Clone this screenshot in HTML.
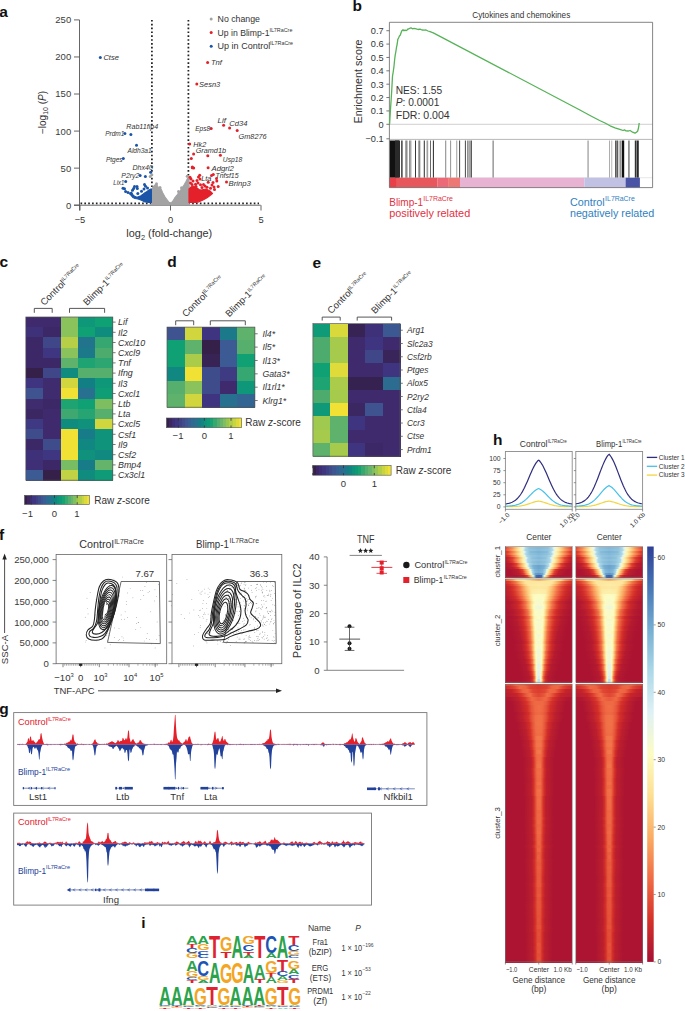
<!DOCTYPE html>
<html><head><meta charset="utf-8"><style>
html,body{margin:0;padding:0;background:#fff;width:685px;height:1011px;overflow:hidden}
svg{display:block}
text{font-family:"Liberation Sans", sans-serif}
</style></head><body>
<svg width="685" height="1011" viewBox="0 0 685 1011">
<text x="-0.8" y="16.6" font-size="15.5" text-anchor="start" fill="#111" font-weight="bold">a</text>
<line x1="79.5" y1="19.9" x2="79.5" y2="210.5" stroke="#555" stroke-width="0.9" />
<line x1="74" y1="205.2" x2="79.5" y2="205.2" stroke="#555" stroke-width="0.9" />
<text x="71.2" y="208.62" font-size="9.5" text-anchor="end" fill="#3a3a3a">0</text>
<line x1="74" y1="168.14" x2="79.5" y2="168.14" stroke="#555" stroke-width="0.9" />
<text x="71.2" y="171.56" font-size="9.5" text-anchor="end" fill="#3a3a3a">50</text>
<line x1="74" y1="131.08" x2="79.5" y2="131.08" stroke="#555" stroke-width="0.9" />
<text x="71.2" y="134.5" font-size="9.5" text-anchor="end" fill="#3a3a3a">100</text>
<line x1="74" y1="94.02" x2="79.5" y2="94.02" stroke="#555" stroke-width="0.9" />
<text x="71.2" y="97.44" font-size="9.5" text-anchor="end" fill="#3a3a3a">150</text>
<line x1="74" y1="56.96" x2="79.5" y2="56.96" stroke="#555" stroke-width="0.9" />
<text x="71.2" y="60.38" font-size="9.5" text-anchor="end" fill="#3a3a3a">200</text>
<line x1="74" y1="19.9" x2="79.5" y2="19.9" stroke="#555" stroke-width="0.9" />
<text x="71.2" y="23.32" font-size="9.5" text-anchor="end" fill="#3a3a3a">250</text>
<line x1="74" y1="205.2" x2="260.6" y2="205.2" stroke="#555" stroke-width="0.9" />
<line x1="80" y1="205.2" x2="80" y2="210.5" stroke="#555" stroke-width="0.9" />
<text x="80" y="222.55" font-size="9.3" text-anchor="middle" fill="#333">−5</text>
<line x1="170.5" y1="205.2" x2="170.5" y2="210.5" stroke="#555" stroke-width="0.9" />
<text x="170.5" y="222.55" font-size="9.3" text-anchor="middle" fill="#333">0</text>
<line x1="261" y1="205.2" x2="261" y2="210.5" stroke="#555" stroke-width="0.9" />
<text x="261" y="222.55" font-size="9.3" text-anchor="middle" fill="#333">5</text>
<text transform="translate(45.5,112.5) rotate(-90)" font-size="10" text-anchor="middle" fill="#333">−log<tspan font-size="7" dy="2.5">10</tspan><tspan dy="-2.5"> (</tspan><tspan font-style="italic">P</tspan>)</text>
<text x="169.3" y="237.22" font-size="10.9" text-anchor="middle" fill="#333">log<tspan font-size="7.4" dy="2.6">2</tspan><tspan dy="-2.6"> (fold-change)</tspan></text>
<line x1="151.9" y1="19.9" x2="151.9" y2="204" stroke="#222" stroke-width="1.75" stroke-dasharray="1.65 2.2"/>
<line x1="188.4" y1="19.9" x2="188.4" y2="204" stroke="#222" stroke-width="1.75" stroke-dasharray="1.65 2.2"/>
<line x1="80.5" y1="203.4" x2="259" y2="203.4" stroke="#222" stroke-width="1.75" stroke-dasharray="1.65 2.2"/>
<polygon points="151.4,204.6 151.4,190.5 153,187 155,185 156.5,184.3 157.5,186 158.5,188 160.5,188.3 161.5,190 162.5,192.5 165,197 168,201 170.3,204.2 173,201 175,197.5 177,195 180,191 182,188 184,185 186,181.5 187.5,178.5 189,178 189,204.6" fill="#a3a3a3" stroke="#a3a3a3" stroke-width="1.2" stroke-linejoin="round"/>
<circle cx="187.2" cy="176.2" r="1.5" fill="#a3a3a3"/>
<circle cx="151.8" cy="174.8" r="1.5" fill="#a3a3a3"/>
<circle cx="150.2" cy="176.5" r="1.5" fill="#a3a3a3"/>
<circle cx="156.5" cy="183.8" r="1.5" fill="#a3a3a3"/>
<circle cx="160" cy="187.6" r="1.5" fill="#a3a3a3"/>
<circle cx="181.5" cy="187.7" r="1.5" fill="#a3a3a3"/>
<circle cx="178.5" cy="191.5" r="1.5" fill="#a3a3a3"/>
<polygon points="131.5,192 133,195 134.5,196.3 137,197.3 139,196.5 141,195.8 143,194.3 145,192.7 147,191.4 149,190 150.5,189.2 151.4,189 151.4,202.4 148.5,202.3 145,202 141.5,200.2 138,199 135,198.5 133,197.5 130.5,194.5" fill="#1a55a8" stroke="#1a55a8" stroke-width="1.2" stroke-linejoin="round"/>
<circle cx="150.6" cy="172.3" r="1.5" fill="#1a55a8"/>
<circle cx="140.1" cy="175.5" r="1.5" fill="#1a55a8"/>
<circle cx="145.4" cy="176.4" r="1.5" fill="#1a55a8"/>
<circle cx="125.7" cy="181.6" r="1.5" fill="#1a55a8"/>
<circle cx="123" cy="188.2" r="1.5" fill="#1a55a8"/>
<circle cx="124.5" cy="188.8" r="1.5" fill="#1a55a8"/>
<circle cx="125.6" cy="191.6" r="1.5" fill="#1a55a8"/>
<circle cx="130.5" cy="193.4" r="1.5" fill="#1a55a8"/>
<circle cx="132.5" cy="190.2" r="1.5" fill="#1a55a8"/>
<circle cx="134.5" cy="186.5" r="1.5" fill="#1a55a8"/>
<circle cx="137" cy="186.5" r="1.5" fill="#1a55a8"/>
<circle cx="137.3" cy="188.5" r="1.5" fill="#1a55a8"/>
<circle cx="144.5" cy="184.5" r="1.5" fill="#1a55a8"/>
<circle cx="145.5" cy="186.2" r="1.5" fill="#1a55a8"/>
<circle cx="144" cy="189" r="1.5" fill="#1a55a8"/>
<circle cx="137.8" cy="193.4" r="1.5" fill="#1a55a8"/>
<circle cx="128" cy="192.5" r="1.5" fill="#1a55a8"/>
<circle cx="133.6" cy="188.4" r="1.5" fill="#1a55a8"/>
<circle cx="141.5" cy="191.2" r="1.5" fill="#1a55a8"/>
<circle cx="147.5" cy="188" r="1.5" fill="#1a55a8"/>
<circle cx="100.3" cy="57.6" r="1.5" fill="#1a55a8"/>
<circle cx="124.9" cy="133.6" r="1.5" fill="#1a55a8"/>
<circle cx="130.9" cy="134.6" r="1.5" fill="#1a55a8"/>
<circle cx="136.5" cy="145.2" r="1.5" fill="#1a55a8"/>
<circle cx="123.3" cy="158.4" r="1.5" fill="#1a55a8"/>
<polygon points="189,189 191,187 193,186 195,187 197,188 199,189.5 201,190 203.5,189.5 206,189 208,190 210,191 212.5,193.5 210,195.5 207,197.8 203,200 199,201.8 196,202.3 192.5,202.4 189,202.4" fill="#e4202b" stroke="#e4202b" stroke-width="1.2" stroke-linejoin="round"/>
<circle cx="192.3" cy="167.8" r="1.5" fill="#e4202b"/>
<circle cx="193.7" cy="168" r="1.5" fill="#e4202b"/>
<circle cx="208.1" cy="167.8" r="1.5" fill="#e4202b"/>
<circle cx="213.3" cy="174.5" r="1.5" fill="#e4202b"/>
<circle cx="211.5" cy="175.5" r="1.5" fill="#e4202b"/>
<circle cx="199.7" cy="175.3" r="1.5" fill="#e4202b"/>
<circle cx="198.5" cy="177" r="1.5" fill="#e4202b"/>
<circle cx="200" cy="179" r="1.5" fill="#e4202b"/>
<circle cx="197" cy="180.5" r="1.5" fill="#e4202b"/>
<circle cx="190" cy="177.3" r="1.5" fill="#e4202b"/>
<circle cx="191" cy="179" r="1.5" fill="#e4202b"/>
<circle cx="216.5" cy="178.5" r="1.5" fill="#e4202b"/>
<circle cx="216.8" cy="181" r="1.5" fill="#e4202b"/>
<circle cx="226.5" cy="182" r="1.5" fill="#e4202b"/>
<circle cx="208.2" cy="182.3" r="1.5" fill="#e4202b"/>
<circle cx="213" cy="182.5" r="1.5" fill="#e4202b"/>
<circle cx="212" cy="185" r="1.5" fill="#e4202b"/>
<circle cx="214" cy="187" r="1.5" fill="#e4202b"/>
<circle cx="214.5" cy="189.4" r="1.5" fill="#e4202b"/>
<circle cx="218.2" cy="186.4" r="1.5" fill="#e4202b"/>
<circle cx="193" cy="181" r="1.5" fill="#e4202b"/>
<circle cx="192" cy="184.5" r="1.5" fill="#e4202b"/>
<circle cx="200.5" cy="184.7" r="1.5" fill="#e4202b"/>
<circle cx="203.5" cy="184.5" r="1.5" fill="#e4202b"/>
<circle cx="205" cy="186" r="1.5" fill="#e4202b"/>
<circle cx="195.5" cy="184.2" r="1.5" fill="#e4202b"/>
<circle cx="190.5" cy="183" r="1.5" fill="#e4202b"/>
<circle cx="196" cy="186.5" r="1.5" fill="#e4202b"/>
<circle cx="207" cy="187.3" r="1.5" fill="#e4202b"/>
<circle cx="210.5" cy="188.2" r="1.5" fill="#e4202b"/>
<circle cx="202" cy="187.6" r="1.5" fill="#e4202b"/>
<circle cx="198" cy="183" r="1.5" fill="#e4202b"/>
<circle cx="207.6" cy="62.5" r="1.5" fill="#e4202b"/>
<circle cx="196.8" cy="84.1" r="1.5" fill="#e4202b"/>
<circle cx="223.6" cy="125.2" r="1.5" fill="#e4202b"/>
<circle cx="229.6" cy="128.1" r="1.5" fill="#e4202b"/>
<circle cx="237.2" cy="130.5" r="1.5" fill="#e4202b"/>
<circle cx="211.2" cy="128.4" r="1.5" fill="#e4202b"/>
<circle cx="189.7" cy="144.1" r="1.5" fill="#e4202b"/>
<circle cx="193.6" cy="153.9" r="1.5" fill="#e4202b"/>
<circle cx="207.8" cy="155.7" r="1.5" fill="#e4202b"/>
<circle cx="220.4" cy="155.2" r="1.5" fill="#e4202b"/>
<circle cx="191.3" cy="158.6" r="1.5" fill="#e4202b"/>
<circle cx="192.3" cy="166.9" r="1.5" fill="#e4202b"/>
<text x="126.3" y="129.34" font-size="7.6" text-anchor="start" fill="#333" font-style="italic" textLength="31.9" lengthAdjust="spacingAndGlyphs">Rab11fip4</text>
<text x="105.2" y="136.44" font-size="7.6" text-anchor="start" fill="#333" font-style="italic" textLength="19.2" lengthAdjust="spacingAndGlyphs">Prdm1</text>
<text x="127.5" y="153.34" font-size="7.6" text-anchor="start" fill="#333" font-style="italic" textLength="24.2" lengthAdjust="spacingAndGlyphs">Aldh3a1</text>
<text x="105.9" y="161.54" font-size="7.6" text-anchor="start" fill="#333" font-style="italic" textLength="16.7" lengthAdjust="spacingAndGlyphs">Ptges</text>
<text x="132.5" y="170.24" font-size="7.6" text-anchor="start" fill="#333" font-style="italic" textLength="20.4" lengthAdjust="spacingAndGlyphs">Dhx40</text>
<text x="121.3" y="178.44" font-size="7.6" text-anchor="start" fill="#333" font-style="italic" textLength="18" lengthAdjust="spacingAndGlyphs">P2ry2</text>
<text x="113.3" y="184.64" font-size="7.6" text-anchor="start" fill="#333" font-style="italic" textLength="11" lengthAdjust="spacingAndGlyphs">Lix1</text>
<text x="195.2" y="131.14" font-size="7.6" text-anchor="start" fill="#333" font-style="italic" textLength="15" lengthAdjust="spacingAndGlyphs">Eps8</text>
<text x="217.5" y="122.54" font-size="7.6" text-anchor="start" fill="#333" font-style="italic" textLength="8.5" lengthAdjust="spacingAndGlyphs">Lif</text>
<text x="229.3" y="126.34" font-size="7.6" text-anchor="start" fill="#333" font-style="italic" textLength="18.2" lengthAdjust="spacingAndGlyphs">Cd34</text>
<text x="238.5" y="139.04" font-size="7.6" text-anchor="start" fill="#333" font-style="italic" textLength="28.2" lengthAdjust="spacingAndGlyphs">Gm8276</text>
<text x="193.3" y="146.94" font-size="7.6" text-anchor="start" fill="#333" font-style="italic" textLength="12.9" lengthAdjust="spacingAndGlyphs">Hk2</text>
<text x="195.7" y="153.14" font-size="7.6" text-anchor="start" fill="#333" font-style="italic" textLength="30.3" lengthAdjust="spacingAndGlyphs">Gramd1b</text>
<text x="222.8" y="161.84" font-size="7.6" text-anchor="start" fill="#333" font-style="italic" textLength="19.5" lengthAdjust="spacingAndGlyphs">Usp18</text>
<text x="211.5" y="170.54" font-size="7.6" text-anchor="start" fill="#333" font-style="italic" textLength="22.4" lengthAdjust="spacingAndGlyphs">Adgrl2</text>
<text x="215.4" y="177.64" font-size="7.6" text-anchor="start" fill="#333" font-style="italic" textLength="23.2" lengthAdjust="spacingAndGlyphs">Tnfsf15</text>
<text x="201.2" y="180.94" font-size="7.6" text-anchor="start" fill="#333" font-style="italic" textLength="10.3" lengthAdjust="spacingAndGlyphs">Lta</text>
<text x="228.5" y="186.04" font-size="7.6" text-anchor="start" fill="#333" font-style="italic" textLength="22.4" lengthAdjust="spacingAndGlyphs">Brinp3</text>
<text x="210.9" y="65.34" font-size="7.6" text-anchor="start" fill="#333" font-style="italic" textLength="11.1" lengthAdjust="spacingAndGlyphs">Tnf</text>
<text x="199.1" y="86.94" font-size="7.6" text-anchor="start" fill="#333" font-style="italic" textLength="21.1" lengthAdjust="spacingAndGlyphs">Sesn3</text>
<text x="103.4" y="60.34" font-size="7.6" text-anchor="start" fill="#333" font-style="italic" textLength="15.5" lengthAdjust="spacingAndGlyphs">Ctse</text>
<circle cx="211.2" cy="19" r="1.5" fill="#a3a3a3"/>
<text x="217.6" y="22.2" font-size="8.8" text-anchor="start" fill="#333" textLength="42.4" lengthAdjust="spacingAndGlyphs">No change</text>
<circle cx="211.2" cy="32.6" r="1.5" fill="#e4202b"/>
<text x="217.6" y="36.1" font-size="8.8" text-anchor="start" fill="#333" textLength="51.9" lengthAdjust="spacingAndGlyphs">Up in Blimp-1</text>
<text x="269.4" y="31.5" font-size="5.2" text-anchor="start" fill="#333" textLength="23" lengthAdjust="spacingAndGlyphs">IL7RaCre</text>
<circle cx="211.2" cy="46.3" r="1.5" fill="#1a55a8"/>
<text x="217.6" y="48.8" font-size="8.8" text-anchor="start" fill="#333" textLength="52.6" lengthAdjust="spacingAndGlyphs">Up in Control</text>
<text x="270.1" y="44.7" font-size="5.2" text-anchor="start" fill="#333" textLength="23" lengthAdjust="spacingAndGlyphs">IL7RaCre</text>
<text x="352.6" y="10.8" font-size="15.5" text-anchor="start" fill="#111" font-weight="bold">b</text>
<text x="521.3" y="18.05" font-size="8.2" text-anchor="middle" fill="#333" textLength="98" lengthAdjust="spacingAndGlyphs">Cytokines and chemokines</text>
<line x1="389.4" y1="124.3" x2="652.6" y2="124.3" stroke="#c4c4c4" stroke-width="0.8" />
<line x1="389.4" y1="177.7" x2="652.6" y2="177.7" stroke="#d8d8d8" stroke-width="0.6" />
<rect x="389.7" y="140.5" width="10.2" height="37.2" fill="#111" />
<rect x="395" y="140.5" width="4" height="37.2" fill="#2a2a2a" />
<rect x="401.3" y="140.5" width="1.2" height="37.2" fill="#111" />
<rect x="405.6" y="140.5" width="0.9" height="37.2" fill="#222" />
<rect x="406.9" y="140.5" width="0.5" height="37.2" fill="#666" />
<rect x="409.4" y="140.5" width="0.8" height="37.2" fill="#444" />
<rect x="410.5" y="140.5" width="0.8" height="37.2" fill="#777" />
<rect x="415" y="140.5" width="0.9" height="37.2" fill="#222" />
<rect x="418.5" y="140.5" width="0.7" height="37.2" fill="#555" />
<rect x="419.5" y="140.5" width="0.7" height="37.2" fill="#333" />
<rect x="423.8" y="140.5" width="0.9" height="37.2" fill="#111" />
<rect x="426.6" y="140.5" width="0.7" height="37.2" fill="#888" />
<rect x="427.5" y="140.5" width="0.6" height="37.2" fill="#666" />
<rect x="430.1" y="140.5" width="0.8" height="37.2" fill="#444" />
<rect x="432.9" y="140.5" width="0.9" height="37.2" fill="#111" />
<rect x="445.3" y="140.5" width="0.9" height="37.2" fill="#777" />
<rect x="450.2" y="140.5" width="0.9" height="37.2" fill="#888" />
<rect x="456.4" y="140.5" width="0.8" height="37.2" fill="#888" />
<rect x="459.2" y="140.5" width="0.9" height="37.2" fill="#333" />
<rect x="464.9" y="140.5" width="0.9" height="37.2" fill="#333" />
<rect x="467.2" y="140.5" width="0.8" height="37.2" fill="#777" />
<rect x="468.5" y="140.5" width="0.8" height="37.2" fill="#666" />
<rect x="469.7" y="140.5" width="0.8" height="37.2" fill="#444" />
<rect x="471.1" y="140.5" width="0.8" height="37.2" fill="#333" />
<rect x="492.6" y="140.5" width="1" height="37.2" fill="#666" />
<rect x="587.6" y="140.5" width="0.9" height="37.2" fill="#777" />
<rect x="609.2" y="140.5" width="0.8" height="37.2" fill="#999" />
<rect x="611.4" y="140.5" width="0.8" height="37.2" fill="#aaa" />
<rect x="615.1" y="140.5" width="0.8" height="37.2" fill="#333" />
<rect x="616.3" y="140.5" width="0.8" height="37.2" fill="#555" />
<rect x="617.3" y="140.5" width="0.8" height="37.2" fill="#222" />
<rect x="618.8" y="140.5" width="0.7" height="37.2" fill="#888" />
<rect x="620.2" y="140.5" width="0.7" height="37.2" fill="#666" />
<rect x="621.7" y="140.5" width="2.5" height="37.2" fill="#111" />
<rect x="628.5" y="140.5" width="0.9" height="37.2" fill="#222" />
<rect x="634.8" y="140.5" width="1.3" height="37.2" fill="#333" />
<rect x="636.2" y="140.5" width="0.9" height="37.2" fill="#666" />
<rect x="637.1" y="140.5" width="1.6" height="37.2" fill="#111" />
<rect x="389.4" y="177.7" width="7.5" height="9.8" fill="#e83f49" />
<rect x="396.9" y="177.7" width="40.7" height="9.8" fill="#e8575b" />
<rect x="437.6" y="177.7" width="10.5" height="9.8" fill="#ec6a77" />
<rect x="448.1" y="177.7" width="11.9" height="9.8" fill="#ed7774" />
<rect x="460" y="177.7" width="124.4" height="9.8" fill="#e8b3d3" />
<rect x="584.4" y="177.7" width="40.5" height="9.8" fill="#c0c1e3" />
<rect x="624.9" y="177.7" width="1.1" height="9.8" fill="#9fa0d4" />
<rect x="626" y="177.7" width="13.9" height="9.8" fill="#4a54a6" />
<path d="M389.4,22.3 H652.6 V187.6 H389.4 Z" fill="none" stroke="#666" stroke-width="0.8"/>
<line x1="389.4" y1="139.4" x2="652.6" y2="139.4" stroke="#999" stroke-width="0.7" />
<line x1="386.4" y1="30.71" x2="389.4" y2="30.71" stroke="#555" stroke-width="0.8" />
<text x="383.6" y="34.02" font-size="9.2" text-anchor="end" fill="#333">0.7</text>
<line x1="386.4" y1="44.08" x2="389.4" y2="44.08" stroke="#555" stroke-width="0.8" />
<text x="383.6" y="47.39" font-size="9.2" text-anchor="end" fill="#333">0.6</text>
<line x1="386.4" y1="57.45" x2="389.4" y2="57.45" stroke="#555" stroke-width="0.8" />
<text x="383.6" y="60.76" font-size="9.2" text-anchor="end" fill="#333">0.5</text>
<line x1="386.4" y1="70.82" x2="389.4" y2="70.82" stroke="#555" stroke-width="0.8" />
<text x="383.6" y="74.13" font-size="9.2" text-anchor="end" fill="#333">0.4</text>
<line x1="386.4" y1="84.19" x2="389.4" y2="84.19" stroke="#555" stroke-width="0.8" />
<text x="383.6" y="87.5" font-size="9.2" text-anchor="end" fill="#333">0.3</text>
<line x1="386.4" y1="97.56" x2="389.4" y2="97.56" stroke="#555" stroke-width="0.8" />
<text x="383.6" y="100.87" font-size="9.2" text-anchor="end" fill="#333">0.2</text>
<line x1="386.4" y1="110.93" x2="389.4" y2="110.93" stroke="#555" stroke-width="0.8" />
<text x="383.6" y="114.24" font-size="9.2" text-anchor="end" fill="#333">0.1</text>
<line x1="386.4" y1="124.3" x2="389.4" y2="124.3" stroke="#555" stroke-width="0.8" />
<text x="383.6" y="127.61" font-size="9.2" text-anchor="end" fill="#333">0</text>
<line x1="386.4" y1="138.8" x2="389.4" y2="138.8" stroke="#555" stroke-width="0.8" />
<text x="383.6" y="142.11" font-size="9.2" text-anchor="end" fill="#333">−0.1</text>
<text transform="translate(361.8,81.5) rotate(-90)" font-size="10.6" text-anchor="middle" fill="#333" textLength="84" lengthAdjust="spacingAndGlyphs">Enrichment score</text>
<polyline points="389.6,124.3 390.4,110.4 391.2,99 391.8,89.3 392.5,76.2 393.2,72 393.9,67 394.6,60 395.2,55.2 395.8,52 396.5,47.3 397.2,44 397.8,39.4 398.6,38 399.4,36 400.2,35.3 401,33 401.7,31 402.5,30.2 403,29.7 404,30.8 405,30.1 406,30.6 407,30.2 408,29 409,28.8 410,28.2 411,27.9 412.5,28.8 414,28.4 416.2,28.9 418,29.5 420,29.2 422,30 424.1,30.2 426,30 428,31 430,31.6 433.3,32.8 579.9,110 590,115.5 599.6,120.5 605,123 610.1,125.8 615,127.8 620.6,129.7 623,130.5 624.5,129.8 626,130.9 628.5,131 630,130.5 632,131.8 635,133.1 636.5,132.2 637.7,131 638.5,128 639,124.5 639.2,123" fill="none" stroke="#55b257" stroke-width="1.3" stroke-linejoin="round"/>
<text x="395.7" y="94.27" font-size="10.2" text-anchor="start" fill="#333">NES: 1.55</text>
<text x="395.7" y="106.27" font-size="10.2" text-anchor="start" fill="#333"><tspan font-style="italic">P</tspan>: 0.0001</text>
<text x="395.7" y="118.77" font-size="10.2" text-anchor="start" fill="#333" textLength="54" lengthAdjust="spacingAndGlyphs">FDR: 0.004</text>
<text x="389.2" y="206.1" font-size="10.9" text-anchor="start" fill="#e2313f" textLength="34" lengthAdjust="spacingAndGlyphs">Blimp-1</text>
<text x="423.3" y="201" font-size="6.8" text-anchor="start" fill="#e2313f" textLength="29.6" lengthAdjust="spacingAndGlyphs">IL7RaCre</text>
<text x="389.2" y="217.4" font-size="10.9" text-anchor="start" fill="#e2313f" textLength="81" lengthAdjust="spacingAndGlyphs">positively related</text>
<text x="569.9" y="205.9" font-size="10.9" text-anchor="start" fill="#2f7fc1" textLength="34.8" lengthAdjust="spacingAndGlyphs">Control</text>
<text x="605.1" y="201" font-size="6.8" text-anchor="start" fill="#2f7fc1" textLength="29.7" lengthAdjust="spacingAndGlyphs">IL7RaCre</text>
<text x="569.9" y="217.4" font-size="10.9" text-anchor="start" fill="#2f7fc1" textLength="84.4" lengthAdjust="spacingAndGlyphs">negatively related</text>
<text x="-0.6" y="267.4" font-size="15.5" text-anchor="start" fill="#111" font-weight="bold">c</text>
<rect x="25.8" y="317" width="17.9" height="10.7" fill="#3e2a6c" shape-rendering="crispEdges"/>
<rect x="43.2" y="317" width="17.9" height="10.7" fill="#3e2a6c" shape-rendering="crispEdges"/>
<rect x="60.6" y="317" width="17.9" height="10.7" fill="#8ac25b" shape-rendering="crispEdges"/>
<rect x="78" y="317" width="17.9" height="10.7" fill="#0f9779" shape-rendering="crispEdges"/>
<rect x="95.4" y="317" width="17.9" height="10.7" fill="#0fa174" shape-rendering="crispEdges"/>
<rect x="25.8" y="327.2" width="17.9" height="10.7" fill="#3e3179" shape-rendering="crispEdges"/>
<rect x="43.2" y="327.2" width="17.9" height="10.7" fill="#3c2866" shape-rendering="crispEdges"/>
<rect x="60.6" y="327.2" width="17.9" height="10.7" fill="#8ac25b" shape-rendering="crispEdges"/>
<rect x="78" y="327.2" width="17.9" height="10.7" fill="#0fa174" shape-rendering="crispEdges"/>
<rect x="95.4" y="327.2" width="17.9" height="10.7" fill="#108c7f" shape-rendering="crispEdges"/>
<rect x="25.8" y="337.4" width="17.9" height="10.7" fill="#3c2866" shape-rendering="crispEdges"/>
<rect x="43.2" y="337.4" width="17.9" height="10.7" fill="#404788" shape-rendering="crispEdges"/>
<rect x="60.6" y="337.4" width="17.9" height="10.7" fill="#b6cf47" shape-rendering="crispEdges"/>
<rect x="78" y="337.4" width="17.9" height="10.7" fill="#22748c" shape-rendering="crispEdges"/>
<rect x="95.4" y="337.4" width="17.9" height="10.7" fill="#36a770" shape-rendering="crispEdges"/>
<rect x="25.8" y="347.6" width="17.9" height="10.7" fill="#3c2866" shape-rendering="crispEdges"/>
<rect x="43.2" y="347.6" width="17.9" height="10.7" fill="#3e3681" shape-rendering="crispEdges"/>
<rect x="60.6" y="347.6" width="17.9" height="10.7" fill="#8ac25b" shape-rendering="crispEdges"/>
<rect x="78" y="347.6" width="17.9" height="10.7" fill="#1b7989" shape-rendering="crispEdges"/>
<rect x="95.4" y="347.6" width="17.9" height="10.7" fill="#4dab6e" shape-rendering="crispEdges"/>
<rect x="25.8" y="357.8" width="17.9" height="10.7" fill="#3c2866" shape-rendering="crispEdges"/>
<rect x="43.2" y="357.8" width="17.9" height="10.7" fill="#3c2866" shape-rendering="crispEdges"/>
<rect x="60.6" y="357.8" width="17.9" height="10.7" fill="#5fb26c" shape-rendering="crispEdges"/>
<rect x="78" y="357.8" width="17.9" height="10.7" fill="#1ea472" shape-rendering="crispEdges"/>
<rect x="95.4" y="357.8" width="17.9" height="10.7" fill="#2ea671" shape-rendering="crispEdges"/>
<rect x="25.8" y="368" width="17.9" height="10.7" fill="#35204a" shape-rendering="crispEdges"/>
<rect x="43.2" y="368" width="17.9" height="10.7" fill="#404788" shape-rendering="crispEdges"/>
<rect x="60.6" y="368" width="17.9" height="10.7" fill="#108c7f" shape-rendering="crispEdges"/>
<rect x="78" y="368" width="17.9" height="10.7" fill="#56af6d" shape-rendering="crispEdges"/>
<rect x="95.4" y="368" width="17.9" height="10.7" fill="#56af6d" shape-rendering="crispEdges"/>
<rect x="25.8" y="378.2" width="17.9" height="10.7" fill="#3e3480" shape-rendering="crispEdges"/>
<rect x="43.2" y="378.2" width="17.9" height="10.7" fill="#3e2c6f" shape-rendering="crispEdges"/>
<rect x="60.6" y="378.2" width="17.9" height="10.7" fill="#d1d63f" shape-rendering="crispEdges"/>
<rect x="78" y="378.2" width="17.9" height="10.7" fill="#127f85" shape-rendering="crispEdges"/>
<rect x="95.4" y="378.2" width="17.9" height="10.7" fill="#0f9779" shape-rendering="crispEdges"/>
<rect x="25.8" y="388.4" width="17.9" height="10.7" fill="#3e5390" shape-rendering="crispEdges"/>
<rect x="43.2" y="388.4" width="17.9" height="10.7" fill="#3e2c6f" shape-rendering="crispEdges"/>
<rect x="60.6" y="388.4" width="17.9" height="10.7" fill="#f0e134" shape-rendering="crispEdges"/>
<rect x="78" y="388.4" width="17.9" height="10.7" fill="#28708f" shape-rendering="crispEdges"/>
<rect x="95.4" y="388.4" width="17.9" height="10.7" fill="#0f9d76" shape-rendering="crispEdges"/>
<rect x="25.8" y="398.6" width="17.9" height="10.7" fill="#3e2c6f" shape-rendering="crispEdges"/>
<rect x="43.2" y="398.6" width="17.9" height="10.7" fill="#3c2866" shape-rendering="crispEdges"/>
<rect x="60.6" y="398.6" width="17.9" height="10.7" fill="#1ea472" shape-rendering="crispEdges"/>
<rect x="78" y="398.6" width="17.9" height="10.7" fill="#0fa174" shape-rendering="crispEdges"/>
<rect x="95.4" y="398.6" width="17.9" height="10.7" fill="#7ebe61" shape-rendering="crispEdges"/>
<rect x="25.8" y="408.8" width="17.9" height="10.7" fill="#3b2761" shape-rendering="crispEdges"/>
<rect x="43.2" y="408.8" width="17.9" height="10.7" fill="#3e2a6c" shape-rendering="crispEdges"/>
<rect x="60.6" y="408.8" width="17.9" height="10.7" fill="#3ea870" shape-rendering="crispEdges"/>
<rect x="78" y="408.8" width="17.9" height="10.7" fill="#26a572" shape-rendering="crispEdges"/>
<rect x="95.4" y="408.8" width="17.9" height="10.7" fill="#56af6d" shape-rendering="crispEdges"/>
<rect x="25.8" y="419" width="17.9" height="10.7" fill="#3e3982" shape-rendering="crispEdges"/>
<rect x="43.2" y="419" width="17.9" height="10.7" fill="#3e2a6c" shape-rendering="crispEdges"/>
<rect x="60.6" y="419" width="17.9" height="10.7" fill="#108c7f" shape-rendering="crispEdges"/>
<rect x="78" y="419" width="17.9" height="10.7" fill="#0f917c" shape-rendering="crispEdges"/>
<rect x="95.4" y="419" width="17.9" height="10.7" fill="#d1d63f" shape-rendering="crispEdges"/>
<rect x="25.8" y="429.2" width="17.9" height="10.7" fill="#3f4c8b" shape-rendering="crispEdges"/>
<rect x="43.2" y="429.2" width="17.9" height="10.7" fill="#3e2a6c" shape-rendering="crispEdges"/>
<rect x="60.6" y="429.2" width="17.9" height="10.7" fill="#f0e134" shape-rendering="crispEdges"/>
<rect x="78" y="429.2" width="17.9" height="10.7" fill="#187b88" shape-rendering="crispEdges"/>
<rect x="95.4" y="429.2" width="17.9" height="10.7" fill="#0f937b" shape-rendering="crispEdges"/>
<rect x="25.8" y="439.4" width="17.9" height="10.7" fill="#3c2866" shape-rendering="crispEdges"/>
<rect x="43.2" y="439.4" width="17.9" height="10.7" fill="#3f4c8b" shape-rendering="crispEdges"/>
<rect x="60.6" y="439.4" width="17.9" height="10.7" fill="#f0e134" shape-rendering="crispEdges"/>
<rect x="78" y="439.4" width="17.9" height="10.7" fill="#118781" shape-rendering="crispEdges"/>
<rect x="95.4" y="439.4" width="17.9" height="10.7" fill="#0f937b" shape-rendering="crispEdges"/>
<rect x="25.8" y="449.6" width="17.9" height="10.7" fill="#3e3179" shape-rendering="crispEdges"/>
<rect x="43.2" y="449.6" width="17.9" height="10.7" fill="#3e3681" shape-rendering="crispEdges"/>
<rect x="60.6" y="449.6" width="17.9" height="10.7" fill="#f0e134" shape-rendering="crispEdges"/>
<rect x="78" y="449.6" width="17.9" height="10.7" fill="#0f917c" shape-rendering="crispEdges"/>
<rect x="95.4" y="449.6" width="17.9" height="10.7" fill="#108980" shape-rendering="crispEdges"/>
<rect x="25.8" y="459.8" width="17.9" height="10.7" fill="#3e2f76" shape-rendering="crispEdges"/>
<rect x="43.2" y="459.8" width="17.9" height="10.7" fill="#3c2866" shape-rendering="crispEdges"/>
<rect x="60.6" y="459.8" width="17.9" height="10.7" fill="#78bc64" shape-rendering="crispEdges"/>
<rect x="78" y="459.8" width="17.9" height="10.7" fill="#187b88" shape-rendering="crispEdges"/>
<rect x="95.4" y="459.8" width="17.9" height="10.7" fill="#64b46b" shape-rendering="crispEdges"/>
<rect x="25.8" y="470" width="17.9" height="10.7" fill="#3c5a94" shape-rendering="crispEdges"/>
<rect x="43.2" y="470" width="17.9" height="10.7" fill="#35204a" shape-rendering="crispEdges"/>
<rect x="60.6" y="470" width="17.9" height="10.7" fill="#c1d244" shape-rendering="crispEdges"/>
<rect x="78" y="470" width="17.9" height="10.7" fill="#108c7f" shape-rendering="crispEdges"/>
<rect x="95.4" y="470" width="17.9" height="10.7" fill="#0f9b77" shape-rendering="crispEdges"/>
<rect x="25.8" y="317" width="87" height="163.2" fill="none" stroke="#555" stroke-width="0.7"/>
<line x1="112.8" y1="322.1" x2="115.6" y2="322.1" stroke="#555" stroke-width="0.8" />
<text x="118" y="325.3" font-size="8.9" text-anchor="start" fill="#333" font-style="italic">Lif</text>
<line x1="112.8" y1="332.3" x2="115.6" y2="332.3" stroke="#555" stroke-width="0.8" />
<text x="118" y="335.5" font-size="8.9" text-anchor="start" fill="#333" font-style="italic">Il2</text>
<line x1="112.8" y1="342.5" x2="115.6" y2="342.5" stroke="#555" stroke-width="0.8" />
<text x="118" y="345.7" font-size="8.9" text-anchor="start" fill="#333" font-style="italic">Cxcl10</text>
<line x1="112.8" y1="352.7" x2="115.6" y2="352.7" stroke="#555" stroke-width="0.8" />
<text x="118" y="355.9" font-size="8.9" text-anchor="start" fill="#333" font-style="italic">Cxcl9</text>
<line x1="112.8" y1="362.9" x2="115.6" y2="362.9" stroke="#555" stroke-width="0.8" />
<text x="118" y="366.1" font-size="8.9" text-anchor="start" fill="#333" font-style="italic">Tnf</text>
<line x1="112.8" y1="373.1" x2="115.6" y2="373.1" stroke="#555" stroke-width="0.8" />
<text x="118" y="376.3" font-size="8.9" text-anchor="start" fill="#333" font-style="italic">Ifng</text>
<line x1="112.8" y1="383.3" x2="115.6" y2="383.3" stroke="#555" stroke-width="0.8" />
<text x="118" y="386.5" font-size="8.9" text-anchor="start" fill="#333" font-style="italic">Il3</text>
<line x1="112.8" y1="393.5" x2="115.6" y2="393.5" stroke="#555" stroke-width="0.8" />
<text x="118" y="396.7" font-size="8.9" text-anchor="start" fill="#333" font-style="italic">Cxcl1</text>
<line x1="112.8" y1="403.7" x2="115.6" y2="403.7" stroke="#555" stroke-width="0.8" />
<text x="118" y="406.9" font-size="8.9" text-anchor="start" fill="#333" font-style="italic">Ltb</text>
<line x1="112.8" y1="413.9" x2="115.6" y2="413.9" stroke="#555" stroke-width="0.8" />
<text x="118" y="417.1" font-size="8.9" text-anchor="start" fill="#333" font-style="italic">Lta</text>
<line x1="112.8" y1="424.1" x2="115.6" y2="424.1" stroke="#555" stroke-width="0.8" />
<text x="118" y="427.3" font-size="8.9" text-anchor="start" fill="#333" font-style="italic">Cxcl5</text>
<line x1="112.8" y1="434.3" x2="115.6" y2="434.3" stroke="#555" stroke-width="0.8" />
<text x="118" y="437.5" font-size="8.9" text-anchor="start" fill="#333" font-style="italic">Csf1</text>
<line x1="112.8" y1="444.5" x2="115.6" y2="444.5" stroke="#555" stroke-width="0.8" />
<text x="118" y="447.7" font-size="8.9" text-anchor="start" fill="#333" font-style="italic">Il9</text>
<line x1="112.8" y1="454.7" x2="115.6" y2="454.7" stroke="#555" stroke-width="0.8" />
<text x="118" y="457.9" font-size="8.9" text-anchor="start" fill="#333" font-style="italic">Csf2</text>
<line x1="112.8" y1="464.9" x2="115.6" y2="464.9" stroke="#555" stroke-width="0.8" />
<text x="118" y="468.1" font-size="8.9" text-anchor="start" fill="#333" font-style="italic">Bmp4</text>
<line x1="112.8" y1="475.1" x2="115.6" y2="475.1" stroke="#555" stroke-width="0.8" />
<text x="118" y="478.3" font-size="8.9" text-anchor="start" fill="#333" font-style="italic">Cx3cl1</text>
<path d="M34.3,312.8 V308.4 H52.2 V312.8" fill="none" stroke="#444" stroke-width="0.9"/>
<path d="M69.5,312.8 V308.4 H104.6 V312.8" fill="none" stroke="#444" stroke-width="0.9"/>
<text transform="translate(44.2,306) rotate(-45)" font-size="9.5" fill="#333">Control<tspan font-size="5.4" dy="-3.8">IL7RaCre</tspan></text>
<text transform="translate(87,306) rotate(-45)" font-size="9.5" fill="#333">Blimp-1<tspan font-size="5.4" dy="-3.8">IL7RaCre</tspan></text>
<defs><linearGradient id="g24" x1="0" x2="1" y1="0" y2="0"><stop offset="0" stop-color="#35204a"/><stop offset="0.04" stop-color="#35204a"/><stop offset="0.04" stop-color="#3c2763"/><stop offset="0.08" stop-color="#3c2763"/><stop offset="0.08" stop-color="#3e2e75"/><stop offset="0.12" stop-color="#3e2e75"/><stop offset="0.12" stop-color="#3e3681"/><stop offset="0.17" stop-color="#3e3681"/><stop offset="0.17" stop-color="#3f4185"/><stop offset="0.21" stop-color="#3f4185"/><stop offset="0.21" stop-color="#3f4b8b"/><stop offset="0.25" stop-color="#3f4b8b"/><stop offset="0.25" stop-color="#3d5591"/><stop offset="0.29" stop-color="#3d5591"/><stop offset="0.29" stop-color="#375f93"/><stop offset="0.33" stop-color="#375f93"/><stop offset="0.33" stop-color="#2e6991"/><stop offset="0.38" stop-color="#2e6991"/><stop offset="0.38" stop-color="#24728d"/><stop offset="0.42" stop-color="#24728d"/><stop offset="0.42" stop-color="#177c87"/><stop offset="0.46" stop-color="#177c87"/><stop offset="0.46" stop-color="#118681"/><stop offset="0.5" stop-color="#118681"/><stop offset="0.5" stop-color="#0f917c"/><stop offset="0.54" stop-color="#0f917c"/><stop offset="0.54" stop-color="#0f9a77"/><stop offset="0.58" stop-color="#0f9a77"/><stop offset="0.58" stop-color="#16a273"/><stop offset="0.62" stop-color="#16a273"/><stop offset="0.62" stop-color="#37a870"/><stop offset="0.67" stop-color="#37a870"/><stop offset="0.67" stop-color="#54ae6d"/><stop offset="0.71" stop-color="#54ae6d"/><stop offset="0.71" stop-color="#68b66b"/><stop offset="0.75" stop-color="#68b66b"/><stop offset="0.75" stop-color="#80be60"/><stop offset="0.79" stop-color="#80be60"/><stop offset="0.79" stop-color="#98c653"/><stop offset="0.83" stop-color="#98c653"/><stop offset="0.83" stop-color="#b1ce49"/><stop offset="0.88" stop-color="#b1ce49"/><stop offset="0.88" stop-color="#c8d442"/><stop offset="0.92" stop-color="#c8d442"/><stop offset="0.92" stop-color="#ddda3b"/><stop offset="0.96" stop-color="#ddda3b"/><stop offset="0.96" stop-color="#f0e134"/><stop offset="1" stop-color="#f0e134"/></linearGradient></defs>
<rect x="24.5" y="495.3" width="64.8" height="9.2" fill="url(#g24)" stroke="#555" stroke-width="0.6"/>
<line x1="31.3" y1="495.3" x2="31.3" y2="498.1" stroke="#333" stroke-width="0.8" />
<line x1="31.3" y1="502.3" x2="31.3" y2="504.5" stroke="#333" stroke-width="0.8" />
<line x1="54.5" y1="495.3" x2="54.5" y2="498.1" stroke="#333" stroke-width="0.8" />
<line x1="54.5" y1="502.3" x2="54.5" y2="504.5" stroke="#333" stroke-width="0.8" />
<line x1="77.2" y1="495.3" x2="77.2" y2="498.1" stroke="#333" stroke-width="0.8" />
<line x1="77.2" y1="502.3" x2="77.2" y2="504.5" stroke="#333" stroke-width="0.8" />
<text x="27.5" y="516.62" font-size="9.5" text-anchor="middle" fill="#333">−1</text>
<text x="54.4" y="516.62" font-size="9.5" text-anchor="middle" fill="#333">0</text>
<text x="76.8" y="516.62" font-size="9.5" text-anchor="middle" fill="#333">1</text>
<text x="94.2" y="503.6" font-size="10" text-anchor="start" fill="#333">Raw <tspan font-style="italic">z</tspan>-score</text>
<text x="167.3" y="267.4" font-size="15.5" text-anchor="start" fill="#111" font-weight="bold">d</text>
<rect x="167" y="327.1" width="18.08" height="13.85" fill="#3e5390" shape-rendering="crispEdges"/>
<rect x="184.58" y="327.1" width="18.08" height="13.85" fill="#d1d63f" shape-rendering="crispEdges"/>
<rect x="202.16" y="327.1" width="18.08" height="13.85" fill="#3e3480" shape-rendering="crispEdges"/>
<rect x="219.74" y="327.1" width="18.08" height="13.85" fill="#1b7989" shape-rendering="crispEdges"/>
<rect x="237.32" y="327.1" width="18.08" height="13.85" fill="#5fb26c" shape-rendering="crispEdges"/>
<rect x="167" y="340.45" width="18.08" height="13.85" fill="#0fa174" shape-rendering="crispEdges"/>
<rect x="184.58" y="340.45" width="18.08" height="13.85" fill="#5fb26c" shape-rendering="crispEdges"/>
<rect x="202.16" y="340.45" width="18.08" height="13.85" fill="#35204a" shape-rendering="crispEdges"/>
<rect x="219.74" y="340.45" width="18.08" height="13.85" fill="#3c5a94" shape-rendering="crispEdges"/>
<rect x="237.32" y="340.45" width="18.08" height="13.85" fill="#56af6d" shape-rendering="crispEdges"/>
<rect x="167" y="353.8" width="18.08" height="13.85" fill="#0fa174" shape-rendering="crispEdges"/>
<rect x="184.58" y="353.8" width="18.08" height="13.85" fill="#abcc4a" shape-rendering="crispEdges"/>
<rect x="202.16" y="353.8" width="18.08" height="13.85" fill="#382355" shape-rendering="crispEdges"/>
<rect x="219.74" y="353.8" width="18.08" height="13.85" fill="#3c5a94" shape-rendering="crispEdges"/>
<rect x="237.32" y="353.8" width="18.08" height="13.85" fill="#0fa174" shape-rendering="crispEdges"/>
<rect x="167" y="367.15" width="18.08" height="13.85" fill="#118781" shape-rendering="crispEdges"/>
<rect x="184.58" y="367.15" width="18.08" height="13.85" fill="#f0e134" shape-rendering="crispEdges"/>
<rect x="202.16" y="367.15" width="18.08" height="13.85" fill="#3f4c8b" shape-rendering="crispEdges"/>
<rect x="219.74" y="367.15" width="18.08" height="13.85" fill="#3f3b83" shape-rendering="crispEdges"/>
<rect x="237.32" y="367.15" width="18.08" height="13.85" fill="#36a770" shape-rendering="crispEdges"/>
<rect x="167" y="380.5" width="18.08" height="13.85" fill="#56af6d" shape-rendering="crispEdges"/>
<rect x="184.58" y="380.5" width="18.08" height="13.85" fill="#8ac25b" shape-rendering="crispEdges"/>
<rect x="202.16" y="380.5" width="18.08" height="13.85" fill="#3f4c8b" shape-rendering="crispEdges"/>
<rect x="219.74" y="380.5" width="18.08" height="13.85" fill="#3e2a6c" shape-rendering="crispEdges"/>
<rect x="237.32" y="380.5" width="18.08" height="13.85" fill="#0f9779" shape-rendering="crispEdges"/>
<rect x="167" y="393.85" width="18.08" height="13.85" fill="#5fb26c" shape-rendering="crispEdges"/>
<rect x="184.58" y="393.85" width="18.08" height="13.85" fill="#d1d63f" shape-rendering="crispEdges"/>
<rect x="202.16" y="393.85" width="18.08" height="13.85" fill="#3e3480" shape-rendering="crispEdges"/>
<rect x="219.74" y="393.85" width="18.08" height="13.85" fill="#28708f" shape-rendering="crispEdges"/>
<rect x="237.32" y="393.85" width="18.08" height="13.85" fill="#326592" shape-rendering="crispEdges"/>
<rect x="167" y="327.1" width="87.9" height="80.1" fill="none" stroke="#555" stroke-width="0.7"/>
<line x1="254.9" y1="333.78" x2="257.7" y2="333.78" stroke="#555" stroke-width="0.8" />
<text x="262.5" y="336.91" font-size="8.7" text-anchor="start" fill="#333" font-style="italic">Il4*</text>
<line x1="254.9" y1="347.12" x2="257.7" y2="347.12" stroke="#555" stroke-width="0.8" />
<text x="262.5" y="350.26" font-size="8.7" text-anchor="start" fill="#333" font-style="italic">Il5*</text>
<line x1="254.9" y1="360.48" x2="257.7" y2="360.48" stroke="#555" stroke-width="0.8" />
<text x="262.5" y="363.61" font-size="8.7" text-anchor="start" fill="#333" font-style="italic">Il13*</text>
<line x1="254.9" y1="373.83" x2="257.7" y2="373.83" stroke="#555" stroke-width="0.8" />
<text x="262.5" y="376.96" font-size="8.7" text-anchor="start" fill="#333" font-style="italic">Gata3*</text>
<line x1="254.9" y1="387.18" x2="257.7" y2="387.18" stroke="#555" stroke-width="0.8" />
<text x="262.5" y="390.31" font-size="8.7" text-anchor="start" fill="#333" font-style="italic">Il1rl1*</text>
<line x1="254.9" y1="400.53" x2="257.7" y2="400.53" stroke="#555" stroke-width="0.8" />
<text x="262.5" y="403.66" font-size="8.7" text-anchor="start" fill="#333" font-style="italic">Klrg1*</text>
<path d="M175.7,325.2 V320.8 H193.7 V325.2" fill="none" stroke="#444" stroke-width="0.9"/>
<path d="M210.3,325.2 V320.8 H245.3 V325.2" fill="none" stroke="#444" stroke-width="0.9"/>
<text transform="translate(186,317.6) rotate(-45)" font-size="9.5" fill="#333">Control<tspan font-size="5.4" dy="-3.8">IL7RaCre</tspan></text>
<text transform="translate(229.3,317.6) rotate(-45)" font-size="9.5" fill="#333">Blimp-1<tspan font-size="5.4" dy="-3.8">IL7RaCre</tspan></text>
<defs><linearGradient id="g166" x1="0" x2="1" y1="0" y2="0"><stop offset="0" stop-color="#35204a"/><stop offset="0.04" stop-color="#35204a"/><stop offset="0.04" stop-color="#3c2763"/><stop offset="0.08" stop-color="#3c2763"/><stop offset="0.08" stop-color="#3e2e75"/><stop offset="0.12" stop-color="#3e2e75"/><stop offset="0.12" stop-color="#3e3681"/><stop offset="0.17" stop-color="#3e3681"/><stop offset="0.17" stop-color="#3f4185"/><stop offset="0.21" stop-color="#3f4185"/><stop offset="0.21" stop-color="#3f4b8b"/><stop offset="0.25" stop-color="#3f4b8b"/><stop offset="0.25" stop-color="#3d5591"/><stop offset="0.29" stop-color="#3d5591"/><stop offset="0.29" stop-color="#375f93"/><stop offset="0.33" stop-color="#375f93"/><stop offset="0.33" stop-color="#2e6991"/><stop offset="0.38" stop-color="#2e6991"/><stop offset="0.38" stop-color="#24728d"/><stop offset="0.42" stop-color="#24728d"/><stop offset="0.42" stop-color="#177c87"/><stop offset="0.46" stop-color="#177c87"/><stop offset="0.46" stop-color="#118681"/><stop offset="0.5" stop-color="#118681"/><stop offset="0.5" stop-color="#0f917c"/><stop offset="0.54" stop-color="#0f917c"/><stop offset="0.54" stop-color="#0f9a77"/><stop offset="0.58" stop-color="#0f9a77"/><stop offset="0.58" stop-color="#16a273"/><stop offset="0.62" stop-color="#16a273"/><stop offset="0.62" stop-color="#37a870"/><stop offset="0.67" stop-color="#37a870"/><stop offset="0.67" stop-color="#54ae6d"/><stop offset="0.71" stop-color="#54ae6d"/><stop offset="0.71" stop-color="#68b66b"/><stop offset="0.75" stop-color="#68b66b"/><stop offset="0.75" stop-color="#80be60"/><stop offset="0.79" stop-color="#80be60"/><stop offset="0.79" stop-color="#98c653"/><stop offset="0.83" stop-color="#98c653"/><stop offset="0.83" stop-color="#b1ce49"/><stop offset="0.88" stop-color="#b1ce49"/><stop offset="0.88" stop-color="#c8d442"/><stop offset="0.92" stop-color="#c8d442"/><stop offset="0.92" stop-color="#ddda3b"/><stop offset="0.96" stop-color="#ddda3b"/><stop offset="0.96" stop-color="#f0e134"/><stop offset="1" stop-color="#f0e134"/></linearGradient></defs>
<rect x="166.4" y="418" width="75.2" height="9.7" fill="url(#g166)" stroke="#555" stroke-width="0.6"/>
<line x1="178.4" y1="418" x2="178.4" y2="420.8" stroke="#333" stroke-width="0.8" />
<line x1="178.4" y1="425.5" x2="178.4" y2="427.7" stroke="#333" stroke-width="0.8" />
<line x1="204.4" y1="418" x2="204.4" y2="420.8" stroke="#333" stroke-width="0.8" />
<line x1="204.4" y1="425.5" x2="204.4" y2="427.7" stroke="#333" stroke-width="0.8" />
<line x1="231" y1="418" x2="231" y2="420.8" stroke="#333" stroke-width="0.8" />
<line x1="231" y1="425.5" x2="231" y2="427.7" stroke="#333" stroke-width="0.8" />
<text x="178" y="439.42" font-size="9.5" text-anchor="middle" fill="#333">−1</text>
<text x="204.4" y="439.42" font-size="9.5" text-anchor="middle" fill="#333">0</text>
<text x="230.8" y="439.42" font-size="9.5" text-anchor="middle" fill="#333">1</text>
<text x="245.3" y="426.4" font-size="10" text-anchor="start" fill="#333">Raw <tspan font-style="italic">z</tspan>-score</text>
<text x="312.4" y="267.6" font-size="15.5" text-anchor="start" fill="#111" font-weight="bold">e</text>
<rect x="312.9" y="323.6" width="17.92" height="13.76" fill="#0f9b77" shape-rendering="crispEdges"/>
<rect x="330.32" y="323.6" width="17.92" height="13.76" fill="#dad93c" shape-rendering="crispEdges"/>
<rect x="347.74" y="323.6" width="17.92" height="13.76" fill="#382355" shape-rendering="crispEdges"/>
<rect x="365.16" y="323.6" width="17.92" height="13.76" fill="#3e3179" shape-rendering="crispEdges"/>
<rect x="382.58" y="323.6" width="17.92" height="13.76" fill="#3c5892" shape-rendering="crispEdges"/>
<rect x="312.9" y="336.86" width="17.92" height="13.76" fill="#4dab6e" shape-rendering="crispEdges"/>
<rect x="330.32" y="336.86" width="17.92" height="13.76" fill="#a6cb4c" shape-rendering="crispEdges"/>
<rect x="347.74" y="336.86" width="17.92" height="13.76" fill="#3e2a6c" shape-rendering="crispEdges"/>
<rect x="365.16" y="336.86" width="17.92" height="13.76" fill="#3e3480" shape-rendering="crispEdges"/>
<rect x="382.58" y="336.86" width="17.92" height="13.76" fill="#3e2a6c" shape-rendering="crispEdges"/>
<rect x="312.9" y="350.12" width="17.92" height="13.76" fill="#4dab6e" shape-rendering="crispEdges"/>
<rect x="330.32" y="350.12" width="17.92" height="13.76" fill="#a6cb4c" shape-rendering="crispEdges"/>
<rect x="347.74" y="350.12" width="17.92" height="13.76" fill="#3e2a6c" shape-rendering="crispEdges"/>
<rect x="365.16" y="350.12" width="17.92" height="13.76" fill="#404788" shape-rendering="crispEdges"/>
<rect x="382.58" y="350.12" width="17.92" height="13.76" fill="#3a255b" shape-rendering="crispEdges"/>
<rect x="312.9" y="363.38" width="17.92" height="13.76" fill="#0fa174" shape-rendering="crispEdges"/>
<rect x="330.32" y="363.38" width="17.92" height="13.76" fill="#dedb3a" shape-rendering="crispEdges"/>
<rect x="347.74" y="363.38" width="17.92" height="13.76" fill="#3e2a6c" shape-rendering="crispEdges"/>
<rect x="365.16" y="363.38" width="17.92" height="13.76" fill="#3e2a6c" shape-rendering="crispEdges"/>
<rect x="382.58" y="363.38" width="17.92" height="13.76" fill="#3e3480" shape-rendering="crispEdges"/>
<rect x="312.9" y="376.64" width="17.92" height="13.76" fill="#1ea472" shape-rendering="crispEdges"/>
<rect x="330.32" y="376.64" width="17.92" height="13.76" fill="#abcc4a" shape-rendering="crispEdges"/>
<rect x="347.74" y="376.64" width="17.92" height="13.76" fill="#362250" shape-rendering="crispEdges"/>
<rect x="365.16" y="376.64" width="17.92" height="13.76" fill="#362250" shape-rendering="crispEdges"/>
<rect x="382.58" y="376.64" width="17.92" height="13.76" fill="#2c6c90" shape-rendering="crispEdges"/>
<rect x="312.9" y="389.9" width="17.92" height="13.76" fill="#4dab6e" shape-rendering="crispEdges"/>
<rect x="330.32" y="389.9" width="17.92" height="13.76" fill="#a6cb4c" shape-rendering="crispEdges"/>
<rect x="347.74" y="389.9" width="17.92" height="13.76" fill="#3e2a6c" shape-rendering="crispEdges"/>
<rect x="365.16" y="389.9" width="17.92" height="13.76" fill="#3e2a6c" shape-rendering="crispEdges"/>
<rect x="382.58" y="389.9" width="17.92" height="13.76" fill="#3e2a6c" shape-rendering="crispEdges"/>
<rect x="312.9" y="403.16" width="17.92" height="13.76" fill="#0f9978" shape-rendering="crispEdges"/>
<rect x="330.32" y="403.16" width="17.92" height="13.76" fill="#f0e134" shape-rendering="crispEdges"/>
<rect x="347.74" y="403.16" width="17.92" height="13.76" fill="#3b2761" shape-rendering="crispEdges"/>
<rect x="365.16" y="403.16" width="17.92" height="13.76" fill="#3e5390" shape-rendering="crispEdges"/>
<rect x="382.58" y="403.16" width="17.92" height="13.76" fill="#3e2a6c" shape-rendering="crispEdges"/>
<rect x="312.9" y="416.42" width="17.92" height="13.76" fill="#a0c94f" shape-rendering="crispEdges"/>
<rect x="330.32" y="416.42" width="17.92" height="13.76" fill="#5fb26c" shape-rendering="crispEdges"/>
<rect x="347.74" y="416.42" width="17.92" height="13.76" fill="#3e3480" shape-rendering="crispEdges"/>
<rect x="365.16" y="416.42" width="17.92" height="13.76" fill="#3e2a6c" shape-rendering="crispEdges"/>
<rect x="382.58" y="416.42" width="17.92" height="13.76" fill="#3e2a6c" shape-rendering="crispEdges"/>
<rect x="312.9" y="429.68" width="17.92" height="13.76" fill="#a6cb4c" shape-rendering="crispEdges"/>
<rect x="330.32" y="429.68" width="17.92" height="13.76" fill="#5fb26c" shape-rendering="crispEdges"/>
<rect x="347.74" y="429.68" width="17.92" height="13.76" fill="#3e2a6c" shape-rendering="crispEdges"/>
<rect x="365.16" y="429.68" width="17.92" height="13.76" fill="#3e2a6c" shape-rendering="crispEdges"/>
<rect x="382.58" y="429.68" width="17.92" height="13.76" fill="#3e2a6c" shape-rendering="crispEdges"/>
<rect x="312.9" y="442.94" width="17.92" height="13.76" fill="#5fb26c" shape-rendering="crispEdges"/>
<rect x="330.32" y="442.94" width="17.92" height="13.76" fill="#a6cb4c" shape-rendering="crispEdges"/>
<rect x="347.74" y="442.94" width="17.92" height="13.76" fill="#3e3480" shape-rendering="crispEdges"/>
<rect x="365.16" y="442.94" width="17.92" height="13.76" fill="#3c2866" shape-rendering="crispEdges"/>
<rect x="382.58" y="442.94" width="17.92" height="13.76" fill="#3e2a6c" shape-rendering="crispEdges"/>
<rect x="312.9" y="323.6" width="87.1" height="132.6" fill="none" stroke="#555" stroke-width="0.7"/>
<line x1="400" y1="330.23" x2="402.8" y2="330.23" stroke="#555" stroke-width="0.8" />
<text x="407" y="333.25" font-size="8.4" text-anchor="start" fill="#333" font-style="italic">Arg1</text>
<line x1="400" y1="343.49" x2="402.8" y2="343.49" stroke="#555" stroke-width="0.8" />
<text x="407" y="346.51" font-size="8.4" text-anchor="start" fill="#333" font-style="italic">Slc2a3</text>
<line x1="400" y1="356.75" x2="402.8" y2="356.75" stroke="#555" stroke-width="0.8" />
<text x="407" y="359.77" font-size="8.4" text-anchor="start" fill="#333" font-style="italic">Csf2rb</text>
<line x1="400" y1="370.01" x2="402.8" y2="370.01" stroke="#555" stroke-width="0.8" />
<text x="407" y="373.03" font-size="8.4" text-anchor="start" fill="#333" font-style="italic">Ptges</text>
<line x1="400" y1="383.27" x2="402.8" y2="383.27" stroke="#555" stroke-width="0.8" />
<text x="407" y="386.29" font-size="8.4" text-anchor="start" fill="#333" font-style="italic">Alox5</text>
<line x1="400" y1="396.53" x2="402.8" y2="396.53" stroke="#555" stroke-width="0.8" />
<text x="407" y="399.55" font-size="8.4" text-anchor="start" fill="#333" font-style="italic">P2ry2</text>
<line x1="400" y1="409.79" x2="402.8" y2="409.79" stroke="#555" stroke-width="0.8" />
<text x="407" y="412.81" font-size="8.4" text-anchor="start" fill="#333" font-style="italic">Ctla4</text>
<line x1="400" y1="423.05" x2="402.8" y2="423.05" stroke="#555" stroke-width="0.8" />
<text x="407" y="426.07" font-size="8.4" text-anchor="start" fill="#333" font-style="italic">Ccr3</text>
<line x1="400" y1="436.31" x2="402.8" y2="436.31" stroke="#555" stroke-width="0.8" />
<text x="407" y="439.33" font-size="8.4" text-anchor="start" fill="#333" font-style="italic">Ctse</text>
<line x1="400" y1="449.57" x2="402.8" y2="449.57" stroke="#555" stroke-width="0.8" />
<text x="407" y="452.59" font-size="8.4" text-anchor="start" fill="#333" font-style="italic">Prdm1</text>
<path d="M322.2,320.6 V317.1 H340.2 V320.6" fill="none" stroke="#444" stroke-width="0.9"/>
<path d="M357.2,320.6 V317.1 H391.6 V320.6" fill="none" stroke="#444" stroke-width="0.9"/>
<text transform="translate(331.3,314.3) rotate(-45)" font-size="9.5" fill="#333">Control<tspan font-size="5.4" dy="-3.8">IL7RaCre</tspan></text>
<text transform="translate(375,314.3) rotate(-45)" font-size="9.5" fill="#333">Blimp-1<tspan font-size="5.4" dy="-3.8">IL7RaCre</tspan></text>
<defs><linearGradient id="g312" x1="0" x2="1" y1="0" y2="0"><stop offset="0" stop-color="#35204a"/><stop offset="0.04" stop-color="#35204a"/><stop offset="0.04" stop-color="#3c2763"/><stop offset="0.08" stop-color="#3c2763"/><stop offset="0.08" stop-color="#3e2e75"/><stop offset="0.12" stop-color="#3e2e75"/><stop offset="0.12" stop-color="#3e3681"/><stop offset="0.17" stop-color="#3e3681"/><stop offset="0.17" stop-color="#3f4185"/><stop offset="0.21" stop-color="#3f4185"/><stop offset="0.21" stop-color="#3f4b8b"/><stop offset="0.25" stop-color="#3f4b8b"/><stop offset="0.25" stop-color="#3d5591"/><stop offset="0.29" stop-color="#3d5591"/><stop offset="0.29" stop-color="#375f93"/><stop offset="0.33" stop-color="#375f93"/><stop offset="0.33" stop-color="#2e6991"/><stop offset="0.38" stop-color="#2e6991"/><stop offset="0.38" stop-color="#24728d"/><stop offset="0.42" stop-color="#24728d"/><stop offset="0.42" stop-color="#177c87"/><stop offset="0.46" stop-color="#177c87"/><stop offset="0.46" stop-color="#118681"/><stop offset="0.5" stop-color="#118681"/><stop offset="0.5" stop-color="#0f917c"/><stop offset="0.54" stop-color="#0f917c"/><stop offset="0.54" stop-color="#0f9a77"/><stop offset="0.58" stop-color="#0f9a77"/><stop offset="0.58" stop-color="#16a273"/><stop offset="0.62" stop-color="#16a273"/><stop offset="0.62" stop-color="#37a870"/><stop offset="0.67" stop-color="#37a870"/><stop offset="0.67" stop-color="#54ae6d"/><stop offset="0.71" stop-color="#54ae6d"/><stop offset="0.71" stop-color="#68b66b"/><stop offset="0.75" stop-color="#68b66b"/><stop offset="0.75" stop-color="#80be60"/><stop offset="0.79" stop-color="#80be60"/><stop offset="0.79" stop-color="#98c653"/><stop offset="0.83" stop-color="#98c653"/><stop offset="0.83" stop-color="#b1ce49"/><stop offset="0.88" stop-color="#b1ce49"/><stop offset="0.88" stop-color="#c8d442"/><stop offset="0.92" stop-color="#c8d442"/><stop offset="0.92" stop-color="#ddda3b"/><stop offset="0.96" stop-color="#ddda3b"/><stop offset="0.96" stop-color="#f0e134"/><stop offset="1" stop-color="#f0e134"/></linearGradient></defs>
<rect x="312.9" y="465.4" width="78.2" height="9.8" fill="url(#g312)" stroke="#555" stroke-width="0.6"/>
<line x1="312.8" y1="465.4" x2="312.8" y2="468.2" stroke="#333" stroke-width="0.8" />
<line x1="312.8" y1="473" x2="312.8" y2="475.2" stroke="#333" stroke-width="0.8" />
<line x1="343.5" y1="465.4" x2="343.5" y2="468.2" stroke="#333" stroke-width="0.8" />
<line x1="343.5" y1="473" x2="343.5" y2="475.2" stroke="#333" stroke-width="0.8" />
<line x1="374.3" y1="465.4" x2="374.3" y2="468.2" stroke="#333" stroke-width="0.8" />
<line x1="374.3" y1="473" x2="374.3" y2="475.2" stroke="#333" stroke-width="0.8" />
<text x="343.5" y="487.32" font-size="9.5" text-anchor="middle" fill="#333">0</text>
<text x="374.3" y="487.32" font-size="9.5" text-anchor="middle" fill="#333">1</text>
<text x="395.8" y="474.2" font-size="10" text-anchor="start" fill="#333">Raw <tspan font-style="italic">z</tspan>-score</text>
<text x="-0.9" y="539.8" font-size="15.5" text-anchor="start" fill="#111" font-weight="bold">f</text>
<rect x="56.1" y="554.6" width="110.6" height="109.1" fill="none" stroke="#666" stroke-width="0.8"/>
<line x1="52.6" y1="663.7" x2="56.1" y2="663.7" stroke="#666" stroke-width="0.8" />
<line x1="52.6" y1="642.88" x2="56.1" y2="642.88" stroke="#666" stroke-width="0.8" />
<line x1="52.6" y1="622.06" x2="56.1" y2="622.06" stroke="#666" stroke-width="0.8" />
<line x1="52.6" y1="601.24" x2="56.1" y2="601.24" stroke="#666" stroke-width="0.8" />
<line x1="52.6" y1="580.42" x2="56.1" y2="580.42" stroke="#666" stroke-width="0.8" />
<line x1="52.6" y1="559.6" x2="56.1" y2="559.6" stroke="#666" stroke-width="0.8" />
<line x1="63" y1="663.7" x2="63" y2="667.2" stroke="#666" stroke-width="0.8" />
<line x1="80.6" y1="663.7" x2="80.6" y2="667.2" stroke="#666" stroke-width="0.8" />
<line x1="99.3" y1="663.7" x2="99.3" y2="667.2" stroke="#666" stroke-width="0.8" />
<line x1="129" y1="663.7" x2="129" y2="667.2" stroke="#666" stroke-width="0.8" />
<line x1="155.2" y1="663.7" x2="155.2" y2="667.2" stroke="#666" stroke-width="0.8" />
<line x1="108.24" y1="663.7" x2="108.24" y2="665.7" stroke="#777" stroke-width="0.6" />
<line x1="113.47" y1="663.7" x2="113.47" y2="665.7" stroke="#777" stroke-width="0.6" />
<line x1="117.18" y1="663.7" x2="117.18" y2="665.7" stroke="#777" stroke-width="0.6" />
<line x1="120.06" y1="663.7" x2="120.06" y2="665.7" stroke="#777" stroke-width="0.6" />
<line x1="122.41" y1="663.7" x2="122.41" y2="665.7" stroke="#777" stroke-width="0.6" />
<line x1="124.4" y1="663.7" x2="124.4" y2="665.7" stroke="#777" stroke-width="0.6" />
<line x1="126.12" y1="663.7" x2="126.12" y2="665.7" stroke="#777" stroke-width="0.6" />
<line x1="127.64" y1="663.7" x2="127.64" y2="665.7" stroke="#777" stroke-width="0.6" />
<line x1="137.94" y1="663.7" x2="137.94" y2="665.7" stroke="#777" stroke-width="0.6" />
<line x1="143.17" y1="663.7" x2="143.17" y2="665.7" stroke="#777" stroke-width="0.6" />
<line x1="146.88" y1="663.7" x2="146.88" y2="665.7" stroke="#777" stroke-width="0.6" />
<line x1="149.76" y1="663.7" x2="149.76" y2="665.7" stroke="#777" stroke-width="0.6" />
<line x1="152.11" y1="663.7" x2="152.11" y2="665.7" stroke="#777" stroke-width="0.6" />
<line x1="154.1" y1="663.7" x2="154.1" y2="665.7" stroke="#777" stroke-width="0.6" />
<line x1="155.82" y1="663.7" x2="155.82" y2="665.7" stroke="#777" stroke-width="0.6" />
<line x1="157.34" y1="663.7" x2="157.34" y2="665.7" stroke="#777" stroke-width="0.6" />
<line x1="82.47" y1="663.7" x2="82.47" y2="665.7" stroke="#777" stroke-width="0.6" />
<line x1="78.84" y1="663.7" x2="78.84" y2="665.7" stroke="#777" stroke-width="0.6" />
<line x1="84.34" y1="663.7" x2="84.34" y2="665.7" stroke="#777" stroke-width="0.6" />
<line x1="77.08" y1="663.7" x2="77.08" y2="665.7" stroke="#777" stroke-width="0.6" />
<line x1="86.21" y1="663.7" x2="86.21" y2="665.7" stroke="#777" stroke-width="0.6" />
<line x1="75.32" y1="663.7" x2="75.32" y2="665.7" stroke="#777" stroke-width="0.6" />
<line x1="88.08" y1="663.7" x2="88.08" y2="665.7" stroke="#777" stroke-width="0.6" />
<line x1="73.56" y1="663.7" x2="73.56" y2="665.7" stroke="#777" stroke-width="0.6" />
<line x1="89.95" y1="663.7" x2="89.95" y2="665.7" stroke="#777" stroke-width="0.6" />
<line x1="71.8" y1="663.7" x2="71.8" y2="665.7" stroke="#777" stroke-width="0.6" />
<line x1="91.82" y1="663.7" x2="91.82" y2="665.7" stroke="#777" stroke-width="0.6" />
<line x1="70.04" y1="663.7" x2="70.04" y2="665.7" stroke="#777" stroke-width="0.6" />
<line x1="93.69" y1="663.7" x2="93.69" y2="665.7" stroke="#777" stroke-width="0.6" />
<line x1="68.28" y1="663.7" x2="68.28" y2="665.7" stroke="#777" stroke-width="0.6" />
<line x1="95.56" y1="663.7" x2="95.56" y2="665.7" stroke="#777" stroke-width="0.6" />
<line x1="66.52" y1="663.7" x2="66.52" y2="665.7" stroke="#777" stroke-width="0.6" />
<line x1="97.43" y1="663.7" x2="97.43" y2="665.7" stroke="#777" stroke-width="0.6" />
<line x1="64.76" y1="663.7" x2="64.76" y2="665.7" stroke="#777" stroke-width="0.6" />
<rect x="79.1" y="663.7" width="3" height="2.2" fill="#222"/>
<rect x="172" y="554.6" width="109.8" height="109.1" fill="none" stroke="#666" stroke-width="0.8"/>
<line x1="168.5" y1="663.7" x2="172" y2="663.7" stroke="#666" stroke-width="0.8" />
<line x1="168.5" y1="642.88" x2="172" y2="642.88" stroke="#666" stroke-width="0.8" />
<line x1="168.5" y1="622.06" x2="172" y2="622.06" stroke="#666" stroke-width="0.8" />
<line x1="168.5" y1="601.24" x2="172" y2="601.24" stroke="#666" stroke-width="0.8" />
<line x1="168.5" y1="580.42" x2="172" y2="580.42" stroke="#666" stroke-width="0.8" />
<line x1="168.5" y1="559.6" x2="172" y2="559.6" stroke="#666" stroke-width="0.8" />
<line x1="178.9" y1="663.7" x2="178.9" y2="667.2" stroke="#666" stroke-width="0.8" />
<line x1="196.5" y1="663.7" x2="196.5" y2="667.2" stroke="#666" stroke-width="0.8" />
<line x1="215.2" y1="663.7" x2="215.2" y2="667.2" stroke="#666" stroke-width="0.8" />
<line x1="244.9" y1="663.7" x2="244.9" y2="667.2" stroke="#666" stroke-width="0.8" />
<line x1="271.1" y1="663.7" x2="271.1" y2="667.2" stroke="#666" stroke-width="0.8" />
<line x1="224.14" y1="663.7" x2="224.14" y2="665.7" stroke="#777" stroke-width="0.6" />
<line x1="229.37" y1="663.7" x2="229.37" y2="665.7" stroke="#777" stroke-width="0.6" />
<line x1="233.08" y1="663.7" x2="233.08" y2="665.7" stroke="#777" stroke-width="0.6" />
<line x1="235.96" y1="663.7" x2="235.96" y2="665.7" stroke="#777" stroke-width="0.6" />
<line x1="238.31" y1="663.7" x2="238.31" y2="665.7" stroke="#777" stroke-width="0.6" />
<line x1="240.3" y1="663.7" x2="240.3" y2="665.7" stroke="#777" stroke-width="0.6" />
<line x1="242.02" y1="663.7" x2="242.02" y2="665.7" stroke="#777" stroke-width="0.6" />
<line x1="243.54" y1="663.7" x2="243.54" y2="665.7" stroke="#777" stroke-width="0.6" />
<line x1="253.84" y1="663.7" x2="253.84" y2="665.7" stroke="#777" stroke-width="0.6" />
<line x1="259.07" y1="663.7" x2="259.07" y2="665.7" stroke="#777" stroke-width="0.6" />
<line x1="262.78" y1="663.7" x2="262.78" y2="665.7" stroke="#777" stroke-width="0.6" />
<line x1="265.66" y1="663.7" x2="265.66" y2="665.7" stroke="#777" stroke-width="0.6" />
<line x1="268.01" y1="663.7" x2="268.01" y2="665.7" stroke="#777" stroke-width="0.6" />
<line x1="270" y1="663.7" x2="270" y2="665.7" stroke="#777" stroke-width="0.6" />
<line x1="271.72" y1="663.7" x2="271.72" y2="665.7" stroke="#777" stroke-width="0.6" />
<line x1="273.24" y1="663.7" x2="273.24" y2="665.7" stroke="#777" stroke-width="0.6" />
<line x1="198.37" y1="663.7" x2="198.37" y2="665.7" stroke="#777" stroke-width="0.6" />
<line x1="194.74" y1="663.7" x2="194.74" y2="665.7" stroke="#777" stroke-width="0.6" />
<line x1="200.24" y1="663.7" x2="200.24" y2="665.7" stroke="#777" stroke-width="0.6" />
<line x1="192.98" y1="663.7" x2="192.98" y2="665.7" stroke="#777" stroke-width="0.6" />
<line x1="202.11" y1="663.7" x2="202.11" y2="665.7" stroke="#777" stroke-width="0.6" />
<line x1="191.22" y1="663.7" x2="191.22" y2="665.7" stroke="#777" stroke-width="0.6" />
<line x1="203.98" y1="663.7" x2="203.98" y2="665.7" stroke="#777" stroke-width="0.6" />
<line x1="189.46" y1="663.7" x2="189.46" y2="665.7" stroke="#777" stroke-width="0.6" />
<line x1="205.85" y1="663.7" x2="205.85" y2="665.7" stroke="#777" stroke-width="0.6" />
<line x1="187.7" y1="663.7" x2="187.7" y2="665.7" stroke="#777" stroke-width="0.6" />
<line x1="207.72" y1="663.7" x2="207.72" y2="665.7" stroke="#777" stroke-width="0.6" />
<line x1="185.94" y1="663.7" x2="185.94" y2="665.7" stroke="#777" stroke-width="0.6" />
<line x1="209.59" y1="663.7" x2="209.59" y2="665.7" stroke="#777" stroke-width="0.6" />
<line x1="184.18" y1="663.7" x2="184.18" y2="665.7" stroke="#777" stroke-width="0.6" />
<line x1="211.46" y1="663.7" x2="211.46" y2="665.7" stroke="#777" stroke-width="0.6" />
<line x1="182.42" y1="663.7" x2="182.42" y2="665.7" stroke="#777" stroke-width="0.6" />
<line x1="213.33" y1="663.7" x2="213.33" y2="665.7" stroke="#777" stroke-width="0.6" />
<line x1="180.66" y1="663.7" x2="180.66" y2="665.7" stroke="#777" stroke-width="0.6" />
<rect x="195" y="663.7" width="3" height="2.2" fill="#222"/>
<text x="48.9" y="667.16" font-size="9.6" text-anchor="end" fill="#3a3a3a">0</text>
<text x="48.9" y="646.34" font-size="9.6" text-anchor="end" fill="#3a3a3a">50,000</text>
<text x="48.9" y="625.52" font-size="9.6" text-anchor="end" fill="#3a3a3a">100,000</text>
<text x="48.9" y="604.7" font-size="9.6" text-anchor="end" fill="#3a3a3a">150,000</text>
<text x="48.9" y="583.88" font-size="9.6" text-anchor="end" fill="#3a3a3a">200,000</text>
<text x="48.9" y="563.06" font-size="9.6" text-anchor="end" fill="#3a3a3a">250,000</text>
<text x="64" y="680.66" font-size="9.6" text-anchor="middle" fill="#333">−10<tspan font-size="5.8" dy="-3.6">3</tspan></text>
<text x="80.6" y="680.66" font-size="9.6" text-anchor="middle" fill="#333">0</text>
<text x="100.5" y="680.66" font-size="9.6" text-anchor="middle" fill="#333">10<tspan font-size="5.8" dy="-3.6">3</tspan></text>
<text x="130.2" y="680.66" font-size="9.6" text-anchor="middle" fill="#333">10<tspan font-size="5.8" dy="-3.6">4</tspan></text>
<text x="156.5" y="680.66" font-size="9.6" text-anchor="middle" fill="#333">10<tspan font-size="5.8" dy="-3.6">5</tspan></text>
<text transform="translate(8.2,649.5) rotate(-90)" font-size="9.6" text-anchor="middle" fill="#333">SSC-A</text>
<line x1="4.6" y1="633" x2="4.6" y2="558" stroke="#222" stroke-width="0.8" />
<path d="M4.6,553.5 L2.4,559.5 L6.8,559.5 Z" fill="#222"/>
<text x="53.7" y="694.06" font-size="9.6" text-anchor="start" fill="#333" textLength="41" lengthAdjust="spacingAndGlyphs">TNF-APC</text>
<line x1="98" y1="690.8" x2="277" y2="690.8" stroke="#222" stroke-width="0.8" />
<path d="M282,690.8 L276,688.6 L276,693 Z" fill="#222"/>
<text x="79.2" y="547.8" font-size="10.2" text-anchor="start" fill="#333" textLength="34.7" lengthAdjust="spacingAndGlyphs">Control</text>
<text x="114.2" y="543.6" font-size="6.5" text-anchor="start" fill="#333" textLength="29.6" lengthAdjust="spacingAndGlyphs">IL7RaCre</text>
<text x="196" y="547.8" font-size="10.2" text-anchor="start" fill="#333" textLength="32.9" lengthAdjust="spacingAndGlyphs">Blimp-1</text>
<text x="229.5" y="543" font-size="6.5" text-anchor="start" fill="#333" textLength="29.5" lengthAdjust="spacingAndGlyphs">IL7RaCre</text>
<path d="M121.1,581.5 L159.4,581.5 L160.3,643.6 L107.5,642.4 Z" fill="none" stroke="#444" stroke-width="0.8"/>
<path d="M237,581.5 L275.3,581.5 L276.2,643.6 L223.4,642.4 Z" fill="none" stroke="#444" stroke-width="0.8"/>
<text x="144.8" y="576.76" font-size="9.6" text-anchor="middle" fill="#333">7.67</text>
<text x="259.1" y="576.76" font-size="9.6" text-anchor="middle" fill="#333">36.3</text>
<circle cx="140.77" cy="627.51" r="0.35" fill="#555"/>
<circle cx="149.55" cy="639.55" r="0.35" fill="#555"/>
<circle cx="146.73" cy="638.34" r="0.35" fill="#555"/>
<circle cx="110.48" cy="610.94" r="0.35" fill="#555"/>
<circle cx="157.11" cy="621.94" r="0.35" fill="#555"/>
<circle cx="154.95" cy="589.79" r="0.35" fill="#555"/>
<circle cx="132.92" cy="597.79" r="0.35" fill="#555"/>
<circle cx="136.73" cy="617.44" r="0.35" fill="#555"/>
<circle cx="109.67" cy="596" r="0.35" fill="#555"/>
<circle cx="123.25" cy="637.98" r="0.35" fill="#555"/>
<circle cx="148.05" cy="592.58" r="0.35" fill="#555"/>
<circle cx="149.65" cy="591.33" r="0.35" fill="#555"/>
<circle cx="140.49" cy="590.6" r="0.35" fill="#555"/>
<circle cx="109.09" cy="635.28" r="0.35" fill="#555"/>
<circle cx="119.68" cy="595.93" r="0.35" fill="#555"/>
<circle cx="159.1" cy="635.34" r="0.35" fill="#555"/>
<circle cx="123.75" cy="640.69" r="0.35" fill="#555"/>
<circle cx="136.5" cy="623.67" r="0.35" fill="#555"/>
<circle cx="119.44" cy="639.46" r="0.35" fill="#555"/>
<circle cx="144.22" cy="640.99" r="0.35" fill="#555"/>
<circle cx="154.58" cy="600.93" r="0.35" fill="#555"/>
<circle cx="127.42" cy="592.96" r="0.35" fill="#555"/>
<circle cx="116.43" cy="586.91" r="0.35" fill="#555"/>
<circle cx="124.37" cy="619.19" r="0.35" fill="#555"/>
<circle cx="109.17" cy="623.68" r="0.35" fill="#555"/>
<circle cx="126.23" cy="601.6" r="0.35" fill="#555"/>
<circle cx="150.74" cy="611.84" r="0.35" fill="#555"/>
<circle cx="125.11" cy="611.87" r="0.35" fill="#555"/>
<circle cx="144.94" cy="586.42" r="0.35" fill="#555"/>
<circle cx="158.73" cy="584.37" r="0.35" fill="#555"/>
<circle cx="147.24" cy="633.69" r="0.35" fill="#555"/>
<circle cx="109.92" cy="630.26" r="0.35" fill="#555"/>
<circle cx="127.68" cy="617.71" r="0.35" fill="#555"/>
<circle cx="109.46" cy="585.8" r="0.35" fill="#555"/>
<circle cx="118.23" cy="640.31" r="0.35" fill="#555"/>
<circle cx="119.02" cy="628.34" r="0.35" fill="#555"/>
<circle cx="156.41" cy="639.52" r="0.35" fill="#555"/>
<circle cx="126.56" cy="604.29" r="0.35" fill="#555"/>
<circle cx="135.76" cy="629.54" r="0.35" fill="#555"/>
<circle cx="114.51" cy="627.9" r="0.35" fill="#555"/>
<circle cx="114.29" cy="637.28" r="0.35" fill="#555"/>
<circle cx="85.39" cy="642.02" r="0.35" fill="#555"/>
<circle cx="87.46" cy="608.74" r="0.35" fill="#555"/>
<circle cx="107.21" cy="640.49" r="0.35" fill="#555"/>
<circle cx="96.92" cy="640.83" r="0.35" fill="#555"/>
<circle cx="104.72" cy="607.18" r="0.35" fill="#555"/>
<circle cx="96.04" cy="599.76" r="0.35" fill="#555"/>
<circle cx="86.97" cy="598.19" r="0.35" fill="#555"/>
<circle cx="110.19" cy="644.82" r="0.35" fill="#555"/>
<circle cx="90.14" cy="592.67" r="0.35" fill="#555"/>
<circle cx="121.49" cy="619.34" r="0.35" fill="#555"/>
<circle cx="99.42" cy="603.05" r="0.35" fill="#555"/>
<circle cx="106.57" cy="635.45" r="0.35" fill="#555"/>
<circle cx="101.32" cy="613.2" r="0.35" fill="#555"/>
<circle cx="86.12" cy="640.38" r="0.35" fill="#555"/>
<circle cx="85.24" cy="617.15" r="0.35" fill="#555"/>
<circle cx="115.86" cy="597.18" r="0.35" fill="#555"/>
<circle cx="111.8" cy="642.24" r="0.35" fill="#555"/>
<circle cx="107.96" cy="633.34" r="0.35" fill="#555"/>
<circle cx="88.05" cy="613.9" r="0.35" fill="#555"/>
<circle cx="89.67" cy="636.46" r="0.35" fill="#555"/>
<circle cx="95.2" cy="614.92" r="0.35" fill="#555"/>
<circle cx="121.97" cy="636.87" r="0.35" fill="#555"/>
<circle cx="121.09" cy="614.94" r="0.35" fill="#555"/>
<circle cx="102.55" cy="630.12" r="0.35" fill="#555"/>
<circle cx="249.43" cy="599.75" r="0.35" fill="#555"/>
<circle cx="245.59" cy="590.94" r="0.35" fill="#555"/>
<circle cx="244.23" cy="642.29" r="0.35" fill="#555"/>
<circle cx="273.95" cy="620.24" r="0.35" fill="#555"/>
<circle cx="250.47" cy="602.65" r="0.35" fill="#555"/>
<circle cx="229.55" cy="598.61" r="0.35" fill="#555"/>
<circle cx="264.88" cy="634.91" r="0.35" fill="#555"/>
<circle cx="243.43" cy="629.95" r="0.35" fill="#555"/>
<circle cx="264.52" cy="624.37" r="0.35" fill="#555"/>
<circle cx="258.86" cy="628.34" r="0.35" fill="#555"/>
<circle cx="243.54" cy="624.97" r="0.35" fill="#555"/>
<circle cx="239.32" cy="611.63" r="0.35" fill="#555"/>
<circle cx="264.26" cy="624.14" r="0.35" fill="#555"/>
<circle cx="239.99" cy="639.68" r="0.35" fill="#555"/>
<circle cx="258.13" cy="617.42" r="0.35" fill="#555"/>
<circle cx="225.59" cy="615.37" r="0.35" fill="#555"/>
<circle cx="237.79" cy="622.97" r="0.35" fill="#555"/>
<circle cx="248.61" cy="631.82" r="0.35" fill="#555"/>
<circle cx="258.02" cy="630.66" r="0.35" fill="#555"/>
<circle cx="242.74" cy="621.29" r="0.35" fill="#555"/>
<circle cx="262.63" cy="632.52" r="0.35" fill="#555"/>
<circle cx="242.85" cy="633.42" r="0.35" fill="#555"/>
<circle cx="269.37" cy="623.99" r="0.35" fill="#555"/>
<circle cx="274.78" cy="640.35" r="0.35" fill="#555"/>
<circle cx="251.43" cy="614.29" r="0.35" fill="#555"/>
<circle cx="233.47" cy="633.03" r="0.35" fill="#555"/>
<circle cx="272.81" cy="611.11" r="0.35" fill="#555"/>
<circle cx="260.26" cy="625.9" r="0.35" fill="#555"/>
<circle cx="262.25" cy="592.48" r="0.35" fill="#555"/>
<circle cx="264.8" cy="617.43" r="0.35" fill="#555"/>
<circle cx="258.94" cy="607.67" r="0.35" fill="#555"/>
<circle cx="256.81" cy="629.26" r="0.35" fill="#555"/>
<circle cx="257.48" cy="625.95" r="0.35" fill="#555"/>
<circle cx="226.41" cy="591.76" r="0.35" fill="#555"/>
<circle cx="247.49" cy="621.66" r="0.35" fill="#555"/>
<circle cx="236.17" cy="623.84" r="0.35" fill="#555"/>
<circle cx="257.17" cy="584.55" r="0.35" fill="#555"/>
<circle cx="249.05" cy="595.8" r="0.35" fill="#555"/>
<circle cx="227.76" cy="590.15" r="0.35" fill="#555"/>
<circle cx="241.18" cy="593.07" r="0.35" fill="#555"/>
<circle cx="234.86" cy="584.18" r="0.35" fill="#555"/>
<circle cx="248.73" cy="605.2" r="0.35" fill="#555"/>
<circle cx="256.2" cy="618" r="0.35" fill="#555"/>
<circle cx="237.13" cy="637.09" r="0.35" fill="#555"/>
<circle cx="225.03" cy="606.73" r="0.35" fill="#555"/>
<circle cx="239.2" cy="607.01" r="0.35" fill="#555"/>
<circle cx="230.87" cy="632.71" r="0.35" fill="#555"/>
<circle cx="244.07" cy="584.2" r="0.35" fill="#555"/>
<circle cx="256.29" cy="587.78" r="0.35" fill="#555"/>
<circle cx="252.81" cy="602.7" r="0.35" fill="#555"/>
<circle cx="254.63" cy="640.46" r="0.35" fill="#555"/>
<circle cx="266.74" cy="607.57" r="0.35" fill="#555"/>
<circle cx="266.46" cy="621.18" r="0.35" fill="#555"/>
<circle cx="243.84" cy="590.67" r="0.35" fill="#555"/>
<circle cx="255.39" cy="616.4" r="0.35" fill="#555"/>
<circle cx="273.82" cy="641.05" r="0.35" fill="#555"/>
<circle cx="256.04" cy="603.42" r="0.35" fill="#555"/>
<circle cx="270.57" cy="582.06" r="0.35" fill="#555"/>
<circle cx="230.5" cy="616.51" r="0.35" fill="#555"/>
<circle cx="256.37" cy="590.58" r="0.35" fill="#555"/>
<circle cx="257.1" cy="636.37" r="0.35" fill="#555"/>
<circle cx="244.17" cy="608.33" r="0.35" fill="#555"/>
<circle cx="236.54" cy="599.78" r="0.35" fill="#555"/>
<circle cx="274.6" cy="605.17" r="0.35" fill="#555"/>
<circle cx="274.02" cy="637.74" r="0.35" fill="#555"/>
<circle cx="255.39" cy="597.85" r="0.35" fill="#555"/>
<circle cx="275.03" cy="612.27" r="0.35" fill="#555"/>
<circle cx="246.19" cy="601.47" r="0.35" fill="#555"/>
<circle cx="275.2" cy="612" r="0.35" fill="#555"/>
<circle cx="239.61" cy="611.09" r="0.35" fill="#555"/>
<circle cx="231.22" cy="619.92" r="0.35" fill="#555"/>
<circle cx="247.62" cy="599.88" r="0.35" fill="#555"/>
<circle cx="264.87" cy="632.44" r="0.35" fill="#555"/>
<circle cx="225.67" cy="614.49" r="0.35" fill="#555"/>
<circle cx="238.96" cy="639.05" r="0.35" fill="#555"/>
<circle cx="264.88" cy="596.99" r="0.35" fill="#555"/>
<circle cx="238.65" cy="591.44" r="0.35" fill="#555"/>
<circle cx="275.43" cy="599.88" r="0.35" fill="#555"/>
<circle cx="256.01" cy="610.95" r="0.35" fill="#555"/>
<circle cx="257.89" cy="618.84" r="0.35" fill="#555"/>
<circle cx="262.92" cy="589.21" r="0.35" fill="#555"/>
<circle cx="263.78" cy="600.34" r="0.35" fill="#555"/>
<circle cx="252.21" cy="602.5" r="0.35" fill="#555"/>
<circle cx="240.14" cy="614.32" r="0.35" fill="#555"/>
<circle cx="248.68" cy="604.02" r="0.35" fill="#555"/>
<circle cx="263" cy="618.04" r="0.35" fill="#555"/>
<circle cx="226.86" cy="597.4" r="0.35" fill="#555"/>
<circle cx="248.24" cy="637.91" r="0.35" fill="#555"/>
<circle cx="270.28" cy="615.28" r="0.35" fill="#555"/>
<circle cx="225.74" cy="629.48" r="0.35" fill="#555"/>
<circle cx="246.81" cy="617.11" r="0.35" fill="#555"/>
<circle cx="261.12" cy="620.57" r="0.35" fill="#555"/>
<circle cx="249.58" cy="637.61" r="0.35" fill="#555"/>
<circle cx="244.66" cy="605.9" r="0.35" fill="#555"/>
<circle cx="268.45" cy="593.98" r="0.35" fill="#555"/>
<circle cx="240.12" cy="632.63" r="0.35" fill="#555"/>
<circle cx="228.37" cy="633.01" r="0.35" fill="#555"/>
<circle cx="260.43" cy="608.4" r="0.35" fill="#555"/>
<circle cx="239.6" cy="629.62" r="0.35" fill="#555"/>
<circle cx="271.44" cy="590.7" r="0.35" fill="#555"/>
<circle cx="249.4" cy="615.49" r="0.35" fill="#555"/>
<circle cx="250.38" cy="602.17" r="0.35" fill="#555"/>
<circle cx="232.83" cy="617.74" r="0.35" fill="#555"/>
<circle cx="266.4" cy="586.17" r="0.35" fill="#555"/>
<circle cx="236.73" cy="632" r="0.35" fill="#555"/>
<circle cx="265.38" cy="622.48" r="0.35" fill="#555"/>
<circle cx="226.3" cy="626.08" r="0.35" fill="#555"/>
<circle cx="274.91" cy="642.9" r="0.35" fill="#555"/>
<circle cx="260.76" cy="584.98" r="0.35" fill="#555"/>
<circle cx="267.95" cy="595.37" r="0.35" fill="#555"/>
<circle cx="257.93" cy="640.09" r="0.35" fill="#555"/>
<circle cx="261.33" cy="590.21" r="0.35" fill="#555"/>
<circle cx="239.92" cy="638" r="0.35" fill="#555"/>
<circle cx="232.64" cy="619.25" r="0.35" fill="#555"/>
<circle cx="246.11" cy="591.83" r="0.35" fill="#555"/>
<circle cx="256.74" cy="584.66" r="0.35" fill="#555"/>
<circle cx="230.52" cy="605.13" r="0.35" fill="#555"/>
<circle cx="228.67" cy="585.51" r="0.35" fill="#555"/>
<circle cx="254.34" cy="627.28" r="0.35" fill="#555"/>
<circle cx="269.8" cy="590.19" r="0.35" fill="#555"/>
<circle cx="247.02" cy="601.19" r="0.35" fill="#555"/>
<circle cx="255.61" cy="611.86" r="0.35" fill="#555"/>
<circle cx="272.87" cy="604.83" r="0.35" fill="#555"/>
<circle cx="227.84" cy="624.54" r="0.35" fill="#555"/>
<circle cx="232.71" cy="620.51" r="0.35" fill="#555"/>
<circle cx="250.8" cy="637.54" r="0.35" fill="#555"/>
<circle cx="253.3" cy="619.87" r="0.35" fill="#555"/>
<circle cx="238.43" cy="615.65" r="0.35" fill="#555"/>
<circle cx="237.96" cy="627.79" r="0.35" fill="#555"/>
<circle cx="251.37" cy="590.16" r="0.35" fill="#555"/>
<circle cx="236.96" cy="604.64" r="0.35" fill="#555"/>
<circle cx="262.57" cy="592.94" r="0.35" fill="#555"/>
<circle cx="261.38" cy="621.96" r="0.35" fill="#555"/>
<circle cx="229.35" cy="622.75" r="0.35" fill="#555"/>
<circle cx="229.65" cy="589.61" r="0.35" fill="#555"/>
<circle cx="255.29" cy="596.55" r="0.35" fill="#555"/>
<circle cx="269.72" cy="611.31" r="0.35" fill="#555"/>
<circle cx="241.49" cy="630.58" r="0.35" fill="#555"/>
<circle cx="226.5" cy="626.23" r="0.35" fill="#555"/>
<circle cx="227.74" cy="591.2" r="0.35" fill="#555"/>
<circle cx="273.55" cy="623.55" r="0.35" fill="#555"/>
<circle cx="236.38" cy="589.08" r="0.35" fill="#555"/>
<circle cx="274.61" cy="622.57" r="0.35" fill="#555"/>
<circle cx="266.85" cy="590.53" r="0.35" fill="#555"/>
<circle cx="256.86" cy="603.61" r="0.35" fill="#555"/>
<circle cx="236.99" cy="602.33" r="0.35" fill="#555"/>
<circle cx="256.3" cy="603.27" r="0.35" fill="#555"/>
<circle cx="244.67" cy="590.32" r="0.35" fill="#555"/>
<circle cx="267.39" cy="621.52" r="0.35" fill="#555"/>
<circle cx="266.03" cy="608.44" r="0.35" fill="#555"/>
<circle cx="268.43" cy="613.57" r="0.35" fill="#555"/>
<circle cx="255.22" cy="616.97" r="0.35" fill="#555"/>
<circle cx="262.75" cy="606.13" r="0.35" fill="#555"/>
<circle cx="229.95" cy="584.02" r="0.35" fill="#555"/>
<circle cx="235.32" cy="584.41" r="0.35" fill="#555"/>
<circle cx="270.35" cy="611.34" r="0.35" fill="#555"/>
<circle cx="263.78" cy="582.03" r="0.35" fill="#555"/>
<circle cx="248.98" cy="636.28" r="0.35" fill="#555"/>
<circle cx="256.59" cy="608.15" r="0.35" fill="#555"/>
<circle cx="248.74" cy="588.08" r="0.35" fill="#555"/>
<circle cx="232.89" cy="591.7" r="0.35" fill="#555"/>
<circle cx="244.11" cy="605.53" r="0.35" fill="#555"/>
<circle cx="269.9" cy="591.28" r="0.35" fill="#555"/>
<circle cx="237.96" cy="598.92" r="0.35" fill="#555"/>
<circle cx="233.24" cy="599.51" r="0.35" fill="#555"/>
<circle cx="236.99" cy="611.4" r="0.35" fill="#555"/>
<circle cx="226.64" cy="638.4" r="0.35" fill="#555"/>
<circle cx="243.82" cy="639.21" r="0.35" fill="#555"/>
<circle cx="260.07" cy="623.1" r="0.35" fill="#555"/>
<circle cx="249.06" cy="639.67" r="0.35" fill="#555"/>
<circle cx="231.01" cy="622.78" r="0.35" fill="#555"/>
<circle cx="239.85" cy="623.14" r="0.35" fill="#555"/>
<circle cx="262.19" cy="591.96" r="0.35" fill="#555"/>
<circle cx="235.25" cy="583.52" r="0.35" fill="#555"/>
<circle cx="236.75" cy="586.77" r="0.35" fill="#555"/>
<circle cx="245.45" cy="641.39" r="0.35" fill="#555"/>
<circle cx="243.58" cy="601.02" r="0.35" fill="#555"/>
<circle cx="248.87" cy="599.27" r="0.35" fill="#555"/>
<circle cx="262.35" cy="625.79" r="0.35" fill="#555"/>
<circle cx="233.33" cy="596.67" r="0.35" fill="#555"/>
<circle cx="259.28" cy="639.37" r="0.35" fill="#555"/>
<circle cx="257.94" cy="608.27" r="0.35" fill="#555"/>
<circle cx="274.75" cy="582.38" r="0.35" fill="#555"/>
<circle cx="228.1" cy="629.54" r="0.35" fill="#555"/>
<circle cx="245.92" cy="584.74" r="0.35" fill="#555"/>
<circle cx="252.97" cy="642.37" r="0.35" fill="#555"/>
<circle cx="251.47" cy="603.35" r="0.35" fill="#555"/>
<circle cx="229.78" cy="586.34" r="0.35" fill="#555"/>
<circle cx="270.84" cy="611.96" r="0.35" fill="#555"/>
<circle cx="272.72" cy="585.28" r="0.35" fill="#555"/>
<circle cx="237.42" cy="585.08" r="0.35" fill="#555"/>
<circle cx="245.26" cy="585.67" r="0.35" fill="#555"/>
<circle cx="238.03" cy="606.86" r="0.35" fill="#555"/>
<circle cx="240.6" cy="585.13" r="0.35" fill="#555"/>
<circle cx="226.92" cy="641.27" r="0.35" fill="#555"/>
<circle cx="234.15" cy="613.03" r="0.35" fill="#555"/>
<circle cx="245.52" cy="614.41" r="0.35" fill="#555"/>
<circle cx="229.3" cy="601.15" r="0.35" fill="#555"/>
<circle cx="230.51" cy="615.06" r="0.35" fill="#555"/>
<circle cx="271.99" cy="618.5" r="0.35" fill="#555"/>
<circle cx="268.7" cy="595.08" r="0.35" fill="#555"/>
<circle cx="225.89" cy="614.92" r="0.35" fill="#555"/>
<circle cx="249.81" cy="616.86" r="0.35" fill="#555"/>
<circle cx="244.21" cy="620.13" r="0.35" fill="#555"/>
<circle cx="262.01" cy="637.69" r="0.35" fill="#555"/>
<circle cx="240.69" cy="609.39" r="0.35" fill="#555"/>
<circle cx="267.15" cy="595.66" r="0.35" fill="#555"/>
<circle cx="230.9" cy="601.01" r="0.35" fill="#555"/>
<circle cx="229.47" cy="629.12" r="0.35" fill="#555"/>
<circle cx="266.79" cy="601.09" r="0.35" fill="#555"/>
<circle cx="231.62" cy="587" r="0.35" fill="#555"/>
<circle cx="237.49" cy="587.14" r="0.35" fill="#555"/>
<circle cx="246.86" cy="617.2" r="0.35" fill="#555"/>
<circle cx="237.51" cy="585.75" r="0.35" fill="#555"/>
<circle cx="260.73" cy="584.93" r="0.35" fill="#555"/>
<circle cx="235.19" cy="599.45" r="0.35" fill="#555"/>
<circle cx="244.06" cy="588.01" r="0.35" fill="#555"/>
<circle cx="246.45" cy="601.15" r="0.35" fill="#555"/>
<circle cx="263.37" cy="615.92" r="0.35" fill="#555"/>
<circle cx="270.7" cy="621.9" r="0.35" fill="#555"/>
<circle cx="263.75" cy="617.06" r="0.35" fill="#555"/>
<circle cx="247.55" cy="631.82" r="0.35" fill="#555"/>
<circle cx="258.43" cy="640.24" r="0.35" fill="#555"/>
<circle cx="262.13" cy="624.77" r="0.35" fill="#555"/>
<circle cx="238.65" cy="631.54" r="0.35" fill="#555"/>
<circle cx="244.5" cy="589.94" r="0.35" fill="#555"/>
<circle cx="228.36" cy="592.33" r="0.35" fill="#555"/>
<circle cx="238.39" cy="623.23" r="0.35" fill="#555"/>
<circle cx="239.56" cy="585.87" r="0.35" fill="#555"/>
<circle cx="263.95" cy="615.99" r="0.35" fill="#555"/>
<circle cx="226.4" cy="585.09" r="0.35" fill="#555"/>
<circle cx="231.64" cy="603.79" r="0.35" fill="#555"/>
<circle cx="268.85" cy="639.9" r="0.35" fill="#555"/>
<circle cx="256.21" cy="596.1" r="0.35" fill="#555"/>
<circle cx="246.87" cy="604.11" r="0.35" fill="#555"/>
<circle cx="241.85" cy="582.76" r="0.35" fill="#555"/>
<circle cx="254.81" cy="632.44" r="0.35" fill="#555"/>
<circle cx="262.07" cy="587.81" r="0.35" fill="#555"/>
<circle cx="252.05" cy="592.44" r="0.35" fill="#555"/>
<circle cx="261.18" cy="609.22" r="0.35" fill="#555"/>
<circle cx="272.87" cy="630.48" r="0.35" fill="#555"/>
<circle cx="231.03" cy="601.34" r="0.35" fill="#555"/>
<circle cx="271.66" cy="610.12" r="0.35" fill="#555"/>
<circle cx="247.14" cy="608.93" r="0.35" fill="#555"/>
<circle cx="264.14" cy="639.11" r="0.35" fill="#555"/>
<circle cx="252.16" cy="641.15" r="0.35" fill="#555"/>
<circle cx="255.4" cy="588.32" r="0.35" fill="#555"/>
<circle cx="266.53" cy="607.59" r="0.35" fill="#555"/>
<circle cx="227.67" cy="641.66" r="0.35" fill="#555"/>
<circle cx="226.68" cy="617.2" r="0.35" fill="#555"/>
<circle cx="249.58" cy="635.79" r="0.35" fill="#555"/>
<circle cx="245.03" cy="595.15" r="0.35" fill="#555"/>
<circle cx="239.13" cy="594.27" r="0.35" fill="#555"/>
<circle cx="253.68" cy="603.78" r="0.35" fill="#555"/>
<circle cx="263.31" cy="596.74" r="0.35" fill="#555"/>
<circle cx="242.94" cy="597.14" r="0.35" fill="#555"/>
<circle cx="275.1" cy="633.25" r="0.35" fill="#555"/>
<circle cx="268.34" cy="619.71" r="0.35" fill="#555"/>
<circle cx="245.44" cy="590.73" r="0.35" fill="#555"/>
<circle cx="267.42" cy="611.9" r="0.35" fill="#555"/>
<circle cx="226.92" cy="592.34" r="0.35" fill="#555"/>
<circle cx="230.03" cy="625.78" r="0.35" fill="#555"/>
<circle cx="270.91" cy="594.16" r="0.35" fill="#555"/>
<circle cx="265.65" cy="601.77" r="0.35" fill="#555"/>
<circle cx="259.83" cy="634.65" r="0.35" fill="#555"/>
<circle cx="256.78" cy="630.82" r="0.35" fill="#555"/>
<circle cx="244.2" cy="582.62" r="0.35" fill="#555"/>
<circle cx="251.1" cy="617.79" r="0.35" fill="#555"/>
<circle cx="234.42" cy="605.73" r="0.35" fill="#555"/>
<circle cx="241.18" cy="583.65" r="0.35" fill="#555"/>
<circle cx="240.92" cy="605.35" r="0.35" fill="#555"/>
<circle cx="249.28" cy="624.9" r="0.35" fill="#555"/>
<circle cx="245.35" cy="641.93" r="0.35" fill="#555"/>
<circle cx="266.59" cy="638.36" r="0.35" fill="#555"/>
<circle cx="260.33" cy="622.88" r="0.35" fill="#555"/>
<circle cx="252.37" cy="630.72" r="0.35" fill="#555"/>
<circle cx="243.5" cy="618.21" r="0.35" fill="#555"/>
<circle cx="259.65" cy="613.85" r="0.35" fill="#555"/>
<circle cx="239.49" cy="586.74" r="0.35" fill="#555"/>
<circle cx="229.45" cy="603.71" r="0.35" fill="#555"/>
<circle cx="254.6" cy="628.34" r="0.35" fill="#555"/>
<circle cx="261.44" cy="600.71" r="0.35" fill="#555"/>
<circle cx="272.39" cy="598.75" r="0.35" fill="#555"/>
<circle cx="261.52" cy="586.39" r="0.35" fill="#555"/>
<circle cx="263.42" cy="622.87" r="0.35" fill="#555"/>
<circle cx="273.8" cy="636.73" r="0.35" fill="#555"/>
<circle cx="260.07" cy="633.13" r="0.35" fill="#555"/>
<circle cx="262.67" cy="619.27" r="0.35" fill="#555"/>
<circle cx="235.65" cy="613.52" r="0.35" fill="#555"/>
<circle cx="270.7" cy="596.58" r="0.35" fill="#555"/>
<circle cx="274.71" cy="615.18" r="0.35" fill="#555"/>
<circle cx="245.06" cy="582.18" r="0.35" fill="#555"/>
<circle cx="244.9" cy="592.87" r="0.35" fill="#555"/>
<circle cx="258.31" cy="636.87" r="0.35" fill="#555"/>
<circle cx="271.42" cy="619.43" r="0.35" fill="#555"/>
<circle cx="244.72" cy="588.64" r="0.35" fill="#555"/>
<circle cx="260.13" cy="615.76" r="0.35" fill="#555"/>
<circle cx="261.48" cy="604.82" r="0.35" fill="#555"/>
<circle cx="270.23" cy="594.98" r="0.35" fill="#555"/>
<circle cx="240.58" cy="598.33" r="0.35" fill="#555"/>
<circle cx="256.73" cy="636.73" r="0.35" fill="#555"/>
<circle cx="233.54" cy="620.6" r="0.35" fill="#555"/>
<circle cx="264.09" cy="595.7" r="0.35" fill="#555"/>
<circle cx="228.2" cy="616.52" r="0.35" fill="#555"/>
<circle cx="267.34" cy="635.59" r="0.35" fill="#555"/>
<circle cx="262.13" cy="607.43" r="0.35" fill="#555"/>
<circle cx="246.7" cy="614.25" r="0.35" fill="#555"/>
<circle cx="271.14" cy="600.44" r="0.35" fill="#555"/>
<circle cx="239.32" cy="618.93" r="0.35" fill="#555"/>
<circle cx="274.29" cy="593.42" r="0.35" fill="#555"/>
<circle cx="226.55" cy="589.05" r="0.35" fill="#555"/>
<circle cx="253.69" cy="618.81" r="0.35" fill="#555"/>
<circle cx="234.38" cy="593.61" r="0.35" fill="#555"/>
<circle cx="255.32" cy="621.43" r="0.35" fill="#555"/>
<circle cx="260.2" cy="626.46" r="0.35" fill="#555"/>
<circle cx="228.13" cy="611.57" r="0.35" fill="#555"/>
<circle cx="267.57" cy="640.39" r="0.35" fill="#555"/>
<circle cx="241.24" cy="633.87" r="0.35" fill="#555"/>
<circle cx="257.9" cy="638.53" r="0.35" fill="#555"/>
<circle cx="236.68" cy="624.5" r="0.35" fill="#555"/>
<circle cx="267.88" cy="611.08" r="0.35" fill="#555"/>
<circle cx="230.14" cy="593.81" r="0.35" fill="#555"/>
<circle cx="232.99" cy="587.66" r="0.35" fill="#555"/>
<circle cx="232.75" cy="619.56" r="0.35" fill="#555"/>
<circle cx="230.35" cy="628.24" r="0.35" fill="#555"/>
<circle cx="262.55" cy="631.8" r="0.35" fill="#555"/>
<circle cx="265.99" cy="625.5" r="0.35" fill="#555"/>
<circle cx="272.13" cy="640.37" r="0.35" fill="#555"/>
<circle cx="256.88" cy="640.87" r="0.35" fill="#555"/>
<circle cx="230.27" cy="588.28" r="0.35" fill="#555"/>
<circle cx="228.29" cy="594.59" r="0.35" fill="#555"/>
<circle cx="244.1" cy="609.98" r="0.35" fill="#555"/>
<circle cx="259.71" cy="627.32" r="0.35" fill="#555"/>
<circle cx="229.27" cy="606.6" r="0.35" fill="#555"/>
<circle cx="252.72" cy="604.89" r="0.35" fill="#555"/>
<circle cx="230.99" cy="618.42" r="0.35" fill="#555"/>
<circle cx="244.09" cy="623.71" r="0.35" fill="#555"/>
<circle cx="250.27" cy="640.72" r="0.35" fill="#555"/>
<circle cx="273.2" cy="586.4" r="0.35" fill="#555"/>
<circle cx="263.75" cy="626" r="0.35" fill="#555"/>
<circle cx="240.09" cy="589.13" r="0.35" fill="#555"/>
<circle cx="249.43" cy="603.6" r="0.35" fill="#555"/>
<circle cx="262.6" cy="638.02" r="0.35" fill="#555"/>
<circle cx="244.49" cy="599.73" r="0.35" fill="#555"/>
<circle cx="250.44" cy="624.51" r="0.35" fill="#555"/>
<circle cx="265.24" cy="617.12" r="0.35" fill="#555"/>
<circle cx="240.09" cy="602.55" r="0.35" fill="#555"/>
<circle cx="268.25" cy="613.67" r="0.35" fill="#555"/>
<circle cx="227.57" cy="607.67" r="0.35" fill="#555"/>
<circle cx="237.13" cy="622.64" r="0.35" fill="#555"/>
<circle cx="228.74" cy="598.53" r="0.35" fill="#555"/>
<circle cx="229.9" cy="611.13" r="0.35" fill="#555"/>
<circle cx="275.22" cy="615.02" r="0.35" fill="#555"/>
<circle cx="244.7" cy="638.97" r="0.35" fill="#555"/>
<circle cx="229.68" cy="603.7" r="0.35" fill="#555"/>
<circle cx="266.35" cy="582.31" r="0.35" fill="#555"/>
<circle cx="264.06" cy="604.02" r="0.35" fill="#555"/>
<circle cx="225.84" cy="597.3" r="0.35" fill="#555"/>
<circle cx="248.37" cy="605.35" r="0.35" fill="#555"/>
<circle cx="251.36" cy="585.24" r="0.35" fill="#555"/>
<circle cx="236.15" cy="641.43" r="0.35" fill="#555"/>
<circle cx="247.57" cy="610.79" r="0.35" fill="#555"/>
<circle cx="229.35" cy="599.03" r="0.35" fill="#555"/>
<circle cx="273.69" cy="623.91" r="0.35" fill="#555"/>
<circle cx="250.9" cy="585.23" r="0.35" fill="#555"/>
<circle cx="245.03" cy="629.48" r="0.35" fill="#555"/>
<circle cx="247.17" cy="618.21" r="0.35" fill="#555"/>
<circle cx="271.02" cy="621.35" r="0.35" fill="#555"/>
<circle cx="257.43" cy="584.2" r="0.35" fill="#555"/>
<circle cx="226.21" cy="628.94" r="0.35" fill="#555"/>
<circle cx="246.08" cy="635.33" r="0.35" fill="#555"/>
<circle cx="267.11" cy="637.84" r="0.35" fill="#555"/>
<circle cx="244.31" cy="642.94" r="0.35" fill="#555"/>
<circle cx="263.57" cy="636.4" r="0.35" fill="#555"/>
<circle cx="232.56" cy="629.64" r="0.35" fill="#555"/>
<circle cx="246.53" cy="641.3" r="0.35" fill="#555"/>
<circle cx="275.7" cy="595.22" r="0.35" fill="#555"/>
<circle cx="246.49" cy="598.53" r="0.35" fill="#555"/>
<circle cx="248.96" cy="599.48" r="0.35" fill="#555"/>
<circle cx="258.99" cy="589.52" r="0.35" fill="#555"/>
<circle cx="203.75" cy="614.54" r="0.35" fill="#555"/>
<circle cx="200.51" cy="610.11" r="0.35" fill="#555"/>
<circle cx="228.51" cy="639.35" r="0.35" fill="#555"/>
<circle cx="204.68" cy="589.07" r="0.35" fill="#555"/>
<circle cx="226.16" cy="643.73" r="0.35" fill="#555"/>
<circle cx="218.36" cy="595.91" r="0.35" fill="#555"/>
<circle cx="206.04" cy="641.37" r="0.35" fill="#555"/>
<circle cx="229.88" cy="589.8" r="0.35" fill="#555"/>
<circle cx="204.28" cy="612.88" r="0.35" fill="#555"/>
<circle cx="207.07" cy="631.72" r="0.35" fill="#555"/>
<circle cx="210.68" cy="632.96" r="0.35" fill="#555"/>
<circle cx="203.17" cy="618.06" r="0.35" fill="#555"/>
<circle cx="231.15" cy="628.72" r="0.35" fill="#555"/>
<circle cx="201.06" cy="594.44" r="0.35" fill="#555"/>
<circle cx="219.88" cy="609.75" r="0.35" fill="#555"/>
<circle cx="210.54" cy="615.71" r="0.35" fill="#555"/>
<circle cx="217.78" cy="644.02" r="0.35" fill="#555"/>
<circle cx="206.19" cy="620.98" r="0.35" fill="#555"/>
<circle cx="206.94" cy="619.63" r="0.35" fill="#555"/>
<circle cx="222.87" cy="595.75" r="0.35" fill="#555"/>
<circle cx="214.36" cy="628.93" r="0.35" fill="#555"/>
<circle cx="198.28" cy="632.73" r="0.35" fill="#555"/>
<circle cx="212.24" cy="617.24" r="0.35" fill="#555"/>
<circle cx="218.76" cy="633.99" r="0.35" fill="#555"/>
<circle cx="199.91" cy="617.03" r="0.35" fill="#555"/>
<circle cx="199.3" cy="610.36" r="0.35" fill="#555"/>
<circle cx="209.76" cy="589.24" r="0.35" fill="#555"/>
<circle cx="208.12" cy="614.1" r="0.35" fill="#555"/>
<circle cx="220.27" cy="641.64" r="0.35" fill="#555"/>
<circle cx="210.6" cy="618.74" r="0.35" fill="#555"/>
<circle cx="222.25" cy="642.36" r="0.35" fill="#555"/>
<circle cx="230.29" cy="645.31" r="0.35" fill="#555"/>
<circle cx="208.26" cy="597.67" r="0.35" fill="#555"/>
<circle cx="229.68" cy="592.49" r="0.35" fill="#555"/>
<circle cx="213.26" cy="630.7" r="0.35" fill="#555"/>
<circle cx="215.98" cy="610.55" r="0.35" fill="#555"/>
<circle cx="229.43" cy="605.35" r="0.35" fill="#555"/>
<circle cx="216.76" cy="636.12" r="0.35" fill="#555"/>
<circle cx="202.69" cy="608.36" r="0.35" fill="#555"/>
<circle cx="214.81" cy="620.82" r="0.35" fill="#555"/>
<circle cx="205.05" cy="614.33" r="0.35" fill="#555"/>
<circle cx="200.03" cy="593.1" r="0.35" fill="#555"/>
<circle cx="209.63" cy="596.34" r="0.35" fill="#555"/>
<circle cx="230.9" cy="603.27" r="0.35" fill="#555"/>
<circle cx="207.38" cy="633.45" r="0.35" fill="#555"/>
<circle cx="223.2" cy="603.2" r="0.35" fill="#555"/>
<circle cx="226.19" cy="624.29" r="0.35" fill="#555"/>
<circle cx="211.21" cy="624.47" r="0.35" fill="#555"/>
<circle cx="206.35" cy="603.28" r="0.35" fill="#555"/>
<circle cx="227.8" cy="613.44" r="0.35" fill="#555"/>
<circle cx="228.51" cy="598.26" r="0.35" fill="#555"/>
<circle cx="202.67" cy="591.01" r="0.35" fill="#555"/>
<circle cx="223.15" cy="620.55" r="0.35" fill="#555"/>
<circle cx="198.33" cy="590.51" r="0.35" fill="#555"/>
<circle cx="226.02" cy="616.67" r="0.35" fill="#555"/>
<circle cx="227.62" cy="590.31" r="0.35" fill="#555"/>
<circle cx="218.02" cy="594.81" r="0.35" fill="#555"/>
<circle cx="222.52" cy="623.46" r="0.35" fill="#555"/>
<circle cx="218.81" cy="600.85" r="0.35" fill="#555"/>
<circle cx="230.27" cy="594.44" r="0.35" fill="#555"/>
<circle cx="200.18" cy="627.67" r="0.35" fill="#555"/>
<circle cx="201.16" cy="591.88" r="0.35" fill="#555"/>
<circle cx="213.65" cy="625.63" r="0.35" fill="#555"/>
<circle cx="228.33" cy="629.81" r="0.35" fill="#555"/>
<circle cx="200.36" cy="625.3" r="0.35" fill="#555"/>
<circle cx="226.68" cy="594.99" r="0.35" fill="#555"/>
<circle cx="223.65" cy="603" r="0.35" fill="#555"/>
<circle cx="208.15" cy="588.09" r="0.35" fill="#555"/>
<circle cx="223.78" cy="617.91" r="0.35" fill="#555"/>
<circle cx="228.67" cy="615" r="0.35" fill="#555"/>
<circle cx="203.28" cy="600.55" r="0.35" fill="#555"/>
<circle cx="206.95" cy="642.91" r="0.35" fill="#555"/>
<circle cx="204.98" cy="593.12" r="0.35" fill="#555"/>
<circle cx="209.99" cy="592.59" r="0.35" fill="#555"/>
<circle cx="212.46" cy="624.05" r="0.35" fill="#555"/>
<circle cx="220.12" cy="598.14" r="0.35" fill="#555"/>
<circle cx="202.72" cy="616.49" r="0.35" fill="#555"/>
<circle cx="221.36" cy="613.93" r="0.35" fill="#555"/>
<circle cx="217.49" cy="640.9" r="0.35" fill="#555"/>
<circle cx="202.93" cy="603.53" r="0.35" fill="#555"/>
<circle cx="214.79" cy="619.09" r="0.35" fill="#555"/>
<circle cx="228.61" cy="620.21" r="0.35" fill="#555"/>
<circle cx="220.52" cy="612.34" r="0.35" fill="#555"/>
<circle cx="224.67" cy="636.48" r="0.35" fill="#555"/>
<circle cx="207.98" cy="594.25" r="0.35" fill="#555"/>
<circle cx="206.81" cy="608.74" r="0.35" fill="#555"/>
<circle cx="228.25" cy="603.35" r="0.35" fill="#555"/>
<circle cx="219.4" cy="625.16" r="0.35" fill="#555"/>
<circle cx="230.51" cy="594.76" r="0.35" fill="#555"/>
<circle cx="224.18" cy="607.51" r="0.35" fill="#555"/>
<circle cx="110.3" cy="622.4" r="0.35" fill="#555"/>
<circle cx="184.43" cy="618.69" r="0.35" fill="#555"/>
<circle cx="104.98" cy="647.91" r="0.35" fill="#555"/>
<circle cx="138.41" cy="622.72" r="0.35" fill="#555"/>
<circle cx="172.4" cy="594.55" r="0.35" fill="#555"/>
<circle cx="140.83" cy="599.7" r="0.35" fill="#555"/>
<circle cx="109.59" cy="579.83" r="0.35" fill="#555"/>
<circle cx="171.69" cy="605.79" r="0.35" fill="#555"/>
<circle cx="186.97" cy="579.7" r="0.35" fill="#555"/>
<circle cx="130.14" cy="588.51" r="0.35" fill="#555"/>
<circle cx="194.34" cy="634.29" r="0.35" fill="#555"/>
<circle cx="189.63" cy="612.98" r="0.35" fill="#555"/>
<circle cx="110.42" cy="606.21" r="0.35" fill="#555"/>
<circle cx="122.62" cy="577.02" r="0.35" fill="#555"/>
<circle cx="156.5" cy="596.75" r="0.35" fill="#555"/>
<circle cx="110.79" cy="613.37" r="0.35" fill="#555"/>
<circle cx="193.32" cy="645.95" r="0.35" fill="#555"/>
<circle cx="146.61" cy="582.71" r="0.35" fill="#555"/>
<circle cx="176.87" cy="583.61" r="0.35" fill="#555"/>
<circle cx="153.74" cy="581.28" r="0.35" fill="#555"/>
<circle cx="198.72" cy="615.7" r="0.35" fill="#555"/>
<circle cx="143.75" cy="595.41" r="0.35" fill="#555"/>
<circle cx="155.09" cy="647.97" r="0.35" fill="#555"/>
<circle cx="142.79" cy="590.69" r="0.35" fill="#555"/>
<circle cx="151.47" cy="643.87" r="0.35" fill="#555"/>
<circle cx="138.18" cy="622.54" r="0.35" fill="#555"/>
<circle cx="191.87" cy="599.43" r="0.35" fill="#555"/>
<circle cx="181.09" cy="614.68" r="0.35" fill="#555"/>
<circle cx="113.95" cy="579.02" r="0.35" fill="#555"/>
<circle cx="193.9" cy="609.95" r="0.35" fill="#555"/>
<path d="M108.32,579.34 C110.23,579.34 113.23,580.16 114.86,580.98 C116.5,581.8 117.45,582.48 118.13,584.25 C118.81,586.02 119.09,588.74 118.95,591.61 C118.81,594.47 118,598.15 117.31,601.42 C116.63,604.69 115.82,607.96 114.86,611.23 C113.91,614.5 112.68,618.04 111.59,621.04 C110.5,624.03 109.41,626.76 108.32,629.21 C107.23,631.67 106.14,634.12 105.05,635.75 C103.96,637.39 103.42,638.26 101.78,639.02 C100.15,639.79 97.42,640.33 95.24,640.33 C93.06,640.33 90.2,639.92 88.7,639.02 C87.2,638.12 86.38,636.43 86.25,634.94 C86.11,633.44 86.79,631.53 87.88,630.03 C88.97,628.53 91.7,627.71 92.79,625.94 C93.88,624.17 94.02,622.13 94.42,619.4 C94.83,616.68 94.83,613.13 95.24,609.59 C95.65,606.05 96.2,601.96 96.88,598.15 C97.56,594.33 98.24,589.56 99.33,586.7 C100.42,583.84 101.92,582.2 103.42,580.98 C104.92,579.75 106.41,579.34 108.32,579.34 Z" fill="none" stroke="#222" stroke-width="1.05"/>
<path d="M108.32,580.98 C109.96,580.98 112.63,581.66 114.04,582.61 C115.46,583.57 116.36,584.66 116.82,586.7 C117.29,588.74 117.15,591.61 116.82,594.88 C116.5,598.15 115.6,602.78 114.86,606.32 C114.13,609.86 113.36,612.86 112.41,616.13 C111.46,619.4 110.37,623.08 109.14,625.94 C107.91,628.8 106.55,631.53 105.05,633.3 C103.55,635.07 102.05,635.89 100.15,636.57 C98.24,637.25 95.38,637.52 93.61,637.39 C91.83,637.25 90.2,636.71 89.52,635.75 C88.84,634.8 88.84,632.89 89.52,631.67 C90.2,630.44 92.43,630.17 93.61,628.4 C94.78,626.62 95.87,624.17 96.55,621.04 C97.23,617.9 97.31,613.41 97.69,609.59 C98.08,605.78 98.29,601.69 98.84,598.15 C99.38,594.6 100.06,590.93 100.96,588.34 C101.86,585.75 103.01,583.84 104.23,582.61 C105.46,581.39 106.69,580.98 108.32,580.98 Z" fill="none" stroke="#222" stroke-width="1.05"/>
<path d="M107.99,583.1 C109.41,583.05 111.95,583.59 113.23,584.74 C114.51,585.88 115.35,587.46 115.68,589.97 C116.01,592.48 115.6,596.51 115.19,599.78 C114.78,603.05 113.96,606.32 113.23,609.59 C112.49,612.86 111.86,616.4 110.77,619.4 C109.68,622.4 108.19,625.4 106.69,627.58 C105.19,629.76 103.55,631.39 101.78,632.48 C100.01,633.57 97.64,634.12 96.06,634.12 C94.48,634.12 92.65,633.44 92.3,632.48 C91.94,631.53 93.03,630.03 93.93,628.4 C94.83,626.76 96.88,625.26 97.69,622.67 C98.51,620.08 98.48,616.4 98.84,612.86 C99.19,609.32 99.33,605.1 99.82,601.42 C100.31,597.74 100.96,593.51 101.78,590.79 C102.6,588.06 103.69,586.35 104.72,585.07 C105.76,583.79 106.58,583.16 107.99,583.1 Z" fill="none" stroke="#222" stroke-width="1.05"/>
<ellipse cx="107.3" cy="607.5" rx="8.2" ry="22.5" transform="rotate(12 107.3 607.5)" fill="none" stroke="#222" stroke-width="0.95"/>
<ellipse cx="107.18" cy="607.7" rx="7.42" ry="20.36" transform="rotate(12 107.18 607.7)" fill="none" stroke="#222" stroke-width="0.95"/>
<ellipse cx="107.06" cy="607.9" rx="6.64" ry="18.23" transform="rotate(12 107.06 607.9)" fill="none" stroke="#222" stroke-width="0.95"/>
<ellipse cx="106.94" cy="608.1" rx="5.86" ry="16.09" transform="rotate(12 106.94 608.1)" fill="none" stroke="#222" stroke-width="0.95"/>
<ellipse cx="106.82" cy="608.3" rx="5.08" ry="13.95" transform="rotate(12 106.82 608.3)" fill="none" stroke="#222" stroke-width="0.95"/>
<ellipse cx="106.7" cy="608.5" rx="4.3" ry="11.81" transform="rotate(12 106.7 608.5)" fill="none" stroke="#222" stroke-width="0.95"/>
<ellipse cx="106.58" cy="608.7" rx="3.53" ry="9.67" transform="rotate(12 106.58 608.7)" fill="none" stroke="#222" stroke-width="0.95"/>
<ellipse cx="106.46" cy="608.9" rx="2.75" ry="7.54" transform="rotate(12 106.46 608.9)" fill="none" stroke="#222" stroke-width="0.95"/>
<ellipse cx="106.34" cy="609.1" rx="1.97" ry="5.4" transform="rotate(12 106.34 609.1)" fill="none" stroke="#222" stroke-width="0.95"/>
<ellipse cx="104.6" cy="610" rx="1.1" ry="8.5" transform="rotate(8 104.6 610)" fill="#fff"/>
<path d="M228.72,579.66 C230.25,579.75 232.3,580.09 233.83,580.69 C235.36,581.28 236.9,581.79 237.92,583.24 C238.94,584.69 238.77,587.92 239.96,589.37 C241.15,590.82 243.71,591.07 245.07,591.93 C246.43,592.78 247.29,593.2 248.14,594.48 C248.99,595.76 249.33,598.23 250.18,599.59 C251.03,600.95 252.91,601.29 253.25,602.66 C253.59,604.02 252.65,606.06 252.22,607.77 C251.8,609.47 250.35,611.34 250.69,612.87 C251.03,614.41 252.82,615.43 254.27,616.96 C255.72,618.49 258.36,620.54 259.38,622.07 C260.4,623.6 260.91,624.97 260.4,626.16 C259.89,627.35 258.36,628.37 256.31,629.22 C254.27,630.08 250.86,630.59 248.14,631.27 C245.41,631.95 242.86,632.46 239.96,633.31 C237.07,634.16 233.32,635.36 230.77,636.38 C228.21,637.4 227.19,638.85 224.63,639.44 C222.08,640.04 218.84,639.87 215.44,639.95 C212.03,640.04 206.33,640.72 204.2,639.95 C202.07,639.19 202.32,637.14 202.66,635.36 C203,633.57 204.96,631.27 206.24,629.22 C207.52,627.18 209.48,625.82 210.33,623.09 C211.18,620.37 210.84,616.28 211.35,612.87 C211.86,609.47 212.54,606.4 213.39,602.66 C214.25,598.91 215.27,593.63 216.46,590.39 C217.65,587.16 219.18,584.94 220.55,583.24 C221.91,581.54 223.27,580.77 224.63,580.17 C226,579.58 227.19,579.58 228.72,579.66 Z" fill="none" stroke="#222" stroke-width="1.05"/>
<path d="M228.72,581.2 C230.17,581.28 232.13,581.71 233.32,582.22 C234.51,582.73 235.11,582.9 235.87,584.26 C236.64,585.62 236.9,588.52 237.92,590.39 C238.94,592.27 240.81,594.14 242.01,595.5 C243.2,596.87 244.39,597.04 245.07,598.57 C245.75,600.1 246.09,602.66 246.09,604.7 C246.09,606.74 245.07,608.96 245.07,610.83 C245.07,612.7 245.58,614.41 246.09,615.94 C246.6,617.47 248.14,618.49 248.14,620.03 C248.14,621.56 247.63,623.6 246.09,625.14 C244.56,626.67 241.49,627.86 238.94,629.22 C236.39,630.59 232.98,632.21 230.77,633.31 C228.55,634.42 227.87,635.19 225.66,635.87 C223.44,636.55 220.72,637.14 217.48,637.4 C214.25,637.66 208.28,637.91 206.24,637.4 C204.2,636.89 204.71,635.7 205.22,634.33 C205.73,632.97 208.2,631.44 209.31,629.22 C210.41,627.01 211.32,623.77 211.86,621.05 C212.41,618.32 212.15,615.94 212.58,612.87 C213,609.81 213.63,606.23 214.42,602.66 C215.2,599.08 216.17,594.4 217.28,591.42 C218.38,588.44 219.83,586.39 221.06,584.77 C222.28,583.16 223.36,582.3 224.63,581.71 C225.91,581.11 227.27,581.11 228.72,581.2 Z" fill="none" stroke="#222" stroke-width="1.05"/>
<path d="M228.72,582.73 C230,582.81 231.79,583.16 232.81,583.75 C233.83,584.35 234.34,584.86 234.85,586.31 C235.36,587.75 235.36,590.39 235.87,592.44 C236.39,594.48 237.24,596.52 237.92,598.57 C238.6,600.61 239.45,602.66 239.96,604.7 C240.47,606.74 240.98,608.62 240.98,610.83 C240.98,613.05 240.81,615.6 239.96,617.98 C239.11,620.37 237.75,622.92 235.87,625.14 C234,627.35 230.94,629.57 228.72,631.27 C226.51,632.97 224.8,634.5 222.59,635.36 C220.38,636.21 217.65,636.46 215.44,636.38 C213.22,636.29 210.16,635.87 209.31,634.84 C208.45,633.82 209.65,632.21 210.33,630.25 C211.01,628.29 212.8,625.99 213.39,623.09 C213.99,620.2 213.56,616.28 213.9,612.87 C214.25,609.47 214.76,606.06 215.44,602.66 C216.12,599.25 216.97,595.25 217.99,592.44 C219.01,589.63 220.38,587.33 221.57,585.8 C222.76,584.26 223.95,583.75 225.15,583.24 C226.34,582.73 227.44,582.64 228.72,582.73 Z" fill="none" stroke="#222" stroke-width="1.05"/>
<ellipse cx="224.8" cy="609.5" rx="10.4" ry="25" transform="rotate(12 224.8 609.5)" fill="none" stroke="#222" stroke-width="1.0"/>
<ellipse cx="224.52" cy="610.2" rx="9.08" ry="22.2" transform="rotate(12 224.52 610.2)" fill="none" stroke="#222" stroke-width="1.0"/>
<ellipse cx="224.24" cy="610.9" rx="7.76" ry="19.4" transform="rotate(12 224.24 610.9)" fill="none" stroke="#222" stroke-width="1.0"/>
<ellipse cx="223.96" cy="611.6" rx="6.44" ry="16.6" transform="rotate(12 223.96 611.6)" fill="none" stroke="#222" stroke-width="1.0"/>
<ellipse cx="223.68" cy="612.3" rx="5.12" ry="13.8" transform="rotate(12 223.68 612.3)" fill="none" stroke="#222" stroke-width="1.0"/>
<ellipse cx="223.4" cy="613" rx="3.8" ry="11" transform="rotate(12 223.4 613)" fill="none" stroke="#222" stroke-width="1.0"/>
<ellipse cx="223.2" cy="613.3" rx="1.9" ry="6.8" transform="rotate(12 223.2 613.3)" fill="#fff"/>
<line x1="327.1" y1="556.9" x2="327.1" y2="670.3" stroke="#666" stroke-width="0.8" />
<line x1="327.1" y1="670.3" x2="404.1" y2="670.3" stroke="#666" stroke-width="0.8" />
<line x1="323.8" y1="670.3" x2="327.1" y2="670.3" stroke="#666" stroke-width="0.8" />
<text x="319.6" y="673.76" font-size="9.6" text-anchor="end" fill="#3a3a3a">0</text>
<line x1="323.8" y1="641.95" x2="327.1" y2="641.95" stroke="#666" stroke-width="0.8" />
<text x="319.6" y="645.41" font-size="9.6" text-anchor="end" fill="#3a3a3a">10</text>
<line x1="323.8" y1="613.6" x2="327.1" y2="613.6" stroke="#666" stroke-width="0.8" />
<text x="319.6" y="617.06" font-size="9.6" text-anchor="end" fill="#3a3a3a">20</text>
<line x1="323.8" y1="585.25" x2="327.1" y2="585.25" stroke="#666" stroke-width="0.8" />
<text x="319.6" y="588.71" font-size="9.6" text-anchor="end" fill="#3a3a3a">30</text>
<line x1="323.8" y1="556.9" x2="327.1" y2="556.9" stroke="#666" stroke-width="0.8" />
<text x="319.6" y="560.36" font-size="9.6" text-anchor="end" fill="#3a3a3a">40</text>
<text transform="translate(301,610.8) rotate(-90)" font-size="10.8" text-anchor="middle" fill="#333" textLength="94.7" lengthAdjust="spacingAndGlyphs">Percentage of ILC2</text>
<text x="357.1" y="542.87" font-size="10.2" text-anchor="start" fill="#333" textLength="17.5" lengthAdjust="spacingAndGlyphs">TNF</text>
<line x1="349.6" y1="555.4" x2="381.9" y2="555.4" stroke="#777" stroke-width="0.9" />
<polygon points="360.4,548.1 361.11,549.83 362.97,549.97 361.54,551.17 361.99,552.98 360.4,552 358.81,552.98 359.26,551.17 357.83,549.97 359.69,549.83" fill="#222"/>
<polygon points="365.6,548.1 366.31,549.83 368.17,549.97 366.74,551.17 367.19,552.98 365.6,552 364.01,552.98 364.46,551.17 363.03,549.97 364.89,549.83" fill="#222"/>
<polygon points="370.8,548.1 371.51,549.83 373.37,549.97 371.94,551.17 372.39,552.98 370.8,552 369.21,552.98 369.66,551.17 368.23,549.97 370.09,549.83" fill="#222"/>
<circle cx="349.5" cy="626.36" r="2" fill="#1a1a1a"/>
<circle cx="349.5" cy="643.37" r="2" fill="#1a1a1a"/>
<circle cx="349.5" cy="648.75" r="2" fill="#1a1a1a"/>
<line x1="339.3" y1="639.12" x2="360.1" y2="639.12" stroke="#444" stroke-width="0.9" />
<line x1="349.5" y1="650.45" x2="349.5" y2="627.21" stroke="#444" stroke-width="0.8" />
<line x1="344.7" y1="650.45" x2="354.4" y2="650.45" stroke="#444" stroke-width="0.8" />
<line x1="344.7" y1="627.21" x2="354.4" y2="627.21" stroke="#444" stroke-width="0.8" />
<rect x="379.7" y="560.57" width="4" height="4" fill="#e4202b" />
<rect x="379.7" y="566.24" width="4" height="4" fill="#e4202b" />
<rect x="379.7" y="570.49" width="4" height="4" fill="#e4202b" />
<line x1="371.4" y1="567.39" x2="392.3" y2="567.39" stroke="#e4202b" stroke-width="0.9" />
<line x1="381.7" y1="573.34" x2="381.7" y2="561.44" stroke="#e4202b" stroke-width="0.8" />
<line x1="376.5" y1="573.34" x2="387" y2="573.34" stroke="#e4202b" stroke-width="0.8" />
<line x1="376.5" y1="561.44" x2="387" y2="561.44" stroke="#e4202b" stroke-width="0.8" />
<circle cx="406.4" cy="565" r="3.2" fill="#1a1a1a"/>
<text x="414.4" y="568.38" font-size="9.4" text-anchor="start" fill="#333" textLength="29.9" lengthAdjust="spacingAndGlyphs">Control</text>
<text x="444.6" y="563.82" font-size="5.6" text-anchor="start" fill="#333" textLength="23" lengthAdjust="spacingAndGlyphs">IL7RaCre</text>
<rect x="403.3" y="577" width="6" height="6" fill="#e4202b" />
<text x="413.8" y="583.38" font-size="9.4" text-anchor="start" fill="#333" textLength="29.5" lengthAdjust="spacingAndGlyphs">Blimp-1</text>
<text x="443.8" y="578.82" font-size="5.6" text-anchor="start" fill="#333" textLength="23" lengthAdjust="spacingAndGlyphs">IL7RaCre</text>
<text x="-0.8" y="713.8" font-size="15.5" text-anchor="start" fill="#111" font-weight="bold">g</text>
<rect x="13.7" y="712.6" width="413.2" height="92.8" fill="none" stroke="#777" stroke-width="0.9"/>
<polygon points="17,744.4 17,744.41 17.5,744.54 18,744.78 18.5,744.66 19,744.88 19.5,745.32 20,744.77 20.5,744.46 21,744.58 21.5,744.53 22,744.42 22.5,744.49 23,744.49 23.5,744.48 24,744.48 24.5,744.43 25,744.44 25.5,744.6 26,745.23 26.5,745.02 27,745.16 27.5,746.25 28,747.71 28.5,748.41 29,752.73 29.5,753.37 30,752.38 30.5,748.73 31,753.83 31.5,754.48 32,753.74 32.5,748.83 33,747.13 33.5,747.01 34,747.01 34.5,748.76 35,748.46 35.5,748.61 36,747.07 36.5,748.18 37,748.9 37.5,750.24 38,750.52 38.5,753.2 39,758.89 39.5,759.89 40,753.08 40.5,750.91 41,748.32 41.5,746.44 42,745.9 42.5,744.71 43,744.54 43.5,744.59 44,744.9 44.5,744.58 45,745.11 45.5,744.43 46,745.25 46.5,744.83 47,744.48 47.5,745.15 48,745.66 48.5,744.5 49,744.84 49.5,744.68 50,744.52 50.5,745.03 51,745.18 51.5,744.93 52,744.46 52.5,744.44 53,744.44 53.5,744.84 54,744.68 54.5,744.73 55,744.46 55.5,744.66 56,744.41 56.5,744.74 57,744.42 57.5,744.92 58,744.46 58.5,744.73 59,745.05 59.5,745.02 60,744.75 60.5,745.25 61,745.4 61.5,744.69 62,745.01 62.5,744.88 63,744.69 63.5,744.65 64,744.7 64.5,744.81 65,745.08 65.5,745.28 66,745.71 66.5,745.85 67,746.16 67.5,747.32 68,747.68 68.5,748.04 69,748.52 69.5,748.72 70,748.75 70.5,750.78 71,750.75 71.5,750.8 72,750.58 72.5,759.1 73,760.6 73.5,759.16 74,754.27 74.5,750.01 75,747.29 75.5,746.2 76,745.82 76.5,746.01 77,745.07 77.5,745.29 78,745.11 78.5,744.83 79,744.56 79.5,744.59 80,744.46 80.5,744.69 81,744.45 81.5,744.55 82,744.8 82.5,744.41 83,744.96 83.5,745.15 84,744.55 84.5,744.73 85,744.42 85.5,745.1 86,744.5 86.5,744.85 87,744.72 87.5,744.44 88,744.58 88.5,744.49 89,745.12 89.5,745.08 90,744.41 90.5,744.51 91,744.54 91.5,744.7 92,744.69 92.5,745.22 93,746.11 93.5,747.92 94,751.2 94.5,754.89 95,755.71 95.5,753.92 96,749.32 96.5,747 97,745.85 97.5,745.98 98,744.59 98.5,745.08 99,744.55 99.5,745.31 100,744.87 100.5,744.75 101,744.91 101.5,744.46 102,744.83 102.5,744.46 103,744.54 103.5,744.71 104,744.86 104.5,744.64 105,744.75 105.5,744.56 106,744.61 106.5,744.9 107,745.23 107.5,745.05 108,745.21 108.5,745.68 109,746.48 109.5,746.42 110,746.54 110.5,746.81 111,746.88 111.5,746.98 112,747.15 112.5,748.38 113,749.02 113.5,748.91 114,747.49 114.5,747.23 115,747.04 115.5,746.38 116,745.8 116.5,745.85 117,746.23 117.5,746.76 118,747.37 118.5,748.58 119,749.1 119.5,750.75 120,751.27 120.5,750.29 121,749.23 121.5,748.53 122,748.09 122.5,747.76 123,749.38 123.5,749.41 124,748.65 124.5,752.54 125,753.1 125.5,752.22 126,749.88 126.5,749.91 127,750.34 127.5,753.86 128,760.31 128.5,761.41 129,759.77 129.5,750.53 130,748.89 130.5,752.93 131,752.43 131.5,752.17 132,749.41 132.5,748.74 133,747.54 133.5,746.56 134,746.89 134.5,745.73 135,745.32 135.5,745.19 136,745.46 136.5,745.84 137,746.11 137.5,746.83 138,746.6 138.5,746.95 139,748.05 139.5,748.53 140,748.18 140.5,749.36 141,749.97 141.5,749.57 142,752.16 142.5,755.13 143,755.42 143.5,754.62 144,750.36 144.5,749.06 145,746.95 145.5,745.8 146,745.45 146.5,745.39 147,745.81 147.5,745.15 148,744.91 148.5,744.57 149,745.09 149.5,744.86 150,744.55 150.5,744.44 151,745.04 151.5,744.48 152,744.48 152.5,744.41 153,744.59 153.5,744.69 154,744.94 154.5,745.02 155,744.56 155.5,745.12 156,744.66 156.5,744.7 157,744.8 157.5,744.71 158,744.9 158.5,744.41 159,744.78 159.5,744.45 160,744.43 160.5,744.97 161,744.42 161.5,745.02 162,745.28 162.5,744.47 163,744.42 163.5,744.54 164,744.78 164.5,744.76 165,744.5 165.5,744.9 166,745.13 166.5,744.75 167,744.76 167.5,745.48 168,745.24 168.5,745.88 169,746.48 169.5,748.34 170,748.9 170.5,749.58 171,750.37 171.5,750.22 172,751.58 172.5,754.21 173,754.53 173.5,754.85 174,761.07 174.5,768.17 175,779.82 175.5,779.12 176,763.73 176.5,758.46 177,751.07 177.5,752.59 178,752.53 178.5,752.31 179,749.17 179.5,748.55 180,748.99 180.5,747.75 181,746.46 181.5,746 182,745.99 182.5,745.6 183,744.86 183.5,744.57 184,745.35 184.5,744.85 185,745.01 185.5,745.86 186,746.48 186.5,747.56 187,749.05 187.5,751.12 188,753.95 188.5,754.41 189,753.89 189.5,754.21 190,761.24 190.5,760.77 191,752.75 191.5,749.61 192,747.5 192.5,745.59 193,745.13 193.5,744.51 194,745.37 194.5,744.69 195,744.72 195.5,744.53 196,744.82 196.5,744.86 197,744.9 197.5,744.41 198,744.4 198.5,744.71 199,744.71 199.5,744.48 200,744.81 200.5,744.41 201,745.75 201.5,744.84 202,744.58 202.5,744.87 203,744.42 203.5,744.41 204,744.5 204.5,744.44 205,744.99 205.5,744.74 206,744.62 206.5,744.48 207,744.77 207.5,745.4 208,744.59 208.5,744.92 209,745.07 209.5,744.44 210,744.42 210.5,744.59 211,745.24 211.5,744.61 212,744.92 212.5,745.67 213,748.21 213.5,749.79 214,754.02 214.5,767.04 215,769.49 215.5,766.97 216,759.15 216.5,754.12 217,754.71 217.5,755.1 218,752.43 218.5,750.46 219,748.99 219.5,748.16 220,751.21 220.5,755.56 221,756.69 221.5,755.68 222,759 222.5,759.18 223,751.79 223.5,750.74 224,748.25 224.5,746.41 225,745.16 225.5,745.18 226,744.5 226.5,744.68 227,744.54 227.5,745.42 228,744.67 228.5,744.43 229,744.5 229.5,744.99 230,745.35 230.5,744.64 231,745.17 231.5,744.48 232,744.69 232.5,744.5 233,744.97 233.5,744.5 234,744.81 234.5,744.56 235,744.6 235.5,744.57 236,744.43 236.5,745.39 237,744.82 237.5,744.68 238,744.46 238.5,744.74 239,744.67 239.5,744.84 240,744.91 240.5,744.5 241,744.66 241.5,744.44 242,745.2 242.5,744.51 243,744.64 243.5,745.14 244,745.03 244.5,744.54 245,744.53 245.5,744.89 246,744.78 246.5,744.63 247,744.84 247.5,744.56 248,744.44 248.5,744.44 249,744.66 249.5,744.69 250,744.47 250.5,744.99 251,744.79 251.5,744.53 252,744.89 252.5,744.65 253,744.65 253.5,744.4 254,745.35 254.5,744.4 255,745.25 255.5,744.85 256,744.48 256.5,744.41 257,744.46 257.5,744.76 258,744.55 258.5,744.71 259,744.47 259.5,744.44 260,744.47 260.5,744.51 261,744.55 261.5,744.55 262,744.62 262.5,744.57 263,744.77 263.5,745.79 264,745.33 264.5,746.25 265,746.25 265.5,746.45 266,747.24 266.5,748.17 267,749.29 267.5,748.72 268,749.54 268.5,752.4 269,752.98 269.5,757.18 270,767.1 270.5,769.54 271,767.81 271.5,756.07 272,750.58 272.5,748.22 273,747 273.5,745.86 274,745.69 274.5,745.11 275,745.48 275.5,744.7 276,745.42 276.5,744.94 277,744.46 277.5,744.46 278,744.42 278.5,744.94 279,744.66 279.5,744.73 280,744.56 280.5,744.41 281,744.43 281.5,744.44 282,744.58 282.5,744.52 283,744.47 283.5,744.46 284,744.47 284.5,744.49 285,744.41 285.5,744.5 286,744.44 286.5,744.63 287,744.54 287.5,744.47 288,745.05 288.5,744.41 289,744.59 289.5,744.45 290,745.46 290.5,744.51 291,744.65 291.5,744.61 292,744.66 292.5,744.46 293,744.66 293.5,746.1 294,744.44 294.5,744.9 295,744.92 295.5,744.43 296,744.74 296.5,745.29 297,744.82 297.5,745.66 298,744.47 298.5,744.71 299,744.77 299.5,744.53 300,744.87 300.5,745.38 301,744.56 301.5,744.79 302,744.44 302.5,744.79 303,744.54 303.5,744.77 304,745.1 304.5,744.49 305,744.56 305.5,744.77 306,745.02 306.5,745.01 307,744.91 307.5,744.42 308,745.23 308.5,745.91 309,744.82 309.5,744.49 310,744.77 310.5,744.42 311,744.52 311.5,744.65 312,744.43 312.5,744.49 313,744.63 313.5,745.23 314,744.73 314.5,745.37 315,744.76 315.5,744.42 316,744.61 316.5,744.46 317,744.41 317.5,744.43 318,744.4 318.5,744.82 319,744.54 319.5,744.47 320,744.45 320.5,744.78 321,745.75 321.5,744.62 322,745.78 322.5,745.2 323,745.32 323.5,746.74 324,747.02 324.5,745.56 325,745.05 325.5,744.93 326,744.81 326.5,745.31 327,745.56 327.5,744.54 328,745.06 328.5,744.94 329,744.74 329.5,744.65 330,745.04 330.5,744.71 331,745.36 331.5,744.44 332,744.44 332.5,744.55 333,744.43 333.5,745.14 334,744.43 334.5,744.44 335,744.42 335.5,744.47 336,744.44 336.5,745.09 337,745.06 337.5,744.51 338,744.43 338.5,744.48 339,744.53 339.5,744.91 340,745.43 340.5,744.95 341,744.54 341.5,744.87 342,745.07 342.5,744.65 343,744.84 343.5,745.08 344,745.7 344.5,746.35 345,745.99 345.5,747.22 346,747.83 346.5,748.08 347,748.35 347.5,748.21 348,749.62 348.5,750.02 349,750.55 349.5,752.89 350,752.47 350.5,753.36 351,760.78 351.5,762.94 352,760.71 352.5,751.42 353,752.5 353.5,764.5 354,766.85 354.5,763.96 355,753.49 355.5,750.73 356,747.91 356.5,745.68 357,745.32 357.5,745.93 358,746.14 358.5,746.77 359,748.43 359.5,748.76 360,750.62 360.5,752.65 361,752.41 361.5,752.85 362,751.26 362.5,757.82 363,759.8 363.5,757.83 364,749.88 364.5,747.45 365,745.82 365.5,745.56 366,745.42 366.5,744.7 367,744.49 367.5,744.44 368,744.77 368.5,744.48 369,744.95 369.5,744.65 370,744.41 370.5,744.44 371,744.47 371.5,745.35 372,744.6 372.5,744.48 373,744.42 373.5,745.02 374,744.48 374.5,744.49 375,744.46 375.5,744.73 376,744.98 376.5,744.57 377,744.47 377.5,744.48 378,744.42 378.5,744.7 379,744.62 379.5,744.83 380,744.41 380.5,745.14 381,744.87 381.5,744.64 382,744.84 382.5,745.31 383,744.63 383.5,744.73 384,745.4 384.5,745.3 385,745.56 385.5,747.02 386,746.34 386.5,746.74 387,747.18 387.5,747.68 388,748.24 388.5,749.63 389,749.55 389.5,749.35 390,751 390.5,754.89 391,754.32 391.5,751.34 392,748.53 392.5,746.73 393,745.4 393.5,745.23 394,745.05 394.5,744.89 395,745.1 395.5,744.62 396,744.77 396.5,745.35 397,745.16 397.5,744.84 398,745.53 398.5,744.41 399,745.18 399.5,744.68 400,744.43 400.5,744.53 401,745.05 401.5,744.68 402,745.22 402.5,744.97 403,745.92 403.5,745.15 404,745.46 404.5,746.93 405,746.52 405.5,746.32 406,745.98 406.5,745.53 407,745.18 407.5,745.05 408,745.07 408.5,745.43 409,745.81 409.5,746.73 410,746.44 410.5,747.39 411,746.21 411.5,745.39 412,745.34 412.5,744.86 413,744.76 413.5,744.56 414,744.46 414.5,745.37 414.5,744.4" fill="#22419a"/>
<polygon points="17,744.4 17,744.34 17.5,743.91 18,744.16 18.5,744.22 19,744.34 19.5,744.32 20,743.67 20.5,744.31 21,744.25 21.5,744.03 22,743.95 22.5,743.86 23,743.91 23.5,743.97 24,744.38 24.5,744.34 25,744.12 25.5,744.13 26,743.83 26.5,743.11 27,742.26 27.5,741.57 28,738.6 28.5,738.27 29,738.64 29.5,741.37 30,737.1 30.5,736.26 31,737.28 31.5,740.02 32,741.24 32.5,740.49 33,739.72 33.5,740.49 34,741.5 34.5,741.71 35,742.04 35.5,743.23 36,743.35 36.5,742.44 37,741.85 37.5,741.39 38,740.85 38.5,739.45 39,739.38 39.5,739.18 40,738.94 40.5,734.25 41,733.01 41.5,733.58 42,737.08 42.5,739.58 43,741.6 43.5,742.46 44,743.97 44.5,744.24 45,744.33 45.5,744.19 46,743.89 46.5,743.94 47,743.58 47.5,744.13 48,744.36 48.5,744.37 49,744.17 49.5,744.28 50,744.3 50.5,744.3 51,744.38 51.5,744.39 52,744.14 52.5,744.28 53,744.29 53.5,744.39 54,743.92 54.5,744.3 55,744.16 55.5,743.94 56,744.39 56.5,744.36 57,744.39 57.5,744.32 58,744.27 58.5,744.38 59,744.36 59.5,744.21 60,743.92 60.5,743.76 61,744.2 61.5,743.93 62,743.83 62.5,744.24 63,744.3 63.5,744.26 64,744.1 64.5,743.61 65,743.85 65.5,743.69 66,743.59 66.5,742.97 67,742.45 67.5,742.66 68,742.52 68.5,741.95 69,741.51 69.5,741.63 70,741.31 70.5,739.38 71,740.38 71.5,740.3 72,737.92 72.5,734.73 73,734.18 73.5,734.89 74,739.46 74.5,740.94 75,742.28 75.5,742.32 76,743.1 76.5,743.92 77,743.83 77.5,743.19 78,744.08 78.5,744.13 79,743.84 79.5,744.17 80,744.02 80.5,744.3 81,743.63 81.5,743.72 82,743.68 82.5,744.36 83,744.32 83.5,744.07 84,744.12 84.5,744.37 85,744.23 85.5,744.3 86,744.25 86.5,744.27 87,744.38 87.5,744.39 88,744.3 88.5,744.38 89,744.07 89.5,744.19 90,744.13 90.5,744.32 91,744.31 91.5,743.95 92,743.84 92.5,743.59 93,743.06 93.5,742.08 94,740.87 94.5,739.64 95,739.38 95.5,739.61 96,741.72 96.5,741.95 97,742.62 97.5,743.47 98,743.47 98.5,743.79 99,743.66 99.5,743.99 100,743.95 100.5,744.35 101,743.93 101.5,744.33 102,743.69 102.5,744.24 103,743.85 103.5,744.3 104,744.12 104.5,743.58 105,744.21 105.5,744.17 106,743.77 106.5,743.57 107,743.61 107.5,743.65 108,743.41 108.5,742.8 109,742.99 109.5,742.45 110,741.69 110.5,742 111,741.97 111.5,741.33 112,741.28 112.5,741.2 113,742.03 113.5,741.94 114,742.19 114.5,742.76 115,742.99 115.5,743.2 116,742.67 116.5,742.37 117,742.05 117.5,740.52 118,739.93 118.5,740.52 119,741.56 119.5,741.67 120,741.49 120.5,740.82 121,741.11 121.5,740.75 122,740.98 122.5,738.31 123,737.7 123.5,738.41 124,739.87 124.5,740.14 125,740.03 125.5,738.41 126,738.34 126.5,738.43 127,740.01 127.5,736.31 128,731.53 128.5,730.07 129,731.56 129.5,737.65 130,739.33 130.5,741.66 131,742.05 131.5,740.99 132,740.17 132.5,739.47 133,739.27 133.5,739.15 134,740.99 134.5,741.26 135,742.41 135.5,743.02 136,743.34 136.5,743.59 137,743.44 137.5,742.92 138,742.24 138.5,742.51 139,742.59 139.5,740.51 140,740.32 140.5,740.2 141,740.48 141.5,741.85 142,742.53 142.5,742.76 143,743.47 143.5,743.33 144,744.01 144.5,743.81 145,743.81 145.5,744.21 146,744.13 146.5,744.31 147,744.25 147.5,744.39 148,744.32 148.5,744.39 149,744.19 149.5,744.38 150,744.4 150.5,743.99 151,743.89 151.5,744.25 152,744.35 152.5,744.02 153,744.38 153.5,744.39 154,743.29 154.5,744.08 155,744.39 155.5,744.38 156,744.36 156.5,744.32 157,744.37 157.5,744.37 158,744.27 158.5,744.03 159,744.39 159.5,744.01 160,744.35 160.5,744.03 161,743.99 161.5,744.2 162,744.32 162.5,744.39 163,744.36 163.5,744.28 164,744.09 164.5,743.88 165,744.35 165.5,744.2 166,743.59 166.5,743.69 167,744.03 167.5,743.79 168,742.76 168.5,742.28 169,742.68 169.5,742.61 170,742.25 170.5,740.52 171,739.87 171.5,739.95 172,742.16 172.5,741.18 173,740.06 173.5,735.63 174,727.74 174.5,721.28 175,714.81 175.5,714.88 176,726.18 176.5,733.02 177,737.19 177.5,738.78 178,739.66 178.5,740.38 179,740.21 179.5,740.83 180,742.09 180.5,742.22 181,742.86 181.5,743.17 182,743.3 182.5,743.68 183,743.13 183.5,742.57 184,741.97 184.5,741.48 185,741.44 185.5,739.55 186,739.19 186.5,739.5 187,741.76 187.5,740.53 188,739.23 188.5,737.28 189,737.1 189.5,736.57 190,736.16 190.5,738.65 191,740.36 191.5,742.14 192,743.26 192.5,743.86 193,743.98 193.5,744.19 194,744.24 194.5,744.38 195,744.37 195.5,743.72 196,744.37 196.5,744.2 197,744.37 197.5,744.04 198,743.53 198.5,744.3 199,744.11 199.5,744.39 200,744.4 200.5,744.15 201,744.14 201.5,744.21 202,743.95 202.5,744.28 203,744.37 203.5,744.29 204,744.34 204.5,744.28 205,744.31 205.5,744.27 206,744.23 206.5,744.34 207,744.17 207.5,744.37 208,744.15 208.5,743.62 209,743.8 209.5,743.92 210,744.13 210.5,743.99 211,744.34 211.5,744.22 212,743.81 212.5,742.88 213,741.32 213.5,739.67 214,736.07 214.5,732.47 215,731.22 215.5,732.48 216,738.13 216.5,739.79 217,739.57 217.5,738.34 218,738.01 218.5,738.47 219,740.81 219.5,741.79 220,741.55 220.5,741.25 221,739.41 221.5,738.47 222,736.49 222.5,735.86 223,739.26 223.5,740.16 224,741.22 224.5,738.91 225,739.08 225.5,739.5 226,741.32 226.5,741.8 227,742.08 227.5,742.75 228,743.37 228.5,743.65 229,743.77 229.5,744.04 230,744.24 230.5,744.25 231,744.11 231.5,744.33 232,744.17 232.5,744.08 233,744.34 233.5,744.33 234,744.35 234.5,744.36 235,744.07 235.5,744.26 236,744.38 236.5,744.35 237,744.39 237.5,744.38 238,744.35 238.5,744.2 239,744.37 239.5,744.24 240,743.82 240.5,743.74 241,744.14 241.5,743.99 242,744.33 242.5,744.34 243,744.39 243.5,744.1 244,744.34 244.5,744.36 245,744.38 245.5,744.21 246,744.17 246.5,744.4 247,743.95 247.5,744.27 248,744.19 248.5,743.9 249,744.38 249.5,744.39 250,744.26 250.5,743.91 251,744.12 251.5,744.06 252,744.08 252.5,744.29 253,744.3 253.5,744.4 254,744.12 254.5,744.34 255,744.39 255.5,744.3 256,744.2 256.5,744.39 257,743.97 257.5,743.89 258,743.88 258.5,744.34 259,743.91 259.5,743.64 260,744.01 260.5,744.2 261,743.91 261.5,743.98 262,743.79 262.5,743.22 263,743.38 263.5,743.1 264,743.02 264.5,742.96 265,742.29 265.5,742.03 266,741.27 266.5,740.29 267,741.4 267.5,739.3 268,739.15 268.5,739.14 269,738.21 269.5,735.25 270,730.13 270.5,729.31 271,730.56 271.5,736.76 272,739.45 272.5,741.67 273,742.74 273.5,743.49 274,743.49 274.5,743.78 275,743.66 275.5,743.99 276,744.15 276.5,744.24 277,744.33 277.5,743.83 278,744.25 278.5,743.83 279,744.06 279.5,744.36 280,744.22 280.5,744.4 281,744.36 281.5,744 282,744.27 282.5,743.91 283,744.26 283.5,744.27 284,743.81 284.5,744.35 285,744.07 285.5,744.35 286,744.35 286.5,744.3 287,743.94 287.5,744.36 288,743.74 288.5,744.04 289,744.38 289.5,744.09 290,743.55 290.5,743.95 291,744.38 291.5,744.37 292,744.35 292.5,744.37 293,743.96 293.5,744.16 294,743.44 294.5,744.35 295,744.3 295.5,743.77 296,744.4 296.5,744.18 297,743.86 297.5,744.33 298,744.18 298.5,744.38 299,744.35 299.5,744.29 300,744.26 300.5,744.39 301,744.19 301.5,744.4 302,744.27 302.5,744.28 303,743.92 303.5,743.94 304,744.16 304.5,743.95 305,744.38 305.5,744.28 306,743.71 306.5,744.15 307,744.33 307.5,744.36 308,744.37 308.5,744.36 309,744.35 309.5,744.27 310,744.13 310.5,744.39 311,743.9 311.5,743.99 312,744.2 312.5,744.37 313,743.7 313.5,744.33 314,744.39 314.5,744.29 315,743.85 315.5,744.38 316,743.82 316.5,743.93 317,744.11 317.5,744.29 318,744.35 318.5,744.39 319,744.32 319.5,744.31 320,744.18 320.5,744.17 321,744.06 321.5,743.37 322,743.06 322.5,742.49 323,742.31 323.5,742.6 324,742.91 324.5,743.82 325,743.63 325.5,744.25 326,743.91 326.5,744.34 327,744.31 327.5,744.05 328,744.38 328.5,743.92 329,743.94 329.5,744.26 330,744.1 330.5,744.2 331,744.33 331.5,744.36 332,744.38 332.5,744.32 333,743.58 333.5,743.95 334,744.24 334.5,744.39 335,744.23 335.5,743.7 336,744.35 336.5,744.11 337,744.36 337.5,744.32 338,743.97 338.5,744.18 339,743.96 339.5,744.33 340,743.81 340.5,744.1 341,744 341.5,744.23 342,744.21 342.5,743.98 343,744.07 343.5,744.03 344,743.63 344.5,743.3 345,743.11 345.5,743.29 346,743.02 346.5,741.98 347,742.41 347.5,742.04 348,741.52 348.5,740.76 349,740.48 349.5,739.43 350,739.16 350.5,739.42 351,738.57 351.5,736.7 352,733.68 352.5,733.21 353,737.51 353.5,739.08 354,740.66 354.5,741.72 355,741.4 355.5,738.03 356,738.39 356.5,738.58 357,740.52 357.5,741.74 358,742.46 358.5,743.08 359,743.49 359.5,744.1 360,743.27 360.5,742.6 361,741.62 361.5,741.23 362,737.87 362.5,737.32 363,737.8 363.5,739.57 364,740.64 364.5,742.33 365,743.25 365.5,743.19 366,744.01 366.5,744.33 367,744.19 367.5,744.32 368,744.34 368.5,744.17 369,743.94 369.5,744.35 370,744.11 370.5,744.37 371,743.86 371.5,744.36 372,744.06 372.5,744.3 373,744.14 373.5,743.68 374,744.26 374.5,744.25 375,744.16 375.5,744.34 376,744.28 376.5,744.38 377,744.36 377.5,744.27 378,744.35 378.5,744.38 379,744.37 379.5,744.08 380,743.81 380.5,744.26 381,744.23 381.5,743.8 382,744.08 382.5,743.49 383,743.88 383.5,743.45 384,743.52 384.5,742.96 385,742.88 385.5,742.53 386,742.04 386.5,742.13 387,741.68 387.5,741.31 388,741.12 388.5,741.43 389,741.73 389.5,739.95 390,739.57 390.5,738.33 391,738.39 391.5,740.58 392,741.57 392.5,742.4 393,743.04 393.5,743.68 394,744.1 394.5,743.59 395,744.06 395.5,743.95 396,744.27 396.5,744.34 397,744.26 397.5,744.22 398,744.03 398.5,744.03 399,744.32 399.5,744.16 400,744.17 400.5,744.21 401,743.94 401.5,744.14 402,744.14 402.5,743.27 403,743.58 403.5,742.93 404,743.04 404.5,742.28 405,741.99 405.5,742.47 406,742.78 406.5,743.33 407,743.66 407.5,743.92 408,743 408.5,742.58 409,743.07 409.5,741.92 410,742.28 410.5,742.07 411,742.83 411.5,743.01 412,743.23 412.5,742.28 413,741.99 413.5,742.22 414,742.97 414.5,743.36 414.5,744.4" fill="#e4202b"/>
<line x1="17" y1="744.4" x2="414.8" y2="744.4" stroke="#7a4a8a" stroke-width="0.5" />
<text x="17.9" y="725.1" font-size="9.4" text-anchor="start" fill="#e4202b" textLength="29.8" lengthAdjust="spacingAndGlyphs">Control</text>
<text x="47.4" y="720.7" font-size="5.4" text-anchor="start" fill="#e4202b" textLength="23.3" lengthAdjust="spacingAndGlyphs">IL7RaCre</text>
<text x="17.9" y="775.4" font-size="9.4" text-anchor="start" fill="#22419a" textLength="28.3" lengthAdjust="spacingAndGlyphs">Blimp-1</text>
<text x="46.1" y="770.8" font-size="5.4" text-anchor="start" fill="#22419a" textLength="23.9" lengthAdjust="spacingAndGlyphs">IL7RaCre</text>
<line x1="22.8" y1="788.2" x2="55.5" y2="788.2" stroke="#22419a" stroke-width="0.6" />
<rect x="22.8" y="787.1" width="1.2" height="2.2" fill="#22419a" />
<rect x="31" y="787.1" width="1" height="2.2" fill="#22419a" />
<rect x="36" y="787.1" width="1" height="2.2" fill="#22419a" />
<rect x="41" y="787.1" width="1" height="2.2" fill="#22419a" />
<rect x="54.5" y="787.1" width="1" height="2.2" fill="#22419a" />
<path d="M30.54,787.1 L28.14,788.2 L30.54,789.3" fill="none" stroke="#22419a" stroke-width="0.5"/>
<path d="M37.08,787.1 L34.68,788.2 L37.08,789.3" fill="none" stroke="#22419a" stroke-width="0.5"/>
<path d="M43.62,787.1 L41.22,788.2 L43.62,789.3" fill="none" stroke="#22419a" stroke-width="0.5"/>
<path d="M50.16,787.1 L47.76,788.2 L50.16,789.3" fill="none" stroke="#22419a" stroke-width="0.5"/>
<line x1="115.3" y1="788.2" x2="132.8" y2="788.2" stroke="#22419a" stroke-width="0.6" />
<rect x="115.3" y="786.9" width="1.7" height="2.6" fill="#22419a" />
<rect x="119" y="786.9" width="3" height="2.6" fill="#22419a" />
<rect x="125" y="786.9" width="7.8" height="2.6" fill="#22419a" />
<path d="M125.25,787.1 L122.85,788.2 L125.25,789.3" fill="none" stroke="#22419a" stroke-width="0.5"/>
<line x1="163.5" y1="788.2" x2="188.3" y2="788.2" stroke="#22419a" stroke-width="0.6" />
<rect x="163.5" y="786.9" width="11.5" height="2.6" fill="#22419a" />
<rect x="178" y="786.9" width="1" height="2.6" fill="#22419a" />
<rect x="183" y="787.1" width="1" height="2.2" fill="#22419a" />
<path d="M168.5,787.1 L170.9,788.2 L168.5,789.3" fill="none" stroke="#22419a" stroke-width="0.5"/>
<path d="M174.7,787.1 L177.1,788.2 L174.7,789.3" fill="none" stroke="#22419a" stroke-width="0.5"/>
<path d="M180.9,787.1 L183.3,788.2 L180.9,789.3" fill="none" stroke="#22419a" stroke-width="0.5"/>
<line x1="200.5" y1="788.2" x2="223.8" y2="788.2" stroke="#22419a" stroke-width="0.6" />
<rect x="200.5" y="786.9" width="7.5" height="2.6" fill="#22419a" />
<rect x="212" y="786.9" width="1.5" height="2.6" fill="#22419a" />
<rect x="222" y="787.1" width="1.8" height="2.2" fill="#22419a" />
<path d="M207.07,787.1 L209.47,788.2 L207.07,789.3" fill="none" stroke="#22419a" stroke-width="0.5"/>
<path d="M214.83,787.1 L217.23,788.2 L214.83,789.3" fill="none" stroke="#22419a" stroke-width="0.5"/>
<line x1="367" y1="788.8" x2="414.8" y2="788.8" stroke="#22419a" stroke-width="0.6" />
<rect x="367" y="787.5" width="9" height="2.6" fill="#22419a" />
<rect x="378" y="787.3" width="2" height="3" fill="#22419a" />
<path d="M375.03,787.7 L372.63,788.8 L375.03,789.9" fill="none" stroke="#22419a" stroke-width="0.5"/>
<path d="M381.86,787.7 L379.46,788.8 L381.86,789.9" fill="none" stroke="#22419a" stroke-width="0.5"/>
<path d="M388.69,787.7 L386.29,788.8 L388.69,789.9" fill="none" stroke="#22419a" stroke-width="0.5"/>
<path d="M395.51,787.7 L393.11,788.8 L395.51,789.9" fill="none" stroke="#22419a" stroke-width="0.5"/>
<path d="M402.34,787.7 L399.94,788.8 L402.34,789.9" fill="none" stroke="#22419a" stroke-width="0.5"/>
<path d="M409.17,787.7 L406.77,788.8 L409.17,789.9" fill="none" stroke="#22419a" stroke-width="0.5"/>
<text x="38" y="800.06" font-size="9.6" text-anchor="middle" fill="#333">Lst1</text>
<text x="122.6" y="800.06" font-size="9.6" text-anchor="middle" fill="#333">Ltb</text>
<text x="177.2" y="800.06" font-size="9.6" text-anchor="middle" fill="#333">Tnf</text>
<text x="210.7" y="800.06" font-size="9.6" text-anchor="middle" fill="#333">Lta</text>
<text x="398.2" y="800.06" font-size="9.6" text-anchor="middle" fill="#333">Nfkbil1</text>
<rect x="13.7" y="813.1" width="357.8" height="92" fill="none" stroke="#777" stroke-width="0.9"/>
<polygon points="17,843.8 17,845.52 17.5,844.84 18,845.18 18.5,844.99 19,845.78 19.5,846.27 20,845.98 20.5,846.29 21,845.41 21.5,844.82 22,844.85 22.5,845.08 23,844.3 23.5,844.16 24,844.87 24.5,845.43 25,845.8 25.5,846.9 26,846.26 26.5,846.71 27,844.93 27.5,844.49 28,844.14 28.5,843.95 29,843.97 29.5,844.25 30,844.78 30.5,845.34 31,845.51 31.5,845.2 32,846.02 32.5,846.24 33,846.88 33.5,846.93 34,845.64 34.5,845.47 35,845.16 35.5,844.84 36,845.18 36.5,844.42 37,844.54 37.5,845.05 38,846.12 38.5,845.79 39,847.13 39.5,846.76 40,847.67 40.5,846.62 41,846.04 41.5,845.81 42,844.98 42.5,844.88 43,844.98 43.5,845.31 44,846.19 44.5,846.74 45,848.05 45.5,847.64 46,846.11 46.5,847.26 47,846.67 47.5,845.14 48,845.46 48.5,844.27 49,844.04 49.5,843.99 50,844.29 50.5,844.65 51,845.17 51.5,846.42 52,846.26 52.5,846.04 53,845.5 53.5,846.04 54,845.13 54.5,844.23 55,844.09 55.5,844.11 56,844.19 56.5,844.48 57,843.98 57.5,844.27 58,844.7 58.5,845.22 59,845.66 59.5,846.18 60,846.36 60.5,845.58 61,846.9 61.5,847.01 62,845.28 62.5,844.66 63,844.5 63.5,843.92 64,844.08 64.5,844.52 65,844.84 65.5,845.67 66,846.1 66.5,846.47 67,845.62 67.5,845.27 68,844.94 68.5,845.19 69,845.63 69.5,846.24 70,846.3 70.5,847.15 71,845.78 71.5,845.4 72,844.74 72.5,844.62 73,845.57 73.5,845.73 74,846.77 74.5,846.55 75,846.16 75.5,844.98 76,844.51 76.5,844.59 77,844.06 77.5,845.13 78,844.58 78.5,845.07 79,846.04 79.5,847 80,847.21 80.5,846.53 81,844.95 81.5,844.98 82,846.18 82.5,845.85 83,846.82 83.5,848.77 84,849.3 84.5,849.8 85,851.88 85.5,850.46 86,853.64 86.5,861.79 87,876.45 87.5,882.7 88,881.49 88.5,860.3 89,852.07 89.5,848.75 90,847.92 90.5,846.77 91,846.06 91.5,845.5 92,845.31 92.5,844.73 93,844.36 93.5,844.23 94,843.97 94.5,843.88 95,843.98 95.5,845.09 96,845.19 96.5,844.45 97,844.5 97.5,845.28 98,845.41 98.5,846.05 99,844.99 99.5,844.91 100,844.19 100.5,844.06 101,844.15 101.5,844.57 102,844.98 102.5,845.03 103,845.62 103.5,845.79 104,846.03 104.5,846.78 105,846.99 105.5,847.07 106,848.56 106.5,851.92 107,852.84 107.5,864.1 108,866.17 108.5,863.66 109,856.79 109.5,851.93 110,849.8 110.5,849.13 111,847.47 111.5,846.89 112,847.45 112.5,846.27 113,846.1 113.5,846.16 114,846.55 114.5,847.26 115,847.81 115.5,846.8 116,845.75 116.5,845.15 117,844.9 117.5,844.37 118,844.03 118.5,843.93 119,844.8 119.5,844.69 120,844.48 120.5,844.24 121,844.15 121.5,844.78 122,844.61 122.5,845.16 123,846.6 123.5,845.87 124,845.45 124.5,846.24 125,846.42 125.5,846.51 126,846.17 126.5,845.81 127,845.3 127.5,845.67 128,845.54 128.5,845.06 129,844.8 129.5,844.66 130,844.17 130.5,844 131,844 131.5,844.26 132,844.84 132.5,844.2 133,843.94 133.5,843.84 134,844.33 134.5,844.9 135,844.4 135.5,845.13 136,846.41 136.5,846.14 137,845.2 137.5,845.06 138,845.13 138.5,845.51 139,846.79 139.5,846.86 140,847.31 140.5,846.96 141,845.83 141.5,846.1 142,845.2 142.5,845.56 143,846.24 143.5,846.7 144,847.09 144.5,845.36 145,845.24 145.5,844.85 146,844.49 146.5,844.76 147,844.2 147.5,844.79 148,843.88 148.5,844.41 149,844.35 149.5,845.55 150,845.86 150.5,845.61 151,845.13 151.5,844.44 152,845.12 152.5,844.49 153,845.61 153.5,844.88 154,845.09 154.5,846.15 155,846.51 155.5,845.98 156,845.57 156.5,845.37 157,845.83 157.5,845.01 158,844.35 158.5,844.47 159,844.83 159.5,846.85 160,846.08 160.5,845.24 161,846.77 161.5,847.21 162,846.5 162.5,844.8 163,844.48 163.5,844.08 164,844.4 164.5,844.15 165,844.2 165.5,844.24 166,843.91 166.5,844.45 167,843.92 167.5,844.16 168,844.3 168.5,844.54 169,844.98 169.5,845.16 170,845.34 170.5,845.21 171,845.8 171.5,845.86 172,845.2 172.5,845.09 173,844.87 173.5,844.65 174,844.47 174.5,844.61 175,844.13 175.5,846.14 176,844.88 176.5,845.33 177,845.17 177.5,844.35 178,844.3 178.5,843.95 179,844.18 179.5,844.27 180,845.29 180.5,845.17 181,845.44 181.5,845.36 182,846.6 182.5,846.48 183,846.35 183.5,845.58 184,845.44 184.5,845 185,844.65 185.5,844.51 186,844.12 186.5,844.68 187,844.18 187.5,844.87 188,844.6 188.5,845.44 189,846.58 189.5,847.69 190,846.28 190.5,845.86 191,844.98 191.5,844.35 192,845.15 192.5,844.75 193,845.15 193.5,845.47 194,845.76 194.5,846.42 195,846.41 195.5,846.23 196,845.99 196.5,845.58 197,846 197.5,846.08 198,847.15 198.5,847.73 199,847.67 199.5,846.23 200,845.67 200.5,846.7 201,846.63 201.5,846.12 202,845.24 202.5,844.65 203,843.94 203.5,844.23 204,844.88 204.5,844.92 205,845.23 205.5,846.51 206,847.16 206.5,847.4 207,845.59 207.5,844.91 208,844.51 208.5,844.48 209,844.07 209.5,844.21 210,844.21 210.5,844.48 211,844.54 211.5,844.97 212,845.13 212.5,846.18 213,847.47 213.5,848.61 214,849.71 214.5,849.12 215,849.38 215.5,851.73 216,852.46 216.5,860.96 217,872.11 217.5,874.24 218,869.63 218.5,853.68 219,849.93 219.5,847.56 220,846.43 220.5,845.8 221,845.06 221.5,844.8 222,844.58 222.5,844.71 223,845.72 223.5,846.82 224,846.66 224.5,845.8 225,844.97 225.5,844.49 226,844.83 226.5,843.99 227,843.96 227.5,844.02 228,844.23 228.5,844.1 229,845.14 229.5,844.22 230,843.96 230.5,844.29 231,844.32 231.5,845.97 232,844.83 232.5,844.48 233,844.71 233.5,844.42 234,844.84 234.5,843.98 235,844.23 235.5,844.42 236,845.33 236.5,845.45 237,845.75 237.5,845.34 238,845.78 238.5,845.1 239,845.18 239.5,846.46 240,846.67 240.5,846.78 241,845.55 241.5,845.08 242,844.82 242.5,844.87 243,845.35 243.5,844.36 244,845.19 244.5,846.41 245,847.58 245.5,846.66 246,845.55 246.5,845.96 247,846.09 247.5,845.42 248,844.87 248.5,844.36 249,844.32 249.5,844.26 250,844.05 250.5,844.09 251,844.42 251.5,843.89 252,844.08 252.5,844 253,844.13 253.5,844.18 254,844.35 254.5,844.8 255,844.68 255.5,845.45 256,847.42 256.5,847.74 257,847.01 257.5,846.88 258,845.97 258.5,845.29 259,846.03 259.5,846.41 260,846.52 260.5,846.27 261,845.15 261.5,845.29 262,845.5 262.5,844.66 263,844.59 263.5,845 264,844.11 264.5,845.22 265,844.29 265.5,844.68 266,844.89 266.5,845.27 267,846.13 267.5,845.8 268,844.94 268.5,845.84 269,845.3 269.5,846.15 270,846.14 270.5,846.43 271,846.92 271.5,848.62 272,849.22 272.5,849.8 273,849.87 273.5,849.71 274,850.28 274.5,853.53 275,854.02 275.5,852.05 276,849.41 276.5,848.65 277,849.34 277.5,849.19 278,847.47 278.5,847.37 279,846.47 279.5,845.98 280,845.44 280.5,845.38 281,844.87 281.5,844.47 282,844.77 282.5,844.58 283,844.37 283.5,844.75 284,845.24 284.5,844.89 285,844.97 285.5,845.72 286,845.8 286.5,846.15 287,845 287.5,845.16 288,845.79 288.5,844.57 289,845.57 289.5,845.01 290,844.45 290.5,845.03 291,846.29 291.5,845.58 292,845.15 292.5,846.25 293,845.54 293.5,845.56 294,845.49 294.5,845.56 295,844.47 295.5,844.65 296,844.74 296.5,845.08 297,846.24 297.5,846.73 298,847.38 298.5,847.98 299,845.5 299.5,845.62 300,845.4 300.5,846.22 301,846.5 301.5,846.14 302,844.93 302.5,844.65 303,845.56 303.5,845.61 304,847.08 304.5,847.1 305,846.02 305.5,845.8 306,845.25 306.5,844.52 307,845.48 307.5,844.65 308,845.04 308.5,845.7 309,845.84 309.5,846.23 310,846.55 310.5,846.4 311,845.77 311.5,845.9 312,845.91 312.5,845.47 313,845.02 313.5,845.41 314,844.6 314.5,844.69 315,844.37 315.5,844.19 316,845.08 316.5,844.43 317,844.72 317.5,845.42 318,845.46 318.5,844.17 319,844.6 319.5,844.3 320,844.57 320.5,843.83 321,844.13 321.5,844.7 322,843.99 322.5,844.37 323,844.01 323.5,844.62 324,844.96 324.5,844.42 325,844.09 325.5,844.5 326,844.01 326.5,844.23 327,844.59 327.5,845.74 328,845.74 328.5,845.43 329,846.56 329.5,847.2 330,847.26 330.5,846.44 331,845.11 331.5,846.23 332,845.08 332.5,844.76 333,844.88 333.5,844.93 334,845.37 334.5,846.72 335,847.55 335.5,846.65 336,845.73 336.5,845.72 337,845.74 337.5,846.86 338,846.35 338.5,846.25 339,845.71 339.5,845.41 340,845.41 340.5,844.59 341,845.36 341.5,844.85 342,845.18 342.5,846.27 343,845.81 343.5,847.27 344,847.15 344.5,847.07 345,845.94 345.5,845.37 346,845.25 346.5,844.96 347,845.14 347.5,844.8 348,844.92 348.5,845.33 349,846.18 349.5,847.5 350,847.81 350.5,847.27 351,846.28 351.5,846.1 352,845.82 352.5,845.48 353,844.79 353.5,844.71 354,845.84 354.5,845.83 355,844.78 355.5,844.34 356,845.58 356.5,844.33 357,844.52 357.5,844.5 358,845.28 358.5,844.85 359,844.68 359.5,844.71 360,845.46 360.5,845.2 361,845.87 361.5,845.77 362,846.38 362.5,845.56 363,845.64 363.5,844.69 364,844.34 364.5,844.27 364.5,843.8" fill="#22419a"/>
<polygon points="17,843.8 17,843.33 17.5,842.47 18,843.29 18.5,842.72 19,842.45 19.5,842.86 20,843.18 20.5,843.36 21,843.49 21.5,843.67 22,843.71 22.5,842.73 23,843.48 23.5,843.61 24,843.51 24.5,843.38 25,843.32 25.5,842.44 26,842.64 26.5,841.66 27,841.4 27.5,841.4 28,840.93 28.5,842.23 29,842.35 29.5,841.28 30,841.72 30.5,841.83 31,842.32 31.5,842.9 32,842.79 32.5,843.26 33,842.95 33.5,843.44 34,843.58 34.5,843.62 35,843.56 35.5,843.31 36,843.15 36.5,843.62 37,843.36 37.5,842.81 38,842.9 38.5,843.01 39,842.22 39.5,842.4 40,842.64 40.5,843.12 41,843.13 41.5,843.54 42,843.42 42.5,842.99 43,843.08 43.5,842.5 44,841.8 44.5,841.82 45,841.49 45.5,841.83 46,842.29 46.5,842.45 47,842.9 47.5,843.18 48,843.24 48.5,843.14 49,843.04 49.5,842.68 50,842.79 50.5,842.73 51,842.81 51.5,843.16 52,843.32 52.5,843.49 53,843.42 53.5,843.39 54,842.6 54.5,842.96 55,843.23 55.5,842.56 56,842.61 56.5,842.46 57,842.32 57.5,841.73 58,841.85 58.5,841.98 59,842.6 59.5,842.33 60,841.78 60.5,841.66 61,842.63 61.5,842.13 62,841.87 62.5,841.59 63,842.75 63.5,842.94 64,843.26 64.5,842.91 65,843.06 65.5,842.5 66,841.16 66.5,841.77 67,842.7 67.5,842.83 68,843.29 68.5,843.44 69,843.7 69.5,843.73 70,843.73 70.5,843.65 71,843.16 71.5,843.34 72,843.79 72.5,843.75 73,842.96 73.5,843.41 74,843.12 74.5,843.3 75,843.13 75.5,842.68 76,842.6 76.5,842.64 77,843.02 77.5,843.25 78,842.66 78.5,841.99 79,841.28 79.5,841.42 80,841.64 80.5,842.64 81,842.94 81.5,843.35 82,843.15 82.5,843.15 83,841.1 83.5,841.39 84,841.61 84.5,839.92 85,839.18 85.5,839.52 86,837.86 86.5,832.55 87,825.15 87.5,822.37 88,823.66 88.5,832.4 89,835.54 89.5,836.53 90,838.37 90.5,839.13 91,841.34 91.5,840.82 92,841.68 92.5,841.49 93,841.86 93.5,842.75 94,842.47 94.5,843.19 95,843.42 95.5,843.02 96,843.18 96.5,843.04 97,843.39 97.5,842.69 98,842.78 98.5,841.51 99,841.69 99.5,841.83 100,842.77 100.5,842.3 101,841.54 101.5,841.85 102,841.57 102.5,840.7 103,841.98 103.5,842.34 104,841.98 104.5,841.55 105,841.5 105.5,840.35 106,839.09 106.5,839.2 107,837.21 107.5,833.35 108,832.78 108.5,833.2 109,838.16 109.5,838.8 110,840.23 110.5,839.92 111,841.1 111.5,842.03 112,842.45 112.5,842.72 113,841.88 113.5,842.12 114,841.71 114.5,841.48 115,841.05 115.5,840.91 116,841.61 116.5,842.54 117,842.75 117.5,842.58 118,843.35 118.5,843.39 119,843.01 119.5,843.7 120,843.73 120.5,843.52 121,843.29 121.5,843.11 122,842.6 122.5,842.31 123,842.43 123.5,842.31 124,841.96 124.5,841.81 125,841.61 125.5,841.77 126,842.06 126.5,842.11 127,842.91 127.5,843.08 128,843.12 128.5,843.25 129,842.59 129.5,842.25 130,842.25 130.5,842.81 131,843.29 131.5,843.24 132,843.35 132.5,843.19 133,842.35 133.5,842.38 134,842.54 134.5,843.08 135,843.44 135.5,843.49 136,843.15 136.5,843.68 137,843.44 137.5,843.1 138,842.57 138.5,842.88 139,843.01 139.5,842.99 140,843.6 140.5,843.7 141,843.7 141.5,843.71 142,843.44 142.5,842.85 143,843.33 143.5,843.19 144,842.79 144.5,842.11 145,842.66 145.5,842.17 146,842.48 146.5,842.46 147,842.81 147.5,842.6 148,842.29 148.5,842.49 149,842.54 149.5,841.3 150,841.31 150.5,841.85 151,841.84 151.5,840.88 152,841.08 152.5,841.77 153,842.69 153.5,842.47 154,843.26 154.5,843.12 155,842.83 155.5,843.22 156,842.61 156.5,842.67 157,842.4 157.5,841.68 158,842.47 158.5,842.77 159,842.59 159.5,842.76 160,843.24 160.5,843.4 161,843.45 161.5,843.4 162,841.83 162.5,841.73 163,842.34 163.5,842.62 164,842.76 164.5,841.87 165,841.96 165.5,842.22 166,842.76 166.5,842.77 167,842.32 167.5,842.05 168,841.05 168.5,840.67 169,842.38 169.5,842.73 170,842.99 170.5,843.2 171,843.41 171.5,843.28 172,843.71 172.5,842.86 173,843.59 173.5,843.47 174,843.05 174.5,842.69 175,842.64 175.5,842.56 176,841.89 176.5,841.41 177,841.43 177.5,842.09 178,841.67 178.5,842.57 179,842.51 179.5,843.22 180,843.49 180.5,843.19 181,842.86 181.5,842.42 182,841.98 182.5,841.89 183,841.19 183.5,841.13 184,841.03 184.5,841.74 185,842.2 185.5,842.78 186,842.86 186.5,842.77 187,841.94 187.5,841.95 188,841.42 188.5,840.68 189,841.34 189.5,841.76 190,842.68 190.5,842.94 191,843.1 191.5,842.78 192,843.51 192.5,843.69 193,843.5 193.5,843.47 194,843.3 194.5,842.87 195,841.69 195.5,841.13 196,840.7 196.5,842.08 197,842.46 197.5,842.43 198,840.62 198.5,840.62 199,841.59 199.5,840.97 200,841.11 200.5,840.39 201,841.65 201.5,841.42 202,842.52 202.5,842.99 203,842.8 203.5,842.31 204,842.2 204.5,841.32 205,841.32 205.5,842.27 206,842.64 206.5,842.93 207,843.29 207.5,843.56 208,842.62 208.5,843.43 209,842.87 209.5,841.45 210,840.6 210.5,841.45 211,842.38 211.5,843.5 212,842.97 212.5,843.22 213,842.87 213.5,842.14 214,842.24 214.5,842 215,842.14 215.5,841.18 216,839.41 216.5,836.57 217,830.31 217.5,829.75 218,831.54 218.5,836.24 219,839.37 219.5,840.66 220,841.69 220.5,842.27 221,842.73 221.5,842.38 222,843.38 222.5,843.42 223,843.16 223.5,842.26 224,842.71 224.5,842.04 225,841.57 225.5,841.87 226,841.91 226.5,842.11 227,842.64 227.5,842.45 228,843.38 228.5,843.5 229,843 229.5,843.26 230,842.57 230.5,842.19 231,841.63 231.5,841.43 232,841.45 232.5,842.2 233,843 233.5,842.6 234,843.15 234.5,842.45 235,842.3 235.5,842.55 236,841.98 236.5,841.88 237,841.88 237.5,842.71 238,843.02 238.5,842.76 239,842.42 239.5,841.81 240,841.49 240.5,841.48 241,842.21 241.5,842.47 242,842.23 242.5,841.88 243,841.89 243.5,841.67 244,842.9 244.5,842.85 245,843.37 245.5,843.41 246,843.14 246.5,842.99 247,842.79 247.5,842.4 248,842.23 248.5,841.51 249,842.34 249.5,842.83 250,842.46 250.5,843.18 251,843.07 251.5,843.36 252,843.62 252.5,843.71 253,843.75 253.5,843.75 254,843.59 254.5,843.24 255,842.76 255.5,842.57 256,842.03 256.5,843.27 257,842.73 257.5,842.24 258,841.88 258.5,842.17 259,841.94 259.5,841.24 260,841.29 260.5,841.79 261,842.18 261.5,842.68 262,843.06 262.5,842.49 263,842.79 263.5,842.33 264,841.49 264.5,841.7 265,840.74 265.5,840.76 266,841.84 266.5,842.96 267,842.82 267.5,843.23 268,842.97 268.5,842.3 269,842.3 269.5,842.15 270,841.66 270.5,840.81 271,839.6 271.5,839.88 272,839.3 272.5,839.87 273,840.82 273.5,839.93 274,839.26 274.5,837.09 275,837.69 275.5,839.59 276,839.83 276.5,839.92 277,839.64 277.5,839.92 278,840.87 278.5,840.97 279,841.53 279.5,842.14 280,842.55 280.5,842.94 281,843.32 281.5,843.58 282,843.5 282.5,843.2 283,843.22 283.5,842.5 284,842.17 284.5,842.65 285,843.34 285.5,843.49 286,843.04 286.5,843.7 287,843.29 287.5,843.31 288,843.7 288.5,843.61 289,843.43 289.5,842.95 290,842.97 290.5,842.21 291,842.32 291.5,841.52 292,841.68 292.5,841.34 293,842.52 293.5,842.82 294,842.91 294.5,842.54 295,842.06 295.5,841.07 296,841.09 296.5,841.85 297,842.34 297.5,843.06 298,842.69 298.5,842.44 299,842.37 299.5,841.74 300,841.7 300.5,841.82 301,842.42 301.5,842.59 302,842.73 302.5,841.79 303,842.95 303.5,843.35 304,843.43 304.5,843.28 305,842.76 305.5,842.92 306,842.55 306.5,842.55 307,842.88 307.5,842.75 308,843.29 308.5,843.35 309,843.37 309.5,843.63 310,843.05 310.5,843.74 311,843.24 311.5,843.5 312,843.48 312.5,843.12 313,842.5 313.5,842.19 314,842.01 314.5,841.78 315,842.79 315.5,843.07 316,842.46 316.5,843.21 317,842.97 317.5,842.67 318,842.31 318.5,841.72 319,841.33 319.5,841.27 320,840.76 320.5,841.27 321,842.19 321.5,842.09 322,842.46 322.5,842.81 323,843.3 323.5,843.32 324,843.11 324.5,842.61 325,843.24 325.5,842.87 326,842.6 326.5,842.36 327,841.89 327.5,841.03 328,841.33 328.5,842.02 329,841.92 329.5,841.95 330,842.24 330.5,843.06 331,843 331.5,842.62 332,841.32 332.5,841.55 333,841.86 333.5,842.78 334,842.8 334.5,842.24 335,842.59 335.5,842.49 336,841.75 336.5,841.69 337,841.74 337.5,842.32 338,842.91 338.5,842.81 339,843.12 339.5,843.24 340,843.56 340.5,843.57 341,843.25 341.5,842.91 342,841.65 342.5,842.3 343,841.15 343.5,840.05 344,841.35 344.5,842.24 345,842.29 345.5,842.87 346,842.44 346.5,841.72 347,842 347.5,841.31 348,841.26 348.5,841.35 349,842.19 349.5,842.03 350,842.45 350.5,842.7 351,843.2 351.5,843.44 352,843.45 352.5,842.75 353,842.8 353.5,843.14 354,842.1 354.5,842.31 355,842.68 355.5,841.69 356,842.13 356.5,842.73 357,842.27 357.5,842.65 358,842.83 358.5,842.82 359,842.85 359.5,842 360,841.81 360.5,841.72 361,841.18 361.5,842.53 362,842.77 362.5,842.57 363,843.17 363.5,843.07 364,843.5 364.5,843.54 364.5,843.8" fill="#e4202b"/>
<line x1="17" y1="843.8" x2="364.5" y2="843.8" stroke="#7a4a8a" stroke-width="0.5" />
<text x="17.9" y="825.1" font-size="9.4" text-anchor="start" fill="#e4202b" textLength="29.8" lengthAdjust="spacingAndGlyphs">Control</text>
<text x="47.4" y="820.7" font-size="5.4" text-anchor="start" fill="#e4202b" textLength="23.3" lengthAdjust="spacingAndGlyphs">IL7RaCre</text>
<text x="17.9" y="873.9" font-size="9.4" text-anchor="start" fill="#22419a" textLength="28.3" lengthAdjust="spacingAndGlyphs">Blimp-1</text>
<text x="46.1" y="869.3" font-size="5.4" text-anchor="start" fill="#22419a" textLength="23.9" lengthAdjust="spacingAndGlyphs">IL7RaCre</text>
<line x1="68" y1="889.9" x2="159.1" y2="889.9" stroke="#22419a" stroke-width="0.6" />
<rect x="95" y="888.7" width="1.5" height="2.4" fill="#22419a" />
<rect x="98.5" y="888.4" width="2" height="3" fill="#22419a" />
<rect x="145" y="888.6" width="14.1" height="2.6" fill="#22419a" />
<path d="M75.27,888.8 L72.87,889.9 L75.27,891" fill="none" stroke="#22419a" stroke-width="0.5"/>
<path d="M81.35,888.8 L78.95,889.9 L81.35,891" fill="none" stroke="#22419a" stroke-width="0.5"/>
<path d="M87.42,888.8 L85.02,889.9 L87.42,891" fill="none" stroke="#22419a" stroke-width="0.5"/>
<path d="M93.49,888.8 L91.09,889.9 L93.49,891" fill="none" stroke="#22419a" stroke-width="0.5"/>
<path d="M99.57,888.8 L97.17,889.9 L99.57,891" fill="none" stroke="#22419a" stroke-width="0.5"/>
<path d="M105.64,888.8 L103.24,889.9 L105.64,891" fill="none" stroke="#22419a" stroke-width="0.5"/>
<path d="M111.71,888.8 L109.31,889.9 L111.71,891" fill="none" stroke="#22419a" stroke-width="0.5"/>
<path d="M117.79,888.8 L115.39,889.9 L117.79,891" fill="none" stroke="#22419a" stroke-width="0.5"/>
<path d="M123.86,888.8 L121.46,889.9 L123.86,891" fill="none" stroke="#22419a" stroke-width="0.5"/>
<path d="M129.93,888.8 L127.53,889.9 L129.93,891" fill="none" stroke="#22419a" stroke-width="0.5"/>
<path d="M136.01,888.8 L133.61,889.9 L136.01,891" fill="none" stroke="#22419a" stroke-width="0.5"/>
<path d="M142.08,888.8 L139.68,889.9 L142.08,891" fill="none" stroke="#22419a" stroke-width="0.5"/>
<path d="M148.15,888.8 L145.75,889.9 L148.15,891" fill="none" stroke="#22419a" stroke-width="0.5"/>
<path d="M154.23,888.8 L151.83,889.9 L154.23,891" fill="none" stroke="#22419a" stroke-width="0.5"/>
<path d="M66.8,889.9 L70.5,887.8 L70.5,892 Z" fill="#22419a"/>
<text x="111" y="902.76" font-size="9.6" text-anchor="middle" fill="#333">Ifng</text>
<text x="492.9" y="444.6" font-size="15.5" text-anchor="start" fill="#111" font-weight="bold">h</text>
<polyline points="505.4,506.68 506.23,506.68 507.07,506.67 507.9,506.66 508.74,506.65 509.57,506.64 510.41,506.62 511.25,506.6 512.08,506.58 512.91,506.55 513.75,506.52 514.59,506.48 515.42,506.44 516.25,506.38 517.09,506.32 517.92,506.24 518.76,506.16 519.6,506.05 520.43,505.94 521.26,505.81 522.1,505.66 522.93,505.49 523.77,505.3 524.61,505.1 525.44,504.88 526.27,504.64 527.11,504.39 527.95,504.12 528.78,503.84 529.62,503.56 530.45,503.27 531.28,502.98 532.12,502.7 532.96,502.43 533.79,502.17 534.62,501.92 535.46,501.7 536.29,501.5 537.13,501.33 537.97,501.18 538.8,501.12 539.63,501.25 540.47,501.41 541.31,501.59 542.14,501.8 542.98,502.04 543.81,502.29 544.64,502.56 545.48,502.84 546.32,503.12 547.15,503.41 547.99,503.7 548.82,503.98 549.65,504.25 550.49,504.51 551.33,504.76 552.16,504.99 553,505.2 553.83,505.39 554.67,505.57 555.5,505.73 556.34,505.87 557.17,506 558,506.1 558.84,506.2 559.68,506.28 560.51,506.35 561.35,506.41 562.18,506.46 563.01,506.5 563.85,506.54 564.69,506.56 565.52,506.59 566.36,506.61 567.19,506.63 568.03,506.64 568.86,506.65 569.7,506.66 570.53,506.67 571.37,506.68 572.2,506.69" fill="none" stroke="#f2d640" stroke-width="1.2"/>
<polyline points="505.4,506.14 506.23,506.11 507.07,506.08 507.9,506.04 508.74,505.99 509.57,505.94 510.41,505.87 511.25,505.8 512.08,505.71 512.91,505.6 513.75,505.47 514.59,505.32 515.42,505.15 516.25,504.94 517.09,504.7 517.92,504.43 518.76,504.11 519.6,503.75 520.43,503.35 521.26,502.9 522.1,502.39 522.93,501.83 523.77,501.23 524.61,500.57 525.44,499.86 526.27,499.11 527.11,498.32 527.95,497.5 528.78,496.65 529.62,495.79 530.45,494.93 531.28,494.07 532.12,493.24 532.96,492.43 533.79,491.66 534.62,490.95 535.46,490.3 536.29,489.72 537.13,489.21 537.97,488.78 538.8,488.59 539.63,488.98 540.47,489.44 541.31,489.99 542.14,490.6 542.98,491.29 543.81,492.03 544.64,492.81 545.48,493.63 546.32,494.48 547.15,495.34 547.99,496.21 548.82,497.06 549.65,497.89 550.49,498.7 551.33,499.47 552.16,500.2 553,500.89 553.83,501.52 554.67,502.11 555.5,502.64 556.34,503.12 557.17,503.55 558,503.93 558.84,504.27 559.68,504.56 560.51,504.82 561.35,505.04 562.18,505.23 563.01,505.4 563.85,505.53 564.69,505.65 565.52,505.75 566.36,505.84 567.19,505.91 568.03,505.97 568.86,506.02 569.7,506.06 570.53,506.1 571.37,506.13 572.2,506.16" fill="none" stroke="#45c0ea" stroke-width="1.2"/>
<polyline points="505.4,503.93 506.23,503.81 507.07,503.67 507.9,503.51 508.74,503.32 509.57,503.1 510.41,502.84 511.25,502.55 512.08,502.2 512.91,501.8 513.75,501.35 514.59,500.82 515.42,500.22 516.25,499.55 517.09,498.78 517.92,497.92 518.76,496.97 519.6,495.91 520.43,494.75 521.26,493.48 522.1,492.1 522.93,490.62 523.77,489.04 524.61,487.37 525.44,485.61 526.27,483.78 527.11,481.89 527.95,479.96 528.78,478 529.62,476.04 530.45,474.09 531.28,472.18 532.12,470.33 532.96,468.56 533.79,466.89 534.62,465.33 535.46,463.91 536.29,462.64 537.13,461.52 537.97,460.57 538.8,460.14 539.63,461 540.47,462.04 541.31,463.23 542.14,464.57 542.98,466.06 543.81,467.67 544.64,469.4 545.48,471.21 546.32,473.09 547.15,475.02 547.99,476.98 548.82,478.94 549.65,480.89 550.49,482.8 551.33,484.67 552.16,486.46 553,488.18 553.83,489.81 554.67,491.35 555.5,492.78 556.34,494.1 557.17,495.32 558,496.43 558.84,497.44 559.68,498.35 560.51,499.16 561.35,499.88 562.18,500.52 563.01,501.08 563.85,501.57 564.69,502 565.52,502.37 566.36,502.69 567.19,502.97 568.03,503.21 568.86,503.41 569.7,503.59 570.53,503.74 571.37,503.87 572.2,503.98" fill="none" stroke="#2f2d7e" stroke-width="1.2"/>
<rect x="505.4" y="451.5" width="66.8" height="57.8" fill="none" stroke="#8a8a8a" stroke-width="0.9"/>
<line x1="505.4" y1="509.3" x2="505.4" y2="511.5" stroke="#666" stroke-width="0.7" />
<line x1="572.2" y1="509.3" x2="572.2" y2="511.5" stroke="#666" stroke-width="0.7" />
<line x1="503.4" y1="506.9" x2="505.4" y2="506.9" stroke="#666" stroke-width="0.7" />
<line x1="503.4" y1="494.8" x2="505.4" y2="494.8" stroke="#666" stroke-width="0.7" />
<line x1="503.4" y1="482.7" x2="505.4" y2="482.7" stroke="#666" stroke-width="0.7" />
<line x1="503.4" y1="470.6" x2="505.4" y2="470.6" stroke="#666" stroke-width="0.7" />
<line x1="503.4" y1="458.5" x2="505.4" y2="458.5" stroke="#666" stroke-width="0.7" />
<text transform="translate(509.9,515.5) rotate(-45)" font-size="6.4" text-anchor="end" fill="#333">−1.0</text>
<text transform="translate(575.2,515) rotate(-45)" font-size="6.4" text-anchor="end" fill="#333">1.0 Kb</text>
<polyline points="575.8,506.68 576.63,506.68 577.47,506.67 578.3,506.66 579.14,506.65 579.97,506.64 580.81,506.62 581.64,506.6 582.48,506.58 583.31,506.55 584.15,506.52 584.99,506.48 585.82,506.44 586.65,506.38 587.49,506.32 588.32,506.24 589.16,506.16 590,506.05 590.83,505.94 591.66,505.81 592.5,505.66 593.33,505.49 594.17,505.3 595,505.1 595.84,504.88 596.67,504.64 597.51,504.39 598.35,504.12 599.18,503.84 600.01,503.56 600.85,503.27 601.68,502.98 602.52,502.7 603.36,502.43 604.19,502.17 605.02,501.92 605.86,501.7 606.69,501.5 607.53,501.33 608.37,501.18 609.2,501.12 610.03,501.25 610.87,501.41 611.71,501.59 612.54,501.8 613.38,502.04 614.21,502.29 615.04,502.56 615.88,502.84 616.72,503.12 617.55,503.41 618.38,503.7 619.22,503.98 620.05,504.25 620.89,504.51 621.73,504.76 622.56,504.99 623.39,505.2 624.23,505.39 625.07,505.57 625.9,505.73 626.74,505.87 627.57,506 628.4,506.1 629.24,506.2 630.08,506.28 630.91,506.35 631.75,506.41 632.58,506.46 633.41,506.5 634.25,506.54 635.09,506.56 635.92,506.59 636.75,506.61 637.59,506.63 638.43,506.64 639.26,506.65 640.1,506.66 640.93,506.67 641.76,506.68 642.6,506.69" fill="none" stroke="#f2d640" stroke-width="1.2"/>
<polyline points="575.8,506.1 576.63,506.06 577.47,506.03 578.3,505.98 579.14,505.93 579.97,505.86 580.81,505.79 581.64,505.7 582.48,505.59 583.31,505.47 584.15,505.32 584.99,505.14 585.82,504.94 586.65,504.7 587.49,504.42 588.32,504.11 589.16,503.74 590,503.32 590.83,502.85 591.66,502.33 592.5,501.74 593.33,501.09 594.17,500.38 595,499.62 595.84,498.8 596.67,497.92 597.51,497.01 598.35,496.05 599.18,495.07 600.01,494.07 600.85,493.07 601.68,492.07 602.52,491.1 603.36,490.16 604.19,489.27 605.02,488.44 605.86,487.69 606.69,487.01 607.53,486.42 608.37,485.92 609.2,485.7 610.03,486.15 610.87,486.69 611.71,487.32 612.54,488.04 613.38,488.83 614.21,489.69 615.04,490.61 615.88,491.56 616.72,492.55 617.55,493.55 618.38,494.55 619.22,495.54 620.05,496.51 620.89,497.45 621.73,498.35 622.56,499.2 623.39,499.99 624.23,500.73 625.07,501.41 625.9,502.03 626.74,502.59 627.57,503.09 628.4,503.53 629.24,503.92 630.08,504.26 630.91,504.56 631.75,504.82 632.58,505.04 633.41,505.23 634.25,505.39 635.09,505.53 635.92,505.64 636.75,505.74 637.59,505.82 638.43,505.89 639.26,505.95 640.1,506 640.93,506.04 641.76,506.08 642.6,506.11" fill="none" stroke="#45c0ea" stroke-width="1.2"/>
<polyline points="575.8,503.8 576.63,503.66 577.47,503.5 578.3,503.32 579.14,503.11 579.97,502.86 580.81,502.57 581.64,502.23 582.48,501.85 583.31,501.4 584.15,500.88 584.99,500.29 585.82,499.61 586.65,498.85 587.49,497.98 588.32,497.02 589.16,495.94 590,494.74 590.83,493.43 591.66,492 592.5,490.45 593.33,488.77 594.17,486.99 595,485.1 595.84,483.12 596.67,481.05 597.51,478.92 598.35,476.73 599.18,474.52 600.01,472.31 600.85,470.11 601.68,467.95 602.52,465.86 603.36,463.86 604.19,461.97 605.02,460.22 605.86,458.61 606.69,457.18 607.53,455.91 608.37,454.84 609.2,454.35 610.03,455.33 610.87,456.5 611.71,457.84 612.54,459.36 613.38,461.04 614.21,462.86 615.04,464.81 615.88,466.85 616.72,468.98 617.55,471.16 618.38,473.37 619.22,475.58 620.05,477.78 620.89,479.94 621.73,482.05 622.56,484.08 623.39,486.02 624.23,487.86 625.07,489.59 625.9,491.2 626.74,492.7 627.57,494.08 628.4,495.33 629.24,496.47 630.08,497.49 630.91,498.41 631.75,499.23 632.58,499.95 633.41,500.58 634.25,501.14 635.09,501.62 635.92,502.04 636.75,502.4 637.59,502.71 638.43,502.98 639.26,503.21 640.1,503.41 640.93,503.58 641.76,503.73 642.6,503.85" fill="none" stroke="#2f2d7e" stroke-width="1.2"/>
<rect x="575.8" y="451.5" width="66.8" height="57.8" fill="none" stroke="#8a8a8a" stroke-width="0.9"/>
<line x1="575.8" y1="509.3" x2="575.8" y2="511.5" stroke="#666" stroke-width="0.7" />
<line x1="642.6" y1="509.3" x2="642.6" y2="511.5" stroke="#666" stroke-width="0.7" />
<line x1="573.8" y1="506.9" x2="575.8" y2="506.9" stroke="#666" stroke-width="0.7" />
<line x1="573.8" y1="494.8" x2="575.8" y2="494.8" stroke="#666" stroke-width="0.7" />
<line x1="573.8" y1="482.7" x2="575.8" y2="482.7" stroke="#666" stroke-width="0.7" />
<line x1="573.8" y1="470.6" x2="575.8" y2="470.6" stroke="#666" stroke-width="0.7" />
<line x1="573.8" y1="458.5" x2="575.8" y2="458.5" stroke="#666" stroke-width="0.7" />
<text transform="translate(580.3,515.5) rotate(-45)" font-size="6.4" text-anchor="end" fill="#333">−1.0</text>
<text transform="translate(645.6,515) rotate(-45)" font-size="6.4" text-anchor="end" fill="#333">1.0 Kb</text>
<text x="500.5" y="509.35" font-size="6.8" text-anchor="end" fill="#333">0</text>
<text x="500.5" y="497.25" font-size="6.8" text-anchor="end" fill="#333">25</text>
<text x="500.5" y="485.15" font-size="6.8" text-anchor="end" fill="#333">50</text>
<text x="500.5" y="473.05" font-size="6.8" text-anchor="end" fill="#333">75</text>
<text x="500.5" y="460.95" font-size="6.8" text-anchor="end" fill="#333">100</text>
<text x="519.8" y="447.22" font-size="8.4" text-anchor="start" fill="#333" textLength="27.5" lengthAdjust="spacingAndGlyphs">Control</text>
<text x="547.8" y="443.47" font-size="5.2" text-anchor="start" fill="#333" textLength="19" lengthAdjust="spacingAndGlyphs">IL7RaCre</text>
<text x="596.1" y="447.22" font-size="8.4" text-anchor="start" fill="#333" textLength="26.1" lengthAdjust="spacingAndGlyphs">Blimp-1</text>
<text x="622.6" y="443.47" font-size="5.2" text-anchor="start" fill="#333" textLength="19" lengthAdjust="spacingAndGlyphs">IL7RaCre</text>
<line x1="646.8" y1="457.4" x2="657.2" y2="457.4" stroke="#2f2d7e" stroke-width="1.3" />
<text x="658.8" y="459.74" font-size="6.5" text-anchor="start" fill="#333" textLength="25.7" lengthAdjust="spacingAndGlyphs">Cluster 1</text>
<line x1="646.8" y1="466.3" x2="657.2" y2="466.3" stroke="#45c0ea" stroke-width="1.3" />
<text x="658.8" y="468.64" font-size="6.5" text-anchor="start" fill="#333" textLength="25.7" lengthAdjust="spacingAndGlyphs">Cluster 2</text>
<line x1="646.8" y1="475.1" x2="657.2" y2="475.1" stroke="#f2d640" stroke-width="1.3" />
<text x="658.8" y="477.44" font-size="6.5" text-anchor="start" fill="#333" textLength="25.7" lengthAdjust="spacingAndGlyphs">Cluster 3</text>
<defs><linearGradient id="h1" x1="0.5" x2="1" spreadMethod="reflect"><stop offset="0.000" stop-color="#82b8d7"/><stop offset="0.139" stop-color="#89bcda"/><stop offset="0.278" stop-color="#8fc1dc"/><stop offset="0.335" stop-color="#9dcde2"/><stop offset="0.393" stop-color="#acd8e8"/><stop offset="0.435" stop-color="#d6edf3"/><stop offset="0.478" stop-color="#f2f8d4"/><stop offset="0.554" stop-color="#fcf1b0"/><stop offset="0.631" stop-color="#fdda8d"/><stop offset="0.708" stop-color="#fbb96f"/><stop offset="0.785" stop-color="#f79257"/><stop offset="0.893" stop-color="#ef6a44"/><stop offset="1.000" stop-color="#de4432"/></linearGradient><linearGradient id="h2" x1="0.5" x2="1" spreadMethod="reflect"><stop offset="0.000" stop-color="#87bbd9"/><stop offset="0.141" stop-color="#8dc0db"/><stop offset="0.281" stop-color="#93c5de"/><stop offset="0.344" stop-color="#a0cee3"/><stop offset="0.406" stop-color="#acd8e8"/><stop offset="0.450" stop-color="#d6edf3"/><stop offset="0.495" stop-color="#f2f8d4"/><stop offset="0.573" stop-color="#fcf1b0"/><stop offset="0.651" stop-color="#fdda8d"/><stop offset="0.730" stop-color="#fbb96f"/><stop offset="0.809" stop-color="#f79257"/><stop offset="0.905" stop-color="#f06e46"/><stop offset="1.000" stop-color="#e24c36"/></linearGradient><linearGradient id="h3" x1="0.5" x2="1" spreadMethod="reflect"><stop offset="0.000" stop-color="#7bb2d4"/><stop offset="0.125" stop-color="#81b6d6"/><stop offset="0.250" stop-color="#87bbd9"/><stop offset="0.310" stop-color="#9acae0"/><stop offset="0.370" stop-color="#acd8e8"/><stop offset="0.411" stop-color="#d6edf3"/><stop offset="0.451" stop-color="#f2f8d4"/><stop offset="0.521" stop-color="#fcf1b0"/><stop offset="0.591" stop-color="#fdda8d"/><stop offset="0.663" stop-color="#fbb96f"/><stop offset="0.735" stop-color="#f79257"/><stop offset="0.831" stop-color="#ef6944"/><stop offset="0.927" stop-color="#dd4231"/><stop offset="0.964" stop-color="#d93a2e"/><stop offset="1.000" stop-color="#d6322a"/></linearGradient><linearGradient id="h4" x1="0.5" x2="1" spreadMethod="reflect"><stop offset="0.000" stop-color="#81b7d7"/><stop offset="0.128" stop-color="#88bcd9"/><stop offset="0.255" stop-color="#8ec1dc"/><stop offset="0.321" stop-color="#9dcce2"/><stop offset="0.387" stop-color="#acd8e8"/><stop offset="0.431" stop-color="#d6edf3"/><stop offset="0.474" stop-color="#f2f8d4"/><stop offset="0.546" stop-color="#fcf1b0"/><stop offset="0.617" stop-color="#fdda8d"/><stop offset="0.692" stop-color="#fbb96f"/><stop offset="0.768" stop-color="#f79257"/><stop offset="0.864" stop-color="#ef6944"/><stop offset="0.961" stop-color="#dd4231"/><stop offset="0.980" stop-color="#db3e2f"/><stop offset="1.000" stop-color="#d9392d"/></linearGradient><linearGradient id="h5" x1="0.5" x2="1" spreadMethod="reflect"><stop offset="0.000" stop-color="#88bcd9"/><stop offset="0.115" stop-color="#8ec1dc"/><stop offset="0.229" stop-color="#95c6de"/><stop offset="0.294" stop-color="#a0cfe3"/><stop offset="0.358" stop-color="#acd8e8"/><stop offset="0.399" stop-color="#d6edf3"/><stop offset="0.439" stop-color="#f2f8d4"/><stop offset="0.504" stop-color="#fcf1b0"/><stop offset="0.569" stop-color="#fdda8d"/><stop offset="0.638" stop-color="#fbb96f"/><stop offset="0.707" stop-color="#f79257"/><stop offset="0.792" stop-color="#ef6944"/><stop offset="0.877" stop-color="#dd4231"/><stop offset="0.938" stop-color="#d6332a"/><stop offset="1.000" stop-color="#cc2a2b"/></linearGradient><linearGradient id="h6" x1="0.5" x2="1" spreadMethod="reflect"><stop offset="0.000" stop-color="#82b7d7"/><stop offset="0.099" stop-color="#88bcd9"/><stop offset="0.199" stop-color="#8ec1dc"/><stop offset="0.259" stop-color="#9dcce2"/><stop offset="0.320" stop-color="#acd8e8"/><stop offset="0.357" stop-color="#d6edf3"/><stop offset="0.394" stop-color="#f2f8d4"/><stop offset="0.450" stop-color="#fcf1b0"/><stop offset="0.507" stop-color="#fdda8d"/><stop offset="0.569" stop-color="#fbb96f"/><stop offset="0.630" stop-color="#f79257"/><stop offset="0.702" stop-color="#ef6944"/><stop offset="0.773" stop-color="#dd4231"/><stop offset="0.864" stop-color="#d02c2a"/><stop offset="0.954" stop-color="#bc1f2e"/><stop offset="0.977" stop-color="#bb1e2e"/><stop offset="1.000" stop-color="#b91d2e"/></linearGradient><linearGradient id="h7" x1="0.5" x2="1" spreadMethod="reflect"><stop offset="0.000" stop-color="#8abdda"/><stop offset="0.100" stop-color="#90c2dc"/><stop offset="0.200" stop-color="#96c7df"/><stop offset="0.267" stop-color="#a1cfe3"/><stop offset="0.334" stop-color="#acd8e8"/><stop offset="0.373" stop-color="#d6edf3"/><stop offset="0.412" stop-color="#f2f8d4"/><stop offset="0.470" stop-color="#fcf1b0"/><stop offset="0.528" stop-color="#fdda8d"/><stop offset="0.592" stop-color="#fbb96f"/><stop offset="0.656" stop-color="#f79257"/><stop offset="0.726" stop-color="#ef6944"/><stop offset="0.796" stop-color="#dd4231"/><stop offset="0.887" stop-color="#d02c2a"/><stop offset="0.979" stop-color="#bc1f2e"/><stop offset="1.000" stop-color="#bb1e2e"/></linearGradient><linearGradient id="h8" x1="0.5" x2="1" spreadMethod="reflect"><stop offset="0.000" stop-color="#82b7d7"/><stop offset="0.095" stop-color="#88bcd9"/><stop offset="0.190" stop-color="#8ec1dc"/><stop offset="0.260" stop-color="#9dcce2"/><stop offset="0.330" stop-color="#acd8e8"/><stop offset="0.369" stop-color="#d6edf3"/><stop offset="0.408" stop-color="#f2f8d4"/><stop offset="0.463" stop-color="#fcf1b0"/><stop offset="0.519" stop-color="#fdda8d"/><stop offset="0.581" stop-color="#fbb96f"/><stop offset="0.644" stop-color="#f79257"/><stop offset="0.708" stop-color="#ef6944"/><stop offset="0.772" stop-color="#dd4231"/><stop offset="0.859" stop-color="#d02c2a"/><stop offset="0.946" stop-color="#bc1f2e"/><stop offset="0.973" stop-color="#ba1e2e"/><stop offset="1.000" stop-color="#b91d2e"/></linearGradient><linearGradient id="h9" x1="0.5" x2="1" spreadMethod="reflect"><stop offset="0.000" stop-color="#85bad8"/><stop offset="0.081" stop-color="#8cbfdb"/><stop offset="0.162" stop-color="#92c3dd"/><stop offset="0.222" stop-color="#9fcee3"/><stop offset="0.283" stop-color="#acd8e8"/><stop offset="0.317" stop-color="#d6edf3"/><stop offset="0.350" stop-color="#f2f8d4"/><stop offset="0.397" stop-color="#fcf1b0"/><stop offset="0.445" stop-color="#fdda8d"/><stop offset="0.499" stop-color="#fbb96f"/><stop offset="0.554" stop-color="#f79257"/><stop offset="0.608" stop-color="#ef6944"/><stop offset="0.663" stop-color="#dd4231"/><stop offset="0.739" stop-color="#d02c2a"/><stop offset="0.815" stop-color="#bc1f2e"/><stop offset="0.908" stop-color="#b61b2f"/><stop offset="1.000" stop-color="#b01730"/></linearGradient><linearGradient id="h10" x1="0.5" x2="1" spreadMethod="reflect"><stop offset="0.000" stop-color="#6ca2cc"/><stop offset="0.082" stop-color="#72a9cf"/><stop offset="0.165" stop-color="#78afd3"/><stop offset="0.227" stop-color="#92c4dd"/><stop offset="0.288" stop-color="#acd8e8"/><stop offset="0.322" stop-color="#d6edf3"/><stop offset="0.355" stop-color="#f2f8d4"/><stop offset="0.404" stop-color="#fcf1b0"/><stop offset="0.452" stop-color="#fdda8d"/><stop offset="0.509" stop-color="#fbb96f"/><stop offset="0.565" stop-color="#f79257"/><stop offset="0.622" stop-color="#ef6944"/><stop offset="0.678" stop-color="#dd4231"/><stop offset="0.758" stop-color="#d02c2a"/><stop offset="0.839" stop-color="#bc1f2e"/><stop offset="0.919" stop-color="#b71b2f"/><stop offset="1.000" stop-color="#b21830"/></linearGradient><linearGradient id="h11" x1="0.5" x2="1" spreadMethod="reflect"><stop offset="0.000" stop-color="#6da3cc"/><stop offset="0.074" stop-color="#72aad0"/><stop offset="0.148" stop-color="#79b0d3"/><stop offset="0.203" stop-color="#92c4de"/><stop offset="0.258" stop-color="#acd8e8"/><stop offset="0.287" stop-color="#d6edf3"/><stop offset="0.317" stop-color="#f2f8d4"/><stop offset="0.360" stop-color="#fcf1b0"/><stop offset="0.404" stop-color="#fdda8d"/><stop offset="0.455" stop-color="#fbb96f"/><stop offset="0.507" stop-color="#f79257"/><stop offset="0.558" stop-color="#ef6944"/><stop offset="0.610" stop-color="#dd4231"/><stop offset="0.685" stop-color="#d02c2a"/><stop offset="0.760" stop-color="#bc1f2e"/><stop offset="0.880" stop-color="#b41a2f"/><stop offset="0.999" stop-color="#ad1431"/><stop offset="1.000" stop-color="#ad1431"/></linearGradient><linearGradient id="h12" x1="0.5" x2="1" spreadMethod="reflect"><stop offset="0.000" stop-color="#73aad0"/><stop offset="0.059" stop-color="#79b0d3"/><stop offset="0.118" stop-color="#7fb5d6"/><stop offset="0.162" stop-color="#96c7df"/><stop offset="0.206" stop-color="#acd8e8"/><stop offset="0.229" stop-color="#d6edf3"/><stop offset="0.252" stop-color="#f2f8d4"/><stop offset="0.287" stop-color="#fcf1b0"/><stop offset="0.322" stop-color="#fdda8d"/><stop offset="0.364" stop-color="#fbb96f"/><stop offset="0.406" stop-color="#f79257"/><stop offset="0.448" stop-color="#ef6944"/><stop offset="0.490" stop-color="#dd4231"/><stop offset="0.553" stop-color="#d02c2a"/><stop offset="0.616" stop-color="#bc1f2e"/><stop offset="0.736" stop-color="#b41a2f"/><stop offset="0.856" stop-color="#ad1431"/><stop offset="0.928" stop-color="#ad1431"/><stop offset="1.000" stop-color="#ad1431"/></linearGradient><linearGradient id="h13" x1="0.5" x2="1" spreadMethod="reflect"><stop offset="0.000" stop-color="#77aed2"/><stop offset="0.056" stop-color="#7db3d5"/><stop offset="0.112" stop-color="#83b8d7"/><stop offset="0.154" stop-color="#98c8e0"/><stop offset="0.196" stop-color="#acd8e8"/><stop offset="0.217" stop-color="#d6edf3"/><stop offset="0.239" stop-color="#f2f8d4"/><stop offset="0.272" stop-color="#fcf1b0"/><stop offset="0.306" stop-color="#fdda8d"/><stop offset="0.347" stop-color="#fbb96f"/><stop offset="0.388" stop-color="#f79257"/><stop offset="0.429" stop-color="#ef6944"/><stop offset="0.470" stop-color="#dd4231"/><stop offset="0.533" stop-color="#d02c2a"/><stop offset="0.597" stop-color="#bc1f2e"/><stop offset="0.717" stop-color="#b41a2f"/><stop offset="0.836" stop-color="#ad1431"/><stop offset="0.918" stop-color="#ad1431"/><stop offset="1.000" stop-color="#ad1431"/></linearGradient><linearGradient id="h14" x1="0.5" x2="1" spreadMethod="reflect"><stop offset="0.000" stop-color="#6094c5"/><stop offset="0.053" stop-color="#669bc8"/><stop offset="0.105" stop-color="#6ca2cc"/><stop offset="0.144" stop-color="#8bbfdb"/><stop offset="0.182" stop-color="#acd8e8"/><stop offset="0.201" stop-color="#d6edf3"/><stop offset="0.221" stop-color="#f2f8d4"/><stop offset="0.252" stop-color="#fcf1b0"/><stop offset="0.284" stop-color="#fdda8d"/><stop offset="0.323" stop-color="#fbb96f"/><stop offset="0.363" stop-color="#f79257"/><stop offset="0.402" stop-color="#ef6944"/><stop offset="0.442" stop-color="#dd4231"/><stop offset="0.505" stop-color="#d02c2a"/><stop offset="0.568" stop-color="#bc1f2e"/><stop offset="0.688" stop-color="#b41a2f"/><stop offset="0.808" stop-color="#ad1431"/><stop offset="0.904" stop-color="#ad1431"/><stop offset="1.000" stop-color="#ad1431"/></linearGradient><linearGradient id="h15" x1="0.5" x2="1" spreadMethod="reflect"><stop offset="0.000" stop-color="#3c5ea8"/><stop offset="0.041" stop-color="#4066ac"/><stop offset="0.082" stop-color="#436eb1"/><stop offset="0.111" stop-color="#73abd0"/><stop offset="0.140" stop-color="#acd8e8"/><stop offset="0.168" stop-color="#f2f8d4"/><stop offset="0.192" stop-color="#fcf1b0"/><stop offset="0.217" stop-color="#fdda8d"/><stop offset="0.248" stop-color="#fbb96f"/><stop offset="0.280" stop-color="#f79257"/><stop offset="0.312" stop-color="#ef6944"/><stop offset="0.343" stop-color="#dd4231"/><stop offset="0.396" stop-color="#d02c2a"/><stop offset="0.449" stop-color="#bc1f2e"/><stop offset="0.569" stop-color="#b41a2f"/><stop offset="0.689" stop-color="#ad1431"/><stop offset="0.844" stop-color="#ad1431"/><stop offset="1.000" stop-color="#ad1431"/></linearGradient><linearGradient id="h16" x1="0.5" x2="1" spreadMethod="reflect"><stop offset="0.000" stop-color="#304197"/><stop offset="0.037" stop-color="#344a9c"/><stop offset="0.073" stop-color="#3752a1"/><stop offset="0.098" stop-color="#679cc9"/><stop offset="0.123" stop-color="#acd8e8"/><stop offset="0.147" stop-color="#f2f8d4"/><stop offset="0.169" stop-color="#fcf1b0"/><stop offset="0.191" stop-color="#fdda8d"/><stop offset="0.220" stop-color="#fbb96f"/><stop offset="0.249" stop-color="#f79257"/><stop offset="0.278" stop-color="#ef6944"/><stop offset="0.307" stop-color="#dd4231"/><stop offset="0.357" stop-color="#d02c2a"/><stop offset="0.407" stop-color="#bc1f2e"/><stop offset="0.527" stop-color="#b41a2f"/><stop offset="0.647" stop-color="#ad1431"/><stop offset="0.824" stop-color="#ad1431"/><stop offset="1.000" stop-color="#ad1431"/></linearGradient><linearGradient id="h17" x1="0.5" x2="1" spreadMethod="reflect"><stop offset="0.000" stop-color="#fbb067"/><stop offset="0.135" stop-color="#fcc57a"/><stop offset="0.269" stop-color="#fdda8d"/><stop offset="0.359" stop-color="#fde399"/><stop offset="0.449" stop-color="#fdeaa5"/><stop offset="0.554" stop-color="#fde399"/><stop offset="0.659" stop-color="#fdda8d"/><stop offset="0.719" stop-color="#fcbd72"/><stop offset="0.778" stop-color="#f89d5c"/><stop offset="0.889" stop-color="#f37e4d"/><stop offset="1.000" stop-color="#ea5f3f"/></linearGradient><linearGradient id="h18" x1="0.5" x2="1" spreadMethod="reflect"><stop offset="0.000" stop-color="#fde9a3"/><stop offset="0.193" stop-color="#fde7a0"/><stop offset="0.386" stop-color="#fde59d"/><stop offset="0.451" stop-color="#fdd689"/><stop offset="0.515" stop-color="#fcc176"/><stop offset="0.605" stop-color="#f89d5c"/><stop offset="0.694" stop-color="#f17348"/><stop offset="0.778" stop-color="#e85a3d"/><stop offset="0.862" stop-color="#dd4231"/><stop offset="0.931" stop-color="#d8362c"/><stop offset="1.000" stop-color="#d12d2a"/></linearGradient><linearGradient id="h19" x1="0.5" x2="1" spreadMethod="reflect"><stop offset="0.000" stop-color="#fdeba6"/><stop offset="0.158" stop-color="#fde9a2"/><stop offset="0.317" stop-color="#fde79f"/><stop offset="0.384" stop-color="#fdd78b"/><stop offset="0.451" stop-color="#fcc176"/><stop offset="0.539" stop-color="#f89d5c"/><stop offset="0.626" stop-color="#f17348"/><stop offset="0.706" stop-color="#e85a3d"/><stop offset="0.785" stop-color="#dd4231"/><stop offset="0.877" stop-color="#d53029"/><stop offset="0.969" stop-color="#c8272b"/><stop offset="0.984" stop-color="#c7262c"/><stop offset="1.000" stop-color="#c6252c"/></linearGradient><linearGradient id="h20" x1="0.5" x2="1" spreadMethod="reflect"><stop offset="0.000" stop-color="#fde8a2"/><stop offset="0.124" stop-color="#fde79e"/><stop offset="0.247" stop-color="#fde59b"/><stop offset="0.316" stop-color="#fdd589"/><stop offset="0.385" stop-color="#fcc176"/><stop offset="0.471" stop-color="#f89d5c"/><stop offset="0.557" stop-color="#f17348"/><stop offset="0.631" stop-color="#e85a3d"/><stop offset="0.705" stop-color="#dd4231"/><stop offset="0.785" stop-color="#d53029"/><stop offset="0.864" stop-color="#c8272b"/><stop offset="0.932" stop-color="#c2232c"/><stop offset="1.000" stop-color="#bd1f2e"/></linearGradient><linearGradient id="h21" x1="0.5" x2="1" spreadMethod="reflect"><stop offset="0.000" stop-color="#fdeda9"/><stop offset="0.108" stop-color="#fdeba6"/><stop offset="0.216" stop-color="#fde9a3"/><stop offset="0.295" stop-color="#fdd98d"/><stop offset="0.373" stop-color="#fcc176"/><stop offset="0.467" stop-color="#f89d5c"/><stop offset="0.560" stop-color="#f17348"/><stop offset="0.638" stop-color="#e85a3d"/><stop offset="0.716" stop-color="#dd4231"/><stop offset="0.794" stop-color="#d53029"/><stop offset="0.872" stop-color="#c8272b"/><stop offset="0.936" stop-color="#c3242c"/><stop offset="1.000" stop-color="#be202d"/></linearGradient><linearGradient id="h22" x1="0.5" x2="1" spreadMethod="reflect"><stop offset="0.000" stop-color="#fcf0af"/><stop offset="0.098" stop-color="#fceeac"/><stop offset="0.196" stop-color="#fdeca8"/><stop offset="0.274" stop-color="#fddc8f"/><stop offset="0.351" stop-color="#fcc176"/><stop offset="0.440" stop-color="#f89d5c"/><stop offset="0.529" stop-color="#f17348"/><stop offset="0.603" stop-color="#e85a3d"/><stop offset="0.678" stop-color="#dd4231"/><stop offset="0.753" stop-color="#d53029"/><stop offset="0.827" stop-color="#c8272b"/><stop offset="0.914" stop-color="#c1222d"/><stop offset="1.000" stop-color="#ba1d2e"/></linearGradient><linearGradient id="h23" x1="0.5" x2="1" spreadMethod="reflect"><stop offset="0.000" stop-color="#fcfcc2"/><stop offset="0.091" stop-color="#fcfabe"/><stop offset="0.183" stop-color="#fcf7ba"/><stop offset="0.263" stop-color="#fde398"/><stop offset="0.342" stop-color="#fcc176"/><stop offset="0.429" stop-color="#f89d5c"/><stop offset="0.516" stop-color="#f17348"/><stop offset="0.590" stop-color="#e85a3d"/><stop offset="0.664" stop-color="#dd4231"/><stop offset="0.738" stop-color="#d53029"/><stop offset="0.812" stop-color="#c8272b"/><stop offset="0.906" stop-color="#c0222d"/><stop offset="1.000" stop-color="#b91d2e"/></linearGradient><linearGradient id="h24" x1="0.5" x2="1" spreadMethod="reflect"><stop offset="0.000" stop-color="#fafbc6"/><stop offset="0.080" stop-color="#fcfcc2"/><stop offset="0.160" stop-color="#fcfabe"/><stop offset="0.238" stop-color="#fde49a"/><stop offset="0.315" stop-color="#fcc176"/><stop offset="0.396" stop-color="#f89d5c"/><stop offset="0.477" stop-color="#f17348"/><stop offset="0.546" stop-color="#e85a3d"/><stop offset="0.616" stop-color="#dd4231"/><stop offset="0.685" stop-color="#d53029"/><stop offset="0.754" stop-color="#c8272b"/><stop offset="0.870" stop-color="#be202d"/><stop offset="0.986" stop-color="#b41a2f"/><stop offset="1.000" stop-color="#b4192f"/></linearGradient><linearGradient id="h25" x1="0.5" x2="1" spreadMethod="reflect"><stop offset="0.000" stop-color="#f6facc"/><stop offset="0.070" stop-color="#f9fbc8"/><stop offset="0.139" stop-color="#fbfcc4"/><stop offset="0.215" stop-color="#fde69d"/><stop offset="0.291" stop-color="#fcc176"/><stop offset="0.366" stop-color="#f89d5c"/><stop offset="0.441" stop-color="#f17348"/><stop offset="0.507" stop-color="#e85a3d"/><stop offset="0.572" stop-color="#dd4231"/><stop offset="0.637" stop-color="#d53029"/><stop offset="0.703" stop-color="#c8272b"/><stop offset="0.813" stop-color="#be202d"/><stop offset="0.924" stop-color="#b41a2f"/><stop offset="0.962" stop-color="#b3192f"/><stop offset="1.000" stop-color="#b21830"/></linearGradient><linearGradient id="h26" x1="0.5" x2="1" spreadMethod="reflect"><stop offset="0.000" stop-color="#f6facd"/><stop offset="0.057" stop-color="#f8fac9"/><stop offset="0.114" stop-color="#fafbc5"/><stop offset="0.185" stop-color="#fde69e"/><stop offset="0.256" stop-color="#fcc176"/><stop offset="0.323" stop-color="#f89d5c"/><stop offset="0.390" stop-color="#f17348"/><stop offset="0.449" stop-color="#e85a3d"/><stop offset="0.508" stop-color="#dd4231"/><stop offset="0.567" stop-color="#d53029"/><stop offset="0.626" stop-color="#c8272b"/><stop offset="0.727" stop-color="#be202d"/><stop offset="0.829" stop-color="#b41a2f"/><stop offset="0.914" stop-color="#b11730"/><stop offset="1.000" stop-color="#ae1530"/></linearGradient><linearGradient id="h27" x1="0.5" x2="1" spreadMethod="reflect"><stop offset="0.000" stop-color="#f5face"/><stop offset="0.055" stop-color="#f8faca"/><stop offset="0.109" stop-color="#fafbc6"/><stop offset="0.133" stop-color="#fcfbc1"/><stop offset="0.156" stop-color="#fcf8bc"/><stop offset="0.211" stop-color="#fde399"/><stop offset="0.266" stop-color="#fcc176"/><stop offset="0.336" stop-color="#f89d5c"/><stop offset="0.406" stop-color="#f17348"/><stop offset="0.469" stop-color="#e85a3d"/><stop offset="0.531" stop-color="#dd4231"/><stop offset="0.594" stop-color="#d53029"/><stop offset="0.656" stop-color="#c8272b"/><stop offset="0.766" stop-color="#be202d"/><stop offset="0.875" stop-color="#b41a2f"/><stop offset="0.938" stop-color="#b21830"/><stop offset="1.000" stop-color="#b01630"/></linearGradient><linearGradient id="h28" x1="0.5" x2="1" spreadMethod="reflect"><stop offset="0.000" stop-color="#eef7da"/><stop offset="0.053" stop-color="#f1f8d6"/><stop offset="0.107" stop-color="#f3f9d2"/><stop offset="0.131" stop-color="#f9fbc7"/><stop offset="0.155" stop-color="#fcf8bc"/><stop offset="0.206" stop-color="#fde399"/><stop offset="0.257" stop-color="#fcc176"/><stop offset="0.323" stop-color="#f89d5c"/><stop offset="0.388" stop-color="#f17348"/><stop offset="0.452" stop-color="#e85a3d"/><stop offset="0.515" stop-color="#dd4231"/><stop offset="0.578" stop-color="#d53029"/><stop offset="0.642" stop-color="#c8272b"/><stop offset="0.749" stop-color="#be202d"/><stop offset="0.856" stop-color="#b41a2f"/><stop offset="0.928" stop-color="#b21830"/><stop offset="1.000" stop-color="#af1630"/></linearGradient><linearGradient id="h29" x1="0.5" x2="1" spreadMethod="reflect"><stop offset="0.000" stop-color="#f6facd"/><stop offset="0.048" stop-color="#f8fac9"/><stop offset="0.096" stop-color="#fafbc5"/><stop offset="0.118" stop-color="#fcfbc0"/><stop offset="0.140" stop-color="#fcf8bc"/><stop offset="0.185" stop-color="#fde399"/><stop offset="0.229" stop-color="#fcc176"/><stop offset="0.285" stop-color="#f89d5c"/><stop offset="0.340" stop-color="#f17348"/><stop offset="0.399" stop-color="#e85a3d"/><stop offset="0.459" stop-color="#dd4231"/><stop offset="0.518" stop-color="#d53029"/><stop offset="0.577" stop-color="#c8272b"/><stop offset="0.673" stop-color="#be202d"/><stop offset="0.769" stop-color="#b41a2f"/><stop offset="0.885" stop-color="#b01730"/><stop offset="1.000" stop-color="#ac1331"/></linearGradient><linearGradient id="h30" x1="0.5" x2="1" spreadMethod="reflect"><stop offset="0.000" stop-color="#f7facc"/><stop offset="0.047" stop-color="#f9fbc8"/><stop offset="0.093" stop-color="#fbfcc4"/><stop offset="0.115" stop-color="#fcfbc0"/><stop offset="0.138" stop-color="#fcf8bc"/><stop offset="0.179" stop-color="#fde399"/><stop offset="0.220" stop-color="#fcc176"/><stop offset="0.270" stop-color="#f89d5c"/><stop offset="0.321" stop-color="#f17348"/><stop offset="0.380" stop-color="#e85a3d"/><stop offset="0.440" stop-color="#dd4231"/><stop offset="0.499" stop-color="#d53029"/><stop offset="0.559" stop-color="#c8272b"/><stop offset="0.652" stop-color="#be202d"/><stop offset="0.745" stop-color="#b41a2f"/><stop offset="0.865" stop-color="#b01630"/><stop offset="0.984" stop-color="#ab1331"/><stop offset="1.000" stop-color="#ab1331"/></linearGradient><linearGradient id="h31" x1="0.5" x2="1" spreadMethod="reflect"><stop offset="0.000" stop-color="#f8faca"/><stop offset="0.048" stop-color="#fafbc6"/><stop offset="0.096" stop-color="#fcfcc2"/><stop offset="0.120" stop-color="#fcfabf"/><stop offset="0.144" stop-color="#fcf8bc"/><stop offset="0.185" stop-color="#fde399"/><stop offset="0.225" stop-color="#fcc176"/><stop offset="0.274" stop-color="#f89d5c"/><stop offset="0.322" stop-color="#f17348"/><stop offset="0.386" stop-color="#e85a3d"/><stop offset="0.450" stop-color="#dd4231"/><stop offset="0.514" stop-color="#d53029"/><stop offset="0.578" stop-color="#c8272b"/><stop offset="0.675" stop-color="#be202d"/><stop offset="0.771" stop-color="#b41a2f"/><stop offset="0.885" stop-color="#b01730"/><stop offset="1.000" stop-color="#ac1431"/></linearGradient><linearGradient id="h32" x1="0.5" x2="1" spreadMethod="reflect"><stop offset="0.000" stop-color="#fbfcc3"/><stop offset="0.041" stop-color="#fcfbc0"/><stop offset="0.083" stop-color="#fcf8bc"/><stop offset="0.103" stop-color="#fcf8bc"/><stop offset="0.123" stop-color="#fcf8bc"/><stop offset="0.158" stop-color="#fde399"/><stop offset="0.192" stop-color="#fcc176"/><stop offset="0.233" stop-color="#f89d5c"/><stop offset="0.275" stop-color="#f17348"/><stop offset="0.329" stop-color="#e85a3d"/><stop offset="0.384" stop-color="#dd4231"/><stop offset="0.439" stop-color="#d53029"/><stop offset="0.493" stop-color="#c8272b"/><stop offset="0.575" stop-color="#be202d"/><stop offset="0.656" stop-color="#b41a2f"/><stop offset="0.776" stop-color="#b01630"/><stop offset="0.896" stop-color="#ab1331"/><stop offset="0.948" stop-color="#ab1331"/><stop offset="1.000" stop-color="#ab1331"/></linearGradient><linearGradient id="h33" x1="0.5" x2="1" spreadMethod="reflect"><stop offset="0.000" stop-color="#f0f8d6"/><stop offset="0.045" stop-color="#f3f9d2"/><stop offset="0.090" stop-color="#f5f9ce"/><stop offset="0.111" stop-color="#fafbc5"/><stop offset="0.133" stop-color="#fcf8bc"/><stop offset="0.170" stop-color="#fde399"/><stop offset="0.207" stop-color="#fcc176"/><stop offset="0.252" stop-color="#f89d5c"/><stop offset="0.297" stop-color="#f17348"/><stop offset="0.356" stop-color="#e85a3d"/><stop offset="0.415" stop-color="#dd4231"/><stop offset="0.474" stop-color="#d53029"/><stop offset="0.532" stop-color="#c8272b"/><stop offset="0.619" stop-color="#be202d"/><stop offset="0.706" stop-color="#b41a2f"/><stop offset="0.826" stop-color="#b01630"/><stop offset="0.946" stop-color="#ab1331"/><stop offset="0.973" stop-color="#ab1331"/><stop offset="1.000" stop-color="#ab1331"/></linearGradient><linearGradient id="h34" x1="0.5" x2="1" spreadMethod="reflect"><stop offset="0.000" stop-color="#f6facc"/><stop offset="0.043" stop-color="#f9fbc8"/><stop offset="0.086" stop-color="#fbfcc4"/><stop offset="0.106" stop-color="#fcfbc0"/><stop offset="0.126" stop-color="#fcf8bc"/><stop offset="0.161" stop-color="#fde399"/><stop offset="0.197" stop-color="#fcc176"/><stop offset="0.240" stop-color="#f89d5c"/><stop offset="0.282" stop-color="#f17348"/><stop offset="0.338" stop-color="#e85a3d"/><stop offset="0.394" stop-color="#dd4231"/><stop offset="0.449" stop-color="#d53029"/><stop offset="0.505" stop-color="#c8272b"/><stop offset="0.586" stop-color="#be202d"/><stop offset="0.667" stop-color="#b41a2f"/><stop offset="0.787" stop-color="#b01630"/><stop offset="0.907" stop-color="#ab1331"/><stop offset="0.953" stop-color="#ab1331"/><stop offset="1.000" stop-color="#ab1331"/></linearGradient><linearGradient id="h35" x1="0.5" x2="1" spreadMethod="reflect"><stop offset="0.000" stop-color="#f3f9d1"/><stop offset="0.042" stop-color="#f6facd"/><stop offset="0.085" stop-color="#f8fac9"/><stop offset="0.104" stop-color="#fcfcc2"/><stop offset="0.124" stop-color="#fcf8bc"/><stop offset="0.159" stop-color="#fde399"/><stop offset="0.194" stop-color="#fcc176"/><stop offset="0.236" stop-color="#f89d5c"/><stop offset="0.279" stop-color="#f17348"/><stop offset="0.333" stop-color="#e85a3d"/><stop offset="0.388" stop-color="#dd4231"/><stop offset="0.442" stop-color="#d53029"/><stop offset="0.497" stop-color="#c8272b"/><stop offset="0.576" stop-color="#be202d"/><stop offset="0.655" stop-color="#b41a2f"/><stop offset="0.775" stop-color="#b01630"/><stop offset="0.895" stop-color="#ab1331"/><stop offset="0.947" stop-color="#ab1331"/><stop offset="1.000" stop-color="#ab1331"/></linearGradient><linearGradient id="h36" x1="0.5" x2="1" spreadMethod="reflect"><stop offset="0.000" stop-color="#f5f9ce"/><stop offset="0.040" stop-color="#f7faca"/><stop offset="0.079" stop-color="#fafbc6"/><stop offset="0.098" stop-color="#fcfbc1"/><stop offset="0.116" stop-color="#fcf8bc"/><stop offset="0.148" stop-color="#fde399"/><stop offset="0.181" stop-color="#fcc176"/><stop offset="0.221" stop-color="#f89d5c"/><stop offset="0.260" stop-color="#f17348"/><stop offset="0.311" stop-color="#e85a3d"/><stop offset="0.362" stop-color="#dd4231"/><stop offset="0.412" stop-color="#d53029"/><stop offset="0.463" stop-color="#c8272b"/><stop offset="0.536" stop-color="#be202d"/><stop offset="0.608" stop-color="#b41a2f"/><stop offset="0.728" stop-color="#b01630"/><stop offset="0.848" stop-color="#ab1331"/><stop offset="0.924" stop-color="#ab1331"/><stop offset="1.000" stop-color="#ab1331"/></linearGradient><linearGradient id="h37" x1="0.5" x2="1" spreadMethod="reflect"><stop offset="0.000" stop-color="#f5f9ce"/><stop offset="0.041" stop-color="#f7faca"/><stop offset="0.082" stop-color="#f9fbc6"/><stop offset="0.100" stop-color="#fcfbc1"/><stop offset="0.119" stop-color="#fcf8bc"/><stop offset="0.152" stop-color="#fde399"/><stop offset="0.185" stop-color="#fcc176"/><stop offset="0.226" stop-color="#f89d5c"/><stop offset="0.267" stop-color="#f17348"/><stop offset="0.319" stop-color="#e85a3d"/><stop offset="0.371" stop-color="#dd4231"/><stop offset="0.422" stop-color="#d53029"/><stop offset="0.474" stop-color="#c8272b"/><stop offset="0.547" stop-color="#be202d"/><stop offset="0.621" stop-color="#b41a2f"/><stop offset="0.740" stop-color="#b01630"/><stop offset="0.860" stop-color="#ab1331"/><stop offset="0.930" stop-color="#ab1331"/><stop offset="1.000" stop-color="#ab1331"/></linearGradient><linearGradient id="h38" x1="0.5" x2="1" spreadMethod="reflect"><stop offset="0.000" stop-color="#fafbc5"/><stop offset="0.038" stop-color="#fcfbc1"/><stop offset="0.076" stop-color="#fcf9be"/><stop offset="0.093" stop-color="#fcf9bd"/><stop offset="0.110" stop-color="#fcf8bc"/><stop offset="0.141" stop-color="#fde399"/><stop offset="0.171" stop-color="#fcc176"/><stop offset="0.210" stop-color="#f89d5c"/><stop offset="0.248" stop-color="#f17348"/><stop offset="0.295" stop-color="#e85a3d"/><stop offset="0.343" stop-color="#dd4231"/><stop offset="0.391" stop-color="#d53029"/><stop offset="0.438" stop-color="#c8272b"/><stop offset="0.505" stop-color="#be202d"/><stop offset="0.572" stop-color="#b41a2f"/><stop offset="0.691" stop-color="#b01630"/><stop offset="0.811" stop-color="#ab1331"/><stop offset="0.906" stop-color="#ab1331"/><stop offset="1.000" stop-color="#ab1331"/></linearGradient><linearGradient id="h39" x1="0.5" x2="1" spreadMethod="reflect"><stop offset="0.000" stop-color="#f1f8d5"/><stop offset="0.038" stop-color="#f4f9d1"/><stop offset="0.077" stop-color="#f6facd"/><stop offset="0.093" stop-color="#fbfcc4"/><stop offset="0.109" stop-color="#fcf8bc"/><stop offset="0.140" stop-color="#fde399"/><stop offset="0.171" stop-color="#fcc176"/><stop offset="0.210" stop-color="#f89d5c"/><stop offset="0.248" stop-color="#f17348"/><stop offset="0.295" stop-color="#e85a3d"/><stop offset="0.343" stop-color="#dd4231"/><stop offset="0.390" stop-color="#d53029"/><stop offset="0.438" stop-color="#c8272b"/><stop offset="0.503" stop-color="#be202d"/><stop offset="0.569" stop-color="#b41a2f"/><stop offset="0.688" stop-color="#b01630"/><stop offset="0.808" stop-color="#ab1331"/><stop offset="0.904" stop-color="#ab1331"/><stop offset="1.000" stop-color="#ab1331"/></linearGradient><linearGradient id="h40" x1="0.5" x2="1" spreadMethod="reflect"><stop offset="0.000" stop-color="#f5f9ce"/><stop offset="0.038" stop-color="#f7faca"/><stop offset="0.075" stop-color="#fafbc6"/><stop offset="0.091" stop-color="#fcfbc1"/><stop offset="0.107" stop-color="#fcf8bc"/><stop offset="0.137" stop-color="#fde399"/><stop offset="0.167" stop-color="#fcc176"/><stop offset="0.205" stop-color="#f89d5c"/><stop offset="0.242" stop-color="#f17348"/><stop offset="0.288" stop-color="#e85a3d"/><stop offset="0.334" stop-color="#dd4231"/><stop offset="0.380" stop-color="#d53029"/><stop offset="0.426" stop-color="#c8272b"/><stop offset="0.489" stop-color="#be202d"/><stop offset="0.551" stop-color="#b41a2f"/><stop offset="0.671" stop-color="#b01630"/><stop offset="0.791" stop-color="#ab1331"/><stop offset="0.895" stop-color="#ab1331"/><stop offset="1.000" stop-color="#ab1331"/></linearGradient><linearGradient id="h41" x1="0.5" x2="1" spreadMethod="reflect"><stop offset="0.000" stop-color="#fbfcc4"/><stop offset="0.037" stop-color="#fcfbc0"/><stop offset="0.073" stop-color="#fcf9bc"/><stop offset="0.103" stop-color="#fcf8bc"/><stop offset="0.133" stop-color="#fde399"/><stop offset="0.162" stop-color="#fcc176"/><stop offset="0.199" stop-color="#f89d5c"/><stop offset="0.235" stop-color="#f17348"/><stop offset="0.280" stop-color="#e85a3d"/><stop offset="0.324" stop-color="#dd4231"/><stop offset="0.368" stop-color="#d53029"/><stop offset="0.412" stop-color="#c8272b"/><stop offset="0.472" stop-color="#be202d"/><stop offset="0.531" stop-color="#b41a2f"/><stop offset="0.651" stop-color="#b01630"/><stop offset="0.771" stop-color="#ab1331"/><stop offset="0.885" stop-color="#ab1331"/><stop offset="1.000" stop-color="#ab1331"/></linearGradient><linearGradient id="h42" x1="0.5" x2="1" spreadMethod="reflect"><stop offset="0.000" stop-color="#f3f8d2"/><stop offset="0.034" stop-color="#f5f9ce"/><stop offset="0.068" stop-color="#f7faca"/><stop offset="0.096" stop-color="#fcf8bc"/><stop offset="0.125" stop-color="#fde399"/><stop offset="0.153" stop-color="#fcc176"/><stop offset="0.187" stop-color="#f89d5c"/><stop offset="0.221" stop-color="#f17348"/><stop offset="0.262" stop-color="#e85a3d"/><stop offset="0.303" stop-color="#dd4231"/><stop offset="0.345" stop-color="#d53029"/><stop offset="0.388" stop-color="#c8272b"/><stop offset="0.443" stop-color="#be202d"/><stop offset="0.498" stop-color="#b41a2f"/><stop offset="0.618" stop-color="#b01630"/><stop offset="0.738" stop-color="#ab1331"/><stop offset="0.869" stop-color="#ab1331"/><stop offset="1.000" stop-color="#ab1331"/></linearGradient><linearGradient id="h43" x1="0.5" x2="1" spreadMethod="reflect"><stop offset="0.000" stop-color="#f8fac9"/><stop offset="0.036" stop-color="#fafbc5"/><stop offset="0.072" stop-color="#fcfcc1"/><stop offset="0.087" stop-color="#fcfabf"/><stop offset="0.103" stop-color="#fcf8bc"/><stop offset="0.134" stop-color="#fde399"/><stop offset="0.165" stop-color="#fcc176"/><stop offset="0.201" stop-color="#f89d5c"/><stop offset="0.237" stop-color="#f17348"/><stop offset="0.281" stop-color="#e85a3d"/><stop offset="0.324" stop-color="#dd4231"/><stop offset="0.371" stop-color="#d53029"/><stop offset="0.417" stop-color="#c8272b"/><stop offset="0.477" stop-color="#be202d"/><stop offset="0.536" stop-color="#b41a2f"/><stop offset="0.656" stop-color="#b01630"/><stop offset="0.775" stop-color="#ab1331"/><stop offset="0.888" stop-color="#ab1331"/><stop offset="1.000" stop-color="#ab1331"/></linearGradient><linearGradient id="h44" x1="0.5" x2="1" spreadMethod="reflect"><stop offset="0.000" stop-color="#f4f9d0"/><stop offset="0.034" stop-color="#f7facc"/><stop offset="0.067" stop-color="#f9fbc8"/><stop offset="0.083" stop-color="#fcfcc2"/><stop offset="0.098" stop-color="#fcf8bc"/><stop offset="0.129" stop-color="#fde399"/><stop offset="0.159" stop-color="#fcc176"/><stop offset="0.193" stop-color="#f89d5c"/><stop offset="0.226" stop-color="#f17348"/><stop offset="0.268" stop-color="#e85a3d"/><stop offset="0.309" stop-color="#dd4231"/><stop offset="0.355" stop-color="#d53029"/><stop offset="0.401" stop-color="#c8272b"/><stop offset="0.458" stop-color="#be202d"/><stop offset="0.514" stop-color="#b41a2f"/><stop offset="0.634" stop-color="#b01630"/><stop offset="0.754" stop-color="#ab1331"/><stop offset="0.877" stop-color="#ab1331"/><stop offset="1.000" stop-color="#ab1331"/></linearGradient><linearGradient id="h45" x1="0.5" x2="1" spreadMethod="reflect"><stop offset="0.000" stop-color="#f1f8d6"/><stop offset="0.033" stop-color="#f3f9d1"/><stop offset="0.065" stop-color="#f6facd"/><stop offset="0.081" stop-color="#fbfbc4"/><stop offset="0.097" stop-color="#fcf8bc"/><stop offset="0.129" stop-color="#fde399"/><stop offset="0.160" stop-color="#fcc176"/><stop offset="0.193" stop-color="#f89d5c"/><stop offset="0.225" stop-color="#f17348"/><stop offset="0.266" stop-color="#e85a3d"/><stop offset="0.307" stop-color="#dd4231"/><stop offset="0.354" stop-color="#d53029"/><stop offset="0.401" stop-color="#c8272b"/><stop offset="0.458" stop-color="#be202d"/><stop offset="0.514" stop-color="#b41a2f"/><stop offset="0.634" stop-color="#b01630"/><stop offset="0.754" stop-color="#ab1331"/><stop offset="0.877" stop-color="#ab1331"/><stop offset="1.000" stop-color="#ab1331"/></linearGradient><linearGradient id="h46" x1="0.5" x2="1" spreadMethod="reflect"><stop offset="0.000" stop-color="#eff7d9"/><stop offset="0.029" stop-color="#f1f8d5"/><stop offset="0.058" stop-color="#f4f9d0"/><stop offset="0.088" stop-color="#fcf8bc"/><stop offset="0.117" stop-color="#fde399"/><stop offset="0.146" stop-color="#fcc176"/><stop offset="0.175" stop-color="#f89d5c"/><stop offset="0.204" stop-color="#f17348"/><stop offset="0.240" stop-color="#e85a3d"/><stop offset="0.276" stop-color="#dd4231"/><stop offset="0.319" stop-color="#d53029"/><stop offset="0.363" stop-color="#c8272b"/><stop offset="0.414" stop-color="#be202d"/><stop offset="0.465" stop-color="#b41a2f"/><stop offset="0.584" stop-color="#b01630"/><stop offset="0.704" stop-color="#ab1331"/><stop offset="0.852" stop-color="#ab1331"/><stop offset="1.000" stop-color="#ab1331"/></linearGradient><linearGradient id="h47" x1="0.5" x2="1" spreadMethod="reflect"><stop offset="0.000" stop-color="#f1f8d6"/><stop offset="0.030" stop-color="#f3f9d1"/><stop offset="0.060" stop-color="#f6facd"/><stop offset="0.076" stop-color="#fbfbc4"/><stop offset="0.092" stop-color="#fcf8bc"/><stop offset="0.122" stop-color="#fde399"/><stop offset="0.152" stop-color="#fcc176"/><stop offset="0.182" stop-color="#f89d5c"/><stop offset="0.212" stop-color="#f17348"/><stop offset="0.249" stop-color="#e85a3d"/><stop offset="0.287" stop-color="#dd4231"/><stop offset="0.331" stop-color="#d53029"/><stop offset="0.376" stop-color="#c8272b"/><stop offset="0.429" stop-color="#be202d"/><stop offset="0.482" stop-color="#b41a2f"/><stop offset="0.602" stop-color="#b01630"/><stop offset="0.721" stop-color="#ab1331"/><stop offset="0.861" stop-color="#ab1331"/><stop offset="1.000" stop-color="#ab1331"/></linearGradient><linearGradient id="h48" x1="0.5" x2="1" spreadMethod="reflect"><stop offset="0.000" stop-color="#eff7d9"/><stop offset="0.028" stop-color="#f1f8d5"/><stop offset="0.057" stop-color="#f4f9d0"/><stop offset="0.073" stop-color="#fafbc6"/><stop offset="0.088" stop-color="#fcf8bc"/><stop offset="0.117" stop-color="#fde399"/><stop offset="0.145" stop-color="#fcc176"/><stop offset="0.174" stop-color="#f89d5c"/><stop offset="0.202" stop-color="#f17348"/><stop offset="0.237" stop-color="#e85a3d"/><stop offset="0.273" stop-color="#dd4231"/><stop offset="0.315" stop-color="#d53029"/><stop offset="0.357" stop-color="#c8272b"/><stop offset="0.407" stop-color="#be202d"/><stop offset="0.458" stop-color="#b41a2f"/><stop offset="0.578" stop-color="#b01630"/><stop offset="0.697" stop-color="#ab1331"/><stop offset="0.849" stop-color="#ab1331"/><stop offset="1.000" stop-color="#ab1331"/></linearGradient><linearGradient id="h49" x1="0.5" x2="1" spreadMethod="reflect"><stop offset="0.000" stop-color="#eff7d9"/><stop offset="0.025" stop-color="#f2f8d4"/><stop offset="0.051" stop-color="#f4f9d0"/><stop offset="0.080" stop-color="#fcf8bc"/><stop offset="0.105" stop-color="#fde399"/><stop offset="0.131" stop-color="#fcc176"/><stop offset="0.156" stop-color="#f89d5c"/><stop offset="0.181" stop-color="#f17348"/><stop offset="0.213" stop-color="#e85a3d"/><stop offset="0.244" stop-color="#dd4231"/><stop offset="0.281" stop-color="#d53029"/><stop offset="0.319" stop-color="#c8272b"/><stop offset="0.364" stop-color="#be202d"/><stop offset="0.409" stop-color="#b41a2f"/><stop offset="0.529" stop-color="#b01630"/><stop offset="0.649" stop-color="#ab1331"/><stop offset="0.824" stop-color="#ab1331"/><stop offset="1.000" stop-color="#ab1331"/></linearGradient><linearGradient id="h50" x1="0.5" x2="1" spreadMethod="reflect"><stop offset="0.000" stop-color="#edf6dc"/><stop offset="0.026" stop-color="#f0f7d8"/><stop offset="0.052" stop-color="#f2f8d3"/><stop offset="0.067" stop-color="#f9fbc7"/><stop offset="0.083" stop-color="#fcf8bc"/><stop offset="0.109" stop-color="#fde399"/><stop offset="0.135" stop-color="#fcc176"/><stop offset="0.161" stop-color="#f89d5c"/><stop offset="0.187" stop-color="#f17348"/><stop offset="0.219" stop-color="#e85a3d"/><stop offset="0.251" stop-color="#dd4231"/><stop offset="0.288" stop-color="#d53029"/><stop offset="0.326" stop-color="#c8272b"/><stop offset="0.373" stop-color="#be202d"/><stop offset="0.419" stop-color="#b41a2f"/><stop offset="0.539" stop-color="#b01630"/><stop offset="0.659" stop-color="#ab1331"/><stop offset="0.829" stop-color="#ab1331"/><stop offset="1.000" stop-color="#ab1331"/></linearGradient><linearGradient id="h51" x1="0.5" x2="1" spreadMethod="reflect"><stop offset="0.000" stop-color="#e2f2f0"/><stop offset="0.022" stop-color="#e4f3eb"/><stop offset="0.044" stop-color="#e7f4e7"/><stop offset="0.072" stop-color="#fcf8bc"/><stop offset="0.094" stop-color="#fde399"/><stop offset="0.116" stop-color="#fcc176"/><stop offset="0.138" stop-color="#f89d5c"/><stop offset="0.160" stop-color="#f17348"/><stop offset="0.187" stop-color="#e85a3d"/><stop offset="0.214" stop-color="#dd4231"/><stop offset="0.246" stop-color="#d53029"/><stop offset="0.277" stop-color="#c8272b"/><stop offset="0.317" stop-color="#be202d"/><stop offset="0.357" stop-color="#b41a2f"/><stop offset="0.477" stop-color="#b01630"/><stop offset="0.597" stop-color="#ab1331"/><stop offset="0.798" stop-color="#ab1331"/><stop offset="1.000" stop-color="#ab1331"/></linearGradient><linearGradient id="h52" x1="0.5" x2="1" spreadMethod="reflect"><stop offset="0.000" stop-color="#e3f3ee"/><stop offset="0.023" stop-color="#e6f4e9"/><stop offset="0.046" stop-color="#e8f4e5"/><stop offset="0.062" stop-color="#f4f9d0"/><stop offset="0.077" stop-color="#fcf8bc"/><stop offset="0.100" stop-color="#fde399"/><stop offset="0.123" stop-color="#fcc176"/><stop offset="0.146" stop-color="#f89d5c"/><stop offset="0.169" stop-color="#f17348"/><stop offset="0.197" stop-color="#e85a3d"/><stop offset="0.226" stop-color="#dd4231"/><stop offset="0.259" stop-color="#d53029"/><stop offset="0.291" stop-color="#c8272b"/><stop offset="0.334" stop-color="#be202d"/><stop offset="0.376" stop-color="#b41a2f"/><stop offset="0.496" stop-color="#b01630"/><stop offset="0.615" stop-color="#ab1331"/><stop offset="0.808" stop-color="#ab1331"/><stop offset="1.000" stop-color="#ab1331"/></linearGradient><linearGradient id="h53" x1="0.5" x2="1" spreadMethod="reflect"><stop offset="0.000" stop-color="#e6f4e9"/><stop offset="0.022" stop-color="#e9f5e4"/><stop offset="0.044" stop-color="#ebf6e0"/><stop offset="0.060" stop-color="#f5f9ce"/><stop offset="0.075" stop-color="#fcf8bc"/><stop offset="0.097" stop-color="#fde399"/><stop offset="0.119" stop-color="#fcc176"/><stop offset="0.141" stop-color="#f89d5c"/><stop offset="0.163" stop-color="#f17348"/><stop offset="0.190" stop-color="#e85a3d"/><stop offset="0.217" stop-color="#dd4231"/><stop offset="0.248" stop-color="#d53029"/><stop offset="0.279" stop-color="#c8272b"/><stop offset="0.319" stop-color="#be202d"/><stop offset="0.360" stop-color="#b41a2f"/><stop offset="0.480" stop-color="#b01630"/><stop offset="0.600" stop-color="#ab1331"/><stop offset="0.800" stop-color="#ab1331"/><stop offset="1.000" stop-color="#ab1331"/></linearGradient><linearGradient id="h54" x1="0.5" x2="1" spreadMethod="reflect"><stop offset="0.000" stop-color="#e0f1f4"/><stop offset="0.019" stop-color="#e2f2ef"/><stop offset="0.038" stop-color="#e5f3ea"/><stop offset="0.067" stop-color="#fcf8bc"/><stop offset="0.086" stop-color="#fde399"/><stop offset="0.105" stop-color="#fcc176"/><stop offset="0.124" stop-color="#f89d5c"/><stop offset="0.143" stop-color="#f17348"/><stop offset="0.167" stop-color="#e85a3d"/><stop offset="0.190" stop-color="#dd4231"/><stop offset="0.217" stop-color="#d53029"/><stop offset="0.243" stop-color="#c8272b"/><stop offset="0.279" stop-color="#be202d"/><stop offset="0.315" stop-color="#b41a2f"/><stop offset="0.435" stop-color="#b01630"/><stop offset="0.554" stop-color="#ab1331"/><stop offset="0.777" stop-color="#ab1331"/><stop offset="1.000" stop-color="#ab1331"/></linearGradient><linearGradient id="h55" x1="0.5" x2="1" spreadMethod="reflect"><stop offset="0.000" stop-color="#def1f5"/><stop offset="0.018" stop-color="#e1f2f1"/><stop offset="0.037" stop-color="#e4f3ed"/><stop offset="0.066" stop-color="#fcf8bc"/><stop offset="0.085" stop-color="#fde399"/><stop offset="0.103" stop-color="#fcc176"/><stop offset="0.121" stop-color="#f89d5c"/><stop offset="0.139" stop-color="#f17348"/><stop offset="0.162" stop-color="#e85a3d"/><stop offset="0.184" stop-color="#dd4231"/><stop offset="0.209" stop-color="#d53029"/><stop offset="0.235" stop-color="#c8272b"/><stop offset="0.269" stop-color="#be202d"/><stop offset="0.304" stop-color="#b41a2f"/><stop offset="0.424" stop-color="#b01630"/><stop offset="0.544" stop-color="#ab1331"/><stop offset="0.772" stop-color="#ab1331"/><stop offset="1.000" stop-color="#ab1331"/></linearGradient><linearGradient id="h56" x1="0.5" x2="1" spreadMethod="reflect"><stop offset="0.000" stop-color="#d4ecf2"/><stop offset="0.016" stop-color="#d9eef4"/><stop offset="0.033" stop-color="#def1f5"/><stop offset="0.061" stop-color="#fcf8bc"/><stop offset="0.077" stop-color="#fde399"/><stop offset="0.093" stop-color="#fcc176"/><stop offset="0.109" stop-color="#f89d5c"/><stop offset="0.126" stop-color="#f17348"/><stop offset="0.145" stop-color="#e85a3d"/><stop offset="0.165" stop-color="#dd4231"/><stop offset="0.187" stop-color="#d53029"/><stop offset="0.209" stop-color="#c8272b"/><stop offset="0.241" stop-color="#be202d"/><stop offset="0.272" stop-color="#b41a2f"/><stop offset="0.392" stop-color="#b01630"/><stop offset="0.512" stop-color="#ab1331"/><stop offset="0.756" stop-color="#ab1331"/><stop offset="1.000" stop-color="#ab1331"/></linearGradient><linearGradient id="h57" x1="0.5" x2="1" spreadMethod="reflect"><stop offset="0.000" stop-color="#bee1ed"/><stop offset="0.017" stop-color="#c3e3ee"/><stop offset="0.034" stop-color="#c8e6ef"/><stop offset="0.050" stop-color="#e9f5e3"/><stop offset="0.066" stop-color="#fcf8bc"/><stop offset="0.083" stop-color="#fde399"/><stop offset="0.100" stop-color="#fcc176"/><stop offset="0.117" stop-color="#f89d5c"/><stop offset="0.134" stop-color="#f17348"/><stop offset="0.154" stop-color="#e85a3d"/><stop offset="0.175" stop-color="#dd4231"/><stop offset="0.197" stop-color="#d53029"/><stop offset="0.220" stop-color="#c8272b"/><stop offset="0.253" stop-color="#be202d"/><stop offset="0.287" stop-color="#b41a2f"/><stop offset="0.406" stop-color="#b01630"/><stop offset="0.526" stop-color="#ab1331"/><stop offset="0.763" stop-color="#ab1331"/><stop offset="1.000" stop-color="#ab1331"/></linearGradient><linearGradient id="h58" x1="0.5" x2="1" spreadMethod="reflect"><stop offset="0.000" stop-color="#c7e5ef"/><stop offset="0.016" stop-color="#cce8f0"/><stop offset="0.032" stop-color="#d1eaf2"/><stop offset="0.047" stop-color="#ecf6df"/><stop offset="0.062" stop-color="#fcf8bc"/><stop offset="0.078" stop-color="#fde399"/><stop offset="0.094" stop-color="#fcc176"/><stop offset="0.110" stop-color="#f89d5c"/><stop offset="0.126" stop-color="#f17348"/><stop offset="0.144" stop-color="#e85a3d"/><stop offset="0.163" stop-color="#dd4231"/><stop offset="0.184" stop-color="#d53029"/><stop offset="0.205" stop-color="#c8272b"/><stop offset="0.236" stop-color="#be202d"/><stop offset="0.267" stop-color="#b41a2f"/><stop offset="0.387" stop-color="#b01630"/><stop offset="0.507" stop-color="#ab1331"/><stop offset="0.753" stop-color="#ab1331"/><stop offset="1.000" stop-color="#ab1331"/></linearGradient><linearGradient id="h59" x1="0.5" x2="1" spreadMethod="reflect"><stop offset="0.000" stop-color="#d9382d"/><stop offset="0.135" stop-color="#dc3f30"/><stop offset="0.269" stop-color="#df4734"/><stop offset="0.359" stop-color="#e6553a"/><stop offset="0.449" stop-color="#ec6441"/><stop offset="0.554" stop-color="#ee6742"/><stop offset="0.659" stop-color="#ef6944"/><stop offset="0.734" stop-color="#e85a3d"/><stop offset="0.808" stop-color="#e14c36"/><stop offset="0.904" stop-color="#df4734"/><stop offset="1.000" stop-color="#dd4231"/></linearGradient><linearGradient id="h60" x1="0.5" x2="1" spreadMethod="reflect"><stop offset="0.000" stop-color="#d9382d"/><stop offset="0.120" stop-color="#db3d2f"/><stop offset="0.240" stop-color="#dd4231"/><stop offset="0.314" stop-color="#e55339"/><stop offset="0.389" stop-color="#ec6441"/><stop offset="0.479" stop-color="#ee6742"/><stop offset="0.569" stop-color="#ef6944"/><stop offset="0.644" stop-color="#e7583c"/><stop offset="0.719" stop-color="#df4734"/><stop offset="0.859" stop-color="#d7352c"/><stop offset="1.000" stop-color="#cc2a2b"/></linearGradient><linearGradient id="h61" x1="0.5" x2="1" spreadMethod="reflect"><stop offset="0.000" stop-color="#db3d2f"/><stop offset="0.090" stop-color="#dd4231"/><stop offset="0.180" stop-color="#df4734"/><stop offset="0.254" stop-color="#e7583c"/><stop offset="0.329" stop-color="#ef6944"/><stop offset="0.404" stop-color="#ee6742"/><stop offset="0.479" stop-color="#ec6441"/><stop offset="0.554" stop-color="#e45038"/><stop offset="0.629" stop-color="#db3d2f"/><stop offset="0.719" stop-color="#d22e2a"/><stop offset="0.808" stop-color="#c4242c"/><stop offset="0.904" stop-color="#c0222d"/><stop offset="1.000" stop-color="#bc1f2e"/></linearGradient><linearGradient id="h62" x1="0.5" x2="1" spreadMethod="reflect"><stop offset="0.000" stop-color="#df4734"/><stop offset="0.075" stop-color="#e24e37"/><stop offset="0.150" stop-color="#e6553a"/><stop offset="0.202" stop-color="#eb6240"/><stop offset="0.254" stop-color="#f06e46"/><stop offset="0.307" stop-color="#ee6742"/><stop offset="0.359" stop-color="#ea5f3f"/><stop offset="0.434" stop-color="#e14c36"/><stop offset="0.509" stop-color="#d9382d"/><stop offset="0.584" stop-color="#d02c2a"/><stop offset="0.659" stop-color="#c4242c"/><stop offset="0.829" stop-color="#be202d"/><stop offset="1.000" stop-color="#b81c2e"/></linearGradient><linearGradient id="h63" x1="0.5" x2="1" spreadMethod="reflect"><stop offset="0.000" stop-color="#e85a3d"/><stop offset="0.060" stop-color="#ea5f3f"/><stop offset="0.120" stop-color="#ec6441"/><stop offset="0.165" stop-color="#ee6742"/><stop offset="0.210" stop-color="#ef6944"/><stop offset="0.254" stop-color="#ea5f3f"/><stop offset="0.299" stop-color="#e6553a"/><stop offset="0.359" stop-color="#de4432"/><stop offset="0.419" stop-color="#d6332a"/><stop offset="0.509" stop-color="#cc2a2b"/><stop offset="0.599" stop-color="#c0222d"/><stop offset="0.719" stop-color="#b81c2e"/><stop offset="0.838" stop-color="#b11730"/><stop offset="0.919" stop-color="#af1630"/><stop offset="1.000" stop-color="#ae1530"/></linearGradient><linearGradient id="h64" x1="0.5" x2="1" spreadMethod="reflect"><stop offset="0.000" stop-color="#ef6944"/><stop offset="0.060" stop-color="#ef6944"/><stop offset="0.120" stop-color="#ef6944"/><stop offset="0.172" stop-color="#eb6240"/><stop offset="0.225" stop-color="#e85a3d"/><stop offset="0.292" stop-color="#df4734"/><stop offset="0.359" stop-color="#d6332a"/><stop offset="0.464" stop-color="#ca282b"/><stop offset="0.569" stop-color="#bc1f2e"/><stop offset="0.689" stop-color="#b41a2f"/><stop offset="0.808" stop-color="#ad1431"/><stop offset="0.904" stop-color="#ad1431"/><stop offset="1.000" stop-color="#ad1431"/></linearGradient><linearGradient id="h65" x1="0.5" x2="1" spreadMethod="reflect"><stop offset="0.000" stop-color="#f06e46"/><stop offset="0.050" stop-color="#f06c45"/><stop offset="0.101" stop-color="#ef6a44"/><stop offset="0.159" stop-color="#ea603f"/><stop offset="0.216" stop-color="#e6553a"/><stop offset="0.281" stop-color="#dd4231"/><stop offset="0.346" stop-color="#d32f29"/><stop offset="0.446" stop-color="#c8272b"/><stop offset="0.547" stop-color="#bc1f2e"/><stop offset="0.667" stop-color="#b41a2f"/><stop offset="0.787" stop-color="#ad1431"/><stop offset="0.893" stop-color="#ad1431"/><stop offset="1.000" stop-color="#ad1431"/></linearGradient><linearGradient id="h66" x1="0.5" x2="1" spreadMethod="reflect"><stop offset="0.000" stop-color="#f06d46"/><stop offset="0.051" stop-color="#f06b45"/><stop offset="0.102" stop-color="#ef6944"/><stop offset="0.159" stop-color="#ea5f3f"/><stop offset="0.216" stop-color="#e6553a"/><stop offset="0.279" stop-color="#dd4231"/><stop offset="0.343" stop-color="#d32f29"/><stop offset="0.441" stop-color="#c8272b"/><stop offset="0.539" stop-color="#bc1f2e"/><stop offset="0.659" stop-color="#b41a2f"/><stop offset="0.779" stop-color="#ad1431"/><stop offset="0.889" stop-color="#ad1431"/><stop offset="1.000" stop-color="#ad1431"/></linearGradient><linearGradient id="h67" x1="0.5" x2="1" spreadMethod="reflect"><stop offset="0.000" stop-color="#ef6a44"/><stop offset="0.046" stop-color="#ee6843"/><stop offset="0.093" stop-color="#ed6642"/><stop offset="0.142" stop-color="#ea5e3e"/><stop offset="0.192" stop-color="#e6553a"/><stop offset="0.248" stop-color="#dd4231"/><stop offset="0.304" stop-color="#d32f29"/><stop offset="0.389" stop-color="#c8272b"/><stop offset="0.474" stop-color="#bc1f2e"/><stop offset="0.594" stop-color="#b41a2f"/><stop offset="0.714" stop-color="#ad1431"/><stop offset="0.857" stop-color="#ad1431"/><stop offset="1.000" stop-color="#ad1431"/></linearGradient><linearGradient id="h68" x1="0.5" x2="1" spreadMethod="reflect"><stop offset="0.000" stop-color="#f17248"/><stop offset="0.051" stop-color="#f17047"/><stop offset="0.101" stop-color="#f06e46"/><stop offset="0.153" stop-color="#eb6140"/><stop offset="0.206" stop-color="#e6553a"/><stop offset="0.265" stop-color="#dd4231"/><stop offset="0.324" stop-color="#d32f29"/><stop offset="0.412" stop-color="#c8272b"/><stop offset="0.501" stop-color="#bc1f2e"/><stop offset="0.620" stop-color="#b41a2f"/><stop offset="0.740" stop-color="#ad1431"/><stop offset="0.870" stop-color="#ad1431"/><stop offset="1.000" stop-color="#ad1431"/></linearGradient><linearGradient id="h69" x1="0.5" x2="1" spreadMethod="reflect"><stop offset="0.000" stop-color="#f17248"/><stop offset="0.049" stop-color="#f17047"/><stop offset="0.099" stop-color="#f06e46"/><stop offset="0.148" stop-color="#eb6140"/><stop offset="0.197" stop-color="#e6553a"/><stop offset="0.253" stop-color="#dd4231"/><stop offset="0.309" stop-color="#d32f29"/><stop offset="0.391" stop-color="#c8272b"/><stop offset="0.472" stop-color="#bc1f2e"/><stop offset="0.592" stop-color="#b41a2f"/><stop offset="0.712" stop-color="#ad1431"/><stop offset="0.856" stop-color="#ad1431"/><stop offset="1.000" stop-color="#ad1431"/></linearGradient><linearGradient id="h70" x1="0.5" x2="1" spreadMethod="reflect"><stop offset="0.000" stop-color="#f17348"/><stop offset="0.045" stop-color="#f17147"/><stop offset="0.090" stop-color="#f16f46"/><stop offset="0.133" stop-color="#ec6240"/><stop offset="0.176" stop-color="#e6553a"/><stop offset="0.225" stop-color="#dd4231"/><stop offset="0.274" stop-color="#d32f29"/><stop offset="0.344" stop-color="#c8272b"/><stop offset="0.414" stop-color="#bc1f2e"/><stop offset="0.534" stop-color="#b41a2f"/><stop offset="0.654" stop-color="#ad1431"/><stop offset="0.827" stop-color="#ad1431"/><stop offset="1.000" stop-color="#ad1431"/></linearGradient><linearGradient id="h71" x1="0.5" x2="1" spreadMethod="reflect"><stop offset="0.000" stop-color="#f17147"/><stop offset="0.046" stop-color="#f16f46"/><stop offset="0.092" stop-color="#f06d46"/><stop offset="0.135" stop-color="#eb6140"/><stop offset="0.178" stop-color="#e6553a"/><stop offset="0.227" stop-color="#dd4231"/><stop offset="0.277" stop-color="#d32f29"/><stop offset="0.345" stop-color="#c8272b"/><stop offset="0.414" stop-color="#bc1f2e"/><stop offset="0.534" stop-color="#b41a2f"/><stop offset="0.653" stop-color="#ad1431"/><stop offset="0.827" stop-color="#ad1431"/><stop offset="1.000" stop-color="#ad1431"/></linearGradient><linearGradient id="h72" x1="0.5" x2="1" spreadMethod="reflect"><stop offset="0.000" stop-color="#f17147"/><stop offset="0.043" stop-color="#f06f46"/><stop offset="0.085" stop-color="#f06d45"/><stop offset="0.124" stop-color="#eb6140"/><stop offset="0.163" stop-color="#e6553a"/><stop offset="0.209" stop-color="#dd4231"/><stop offset="0.254" stop-color="#d32f29"/><stop offset="0.316" stop-color="#c8272b"/><stop offset="0.377" stop-color="#bc1f2e"/><stop offset="0.497" stop-color="#b41a2f"/><stop offset="0.617" stop-color="#ad1431"/><stop offset="0.808" stop-color="#ad1431"/><stop offset="1.000" stop-color="#ad1431"/></linearGradient><linearGradient id="h73" x1="0.5" x2="1" spreadMethod="reflect"><stop offset="0.000" stop-color="#f06e46"/><stop offset="0.042" stop-color="#f06c45"/><stop offset="0.084" stop-color="#ef6a44"/><stop offset="0.122" stop-color="#eb603f"/><stop offset="0.160" stop-color="#e6553a"/><stop offset="0.206" stop-color="#dd4231"/><stop offset="0.251" stop-color="#d32f29"/><stop offset="0.311" stop-color="#c8272b"/><stop offset="0.370" stop-color="#bc1f2e"/><stop offset="0.490" stop-color="#b41a2f"/><stop offset="0.610" stop-color="#ad1431"/><stop offset="0.805" stop-color="#ad1431"/><stop offset="1.000" stop-color="#ad1431"/></linearGradient><linearGradient id="h74" x1="0.5" x2="1" spreadMethod="reflect"><stop offset="0.000" stop-color="#f2784b"/><stop offset="0.040" stop-color="#f2764a"/><stop offset="0.080" stop-color="#f17449"/><stop offset="0.115" stop-color="#ed6441"/><stop offset="0.151" stop-color="#e6553a"/><stop offset="0.194" stop-color="#dd4231"/><stop offset="0.237" stop-color="#d32f29"/><stop offset="0.292" stop-color="#c8272b"/><stop offset="0.347" stop-color="#bc1f2e"/><stop offset="0.466" stop-color="#b41a2f"/><stop offset="0.586" stop-color="#ad1431"/><stop offset="0.793" stop-color="#ad1431"/><stop offset="1.000" stop-color="#ad1431"/></linearGradient><linearGradient id="h75" x1="0.5" x2="1" spreadMethod="reflect"><stop offset="0.000" stop-color="#f17449"/><stop offset="0.035" stop-color="#f17248"/><stop offset="0.069" stop-color="#f17047"/><stop offset="0.100" stop-color="#ec6341"/><stop offset="0.130" stop-color="#e6553a"/><stop offset="0.168" stop-color="#dd4231"/><stop offset="0.205" stop-color="#d32f29"/><stop offset="0.252" stop-color="#c8272b"/><stop offset="0.298" stop-color="#bc1f2e"/><stop offset="0.418" stop-color="#b41a2f"/><stop offset="0.537" stop-color="#ad1431"/><stop offset="0.769" stop-color="#ad1431"/><stop offset="1.000" stop-color="#ad1431"/></linearGradient><linearGradient id="h76" x1="0.5" x2="1" spreadMethod="reflect"><stop offset="0.000" stop-color="#f2774a"/><stop offset="0.036" stop-color="#f27549"/><stop offset="0.072" stop-color="#f17348"/><stop offset="0.104" stop-color="#ec6441"/><stop offset="0.135" stop-color="#e6553a"/><stop offset="0.174" stop-color="#dd4231"/><stop offset="0.213" stop-color="#d32f29"/><stop offset="0.260" stop-color="#c8272b"/><stop offset="0.306" stop-color="#bc1f2e"/><stop offset="0.426" stop-color="#b41a2f"/><stop offset="0.546" stop-color="#ad1431"/><stop offset="0.773" stop-color="#ad1431"/><stop offset="1.000" stop-color="#ad1431"/></linearGradient><linearGradient id="h77" x1="0.5" x2="1" spreadMethod="reflect"><stop offset="0.000" stop-color="#f17147"/><stop offset="0.034" stop-color="#f06f46"/><stop offset="0.068" stop-color="#f06d45"/><stop offset="0.097" stop-color="#eb6140"/><stop offset="0.126" stop-color="#e6553a"/><stop offset="0.163" stop-color="#dd4231"/><stop offset="0.200" stop-color="#d32f29"/><stop offset="0.242" stop-color="#c8272b"/><stop offset="0.285" stop-color="#bc1f2e"/><stop offset="0.404" stop-color="#b41a2f"/><stop offset="0.524" stop-color="#ad1431"/><stop offset="0.762" stop-color="#ad1431"/><stop offset="1.000" stop-color="#ad1431"/></linearGradient><linearGradient id="h78" x1="0.5" x2="1" spreadMethod="reflect"><stop offset="0.000" stop-color="#f2784b"/><stop offset="0.032" stop-color="#f2764a"/><stop offset="0.063" stop-color="#f17449"/><stop offset="0.089" stop-color="#ed6441"/><stop offset="0.115" stop-color="#e6553a"/><stop offset="0.150" stop-color="#dd4231"/><stop offset="0.185" stop-color="#d32f29"/><stop offset="0.222" stop-color="#c8272b"/><stop offset="0.259" stop-color="#bc1f2e"/><stop offset="0.379" stop-color="#b41a2f"/><stop offset="0.498" stop-color="#ad1431"/><stop offset="0.749" stop-color="#ad1431"/><stop offset="1.000" stop-color="#ad1431"/></linearGradient><linearGradient id="h79" x1="0.5" x2="1" spreadMethod="reflect"><stop offset="0.000" stop-color="#f16f47"/><stop offset="0.032" stop-color="#f06d46"/><stop offset="0.064" stop-color="#f06b45"/><stop offset="0.090" stop-color="#eb6040"/><stop offset="0.116" stop-color="#e6553a"/><stop offset="0.151" stop-color="#dd4231"/><stop offset="0.186" stop-color="#d32f29"/><stop offset="0.222" stop-color="#c8272b"/><stop offset="0.257" stop-color="#bc1f2e"/><stop offset="0.377" stop-color="#b41a2f"/><stop offset="0.497" stop-color="#ad1431"/><stop offset="0.748" stop-color="#ad1431"/><stop offset="1.000" stop-color="#ad1431"/></linearGradient><linearGradient id="h80" x1="0.5" x2="1" spreadMethod="reflect"><stop offset="0.000" stop-color="#f06e46"/><stop offset="0.028" stop-color="#f06d45"/><stop offset="0.056" stop-color="#ef6b44"/><stop offset="0.078" stop-color="#eb603f"/><stop offset="0.101" stop-color="#e6553a"/><stop offset="0.131" stop-color="#dd4231"/><stop offset="0.162" stop-color="#d32f29"/><stop offset="0.193" stop-color="#c8272b"/><stop offset="0.225" stop-color="#bc1f2e"/><stop offset="0.344" stop-color="#b41a2f"/><stop offset="0.464" stop-color="#ad1431"/><stop offset="0.732" stop-color="#ad1431"/><stop offset="1.000" stop-color="#ad1431"/></linearGradient><linearGradient id="h81" x1="0.5" x2="1" spreadMethod="reflect"><stop offset="0.000" stop-color="#f17248"/><stop offset="0.027" stop-color="#f17047"/><stop offset="0.055" stop-color="#f06e46"/><stop offset="0.076" stop-color="#eb6240"/><stop offset="0.098" stop-color="#e6553a"/><stop offset="0.128" stop-color="#dd4231"/><stop offset="0.159" stop-color="#d32f29"/><stop offset="0.190" stop-color="#c8272b"/><stop offset="0.220" stop-color="#bc1f2e"/><stop offset="0.340" stop-color="#b41a2f"/><stop offset="0.460" stop-color="#ad1431"/><stop offset="0.730" stop-color="#ad1431"/><stop offset="1.000" stop-color="#ad1431"/></linearGradient><linearGradient id="h82" x1="0.5" x2="1" spreadMethod="reflect"><stop offset="0.000" stop-color="#f2764a"/><stop offset="0.028" stop-color="#f17449"/><stop offset="0.055" stop-color="#f17248"/><stop offset="0.077" stop-color="#ec6341"/><stop offset="0.098" stop-color="#e6553a"/><stop offset="0.129" stop-color="#dd4231"/><stop offset="0.160" stop-color="#d32f29"/><stop offset="0.191" stop-color="#c8272b"/><stop offset="0.222" stop-color="#bc1f2e"/><stop offset="0.342" stop-color="#b41a2f"/><stop offset="0.462" stop-color="#ad1431"/><stop offset="0.731" stop-color="#ad1431"/><stop offset="1.000" stop-color="#ad1431"/></linearGradient><linearGradient id="h83" x1="0.5" x2="1" spreadMethod="reflect"><stop offset="0.000" stop-color="#f06d46"/><stop offset="0.029" stop-color="#f06b45"/><stop offset="0.059" stop-color="#ef6a44"/><stop offset="0.081" stop-color="#ea5f3f"/><stop offset="0.104" stop-color="#e6553a"/><stop offset="0.137" stop-color="#dd4231"/><stop offset="0.170" stop-color="#d32f29"/><stop offset="0.204" stop-color="#c8272b"/><stop offset="0.237" stop-color="#bc1f2e"/><stop offset="0.357" stop-color="#b41a2f"/><stop offset="0.477" stop-color="#ad1431"/><stop offset="0.738" stop-color="#ad1431"/><stop offset="1.000" stop-color="#ad1431"/></linearGradient><linearGradient id="h84" x1="0.5" x2="1" spreadMethod="reflect"><stop offset="0.000" stop-color="#f06f46"/><stop offset="0.029" stop-color="#f06d45"/><stop offset="0.057" stop-color="#f06b45"/><stop offset="0.079" stop-color="#eb603f"/><stop offset="0.101" stop-color="#e6553a"/><stop offset="0.133" stop-color="#dd4231"/><stop offset="0.166" stop-color="#d32f29"/><stop offset="0.199" stop-color="#c8272b"/><stop offset="0.232" stop-color="#bc1f2e"/><stop offset="0.352" stop-color="#b41a2f"/><stop offset="0.471" stop-color="#ad1431"/><stop offset="0.736" stop-color="#ad1431"/><stop offset="1.000" stop-color="#ad1431"/></linearGradient><linearGradient id="h85" x1="0.5" x2="1" spreadMethod="reflect"><stop offset="0.000" stop-color="#f06d46"/><stop offset="0.028" stop-color="#f06b45"/><stop offset="0.056" stop-color="#ef6944"/><stop offset="0.077" stop-color="#ea5f3f"/><stop offset="0.099" stop-color="#e6553a"/><stop offset="0.131" stop-color="#dd4231"/><stop offset="0.163" stop-color="#d32f29"/><stop offset="0.196" stop-color="#c8272b"/><stop offset="0.228" stop-color="#bc1f2e"/><stop offset="0.348" stop-color="#b41a2f"/><stop offset="0.468" stop-color="#ad1431"/><stop offset="0.734" stop-color="#ad1431"/><stop offset="1.000" stop-color="#ad1431"/></linearGradient><linearGradient id="h86" x1="0.5" x2="1" spreadMethod="reflect"><stop offset="0.000" stop-color="#f06c45"/><stop offset="0.027" stop-color="#ef6a44"/><stop offset="0.053" stop-color="#ee6943"/><stop offset="0.073" stop-color="#ea5f3f"/><stop offset="0.093" stop-color="#e6553a"/><stop offset="0.123" stop-color="#dd4231"/><stop offset="0.153" stop-color="#d32f29"/><stop offset="0.185" stop-color="#c8272b"/><stop offset="0.216" stop-color="#bc1f2e"/><stop offset="0.336" stop-color="#b41a2f"/><stop offset="0.456" stop-color="#ad1431"/><stop offset="0.728" stop-color="#ad1431"/><stop offset="1.000" stop-color="#ad1431"/></linearGradient><linearGradient id="h87" x1="0.5" x2="1" spreadMethod="reflect"><stop offset="0.000" stop-color="#f17147"/><stop offset="0.027" stop-color="#f16f47"/><stop offset="0.054" stop-color="#f06d46"/><stop offset="0.074" stop-color="#eb6140"/><stop offset="0.094" stop-color="#e6553a"/><stop offset="0.125" stop-color="#dd4231"/><stop offset="0.156" stop-color="#d32f29"/><stop offset="0.189" stop-color="#c8272b"/><stop offset="0.221" stop-color="#bc1f2e"/><stop offset="0.341" stop-color="#b41a2f"/><stop offset="0.461" stop-color="#ad1431"/><stop offset="0.730" stop-color="#ad1431"/><stop offset="1.000" stop-color="#ad1431"/></linearGradient><linearGradient id="h88" x1="0.5" x2="1" spreadMethod="reflect"><stop offset="0.000" stop-color="#ef6a44"/><stop offset="0.027" stop-color="#ee6843"/><stop offset="0.055" stop-color="#ed6642"/><stop offset="0.075" stop-color="#ea5e3e"/><stop offset="0.095" stop-color="#e6553a"/><stop offset="0.126" stop-color="#dd4231"/><stop offset="0.158" stop-color="#d32f29"/><stop offset="0.191" stop-color="#c8272b"/><stop offset="0.225" stop-color="#bc1f2e"/><stop offset="0.344" stop-color="#b41a2f"/><stop offset="0.464" stop-color="#ad1431"/><stop offset="0.732" stop-color="#ad1431"/><stop offset="1.000" stop-color="#ad1431"/></linearGradient><linearGradient id="h89" x1="0.5" x2="1" spreadMethod="reflect"><stop offset="0.000" stop-color="#f17248"/><stop offset="0.028" stop-color="#f17047"/><stop offset="0.055" stop-color="#f06e46"/><stop offset="0.075" stop-color="#eb6240"/><stop offset="0.095" stop-color="#e6553a"/><stop offset="0.127" stop-color="#dd4231"/><stop offset="0.160" stop-color="#d32f29"/><stop offset="0.194" stop-color="#c8272b"/><stop offset="0.228" stop-color="#bc1f2e"/><stop offset="0.347" stop-color="#b41a2f"/><stop offset="0.467" stop-color="#ad1431"/><stop offset="0.734" stop-color="#ad1431"/><stop offset="1.000" stop-color="#ad1431"/></linearGradient><linearGradient id="h90" x1="0.5" x2="1" spreadMethod="reflect"><stop offset="0.000" stop-color="#f17047"/><stop offset="0.028" stop-color="#f06e46"/><stop offset="0.055" stop-color="#f06c45"/><stop offset="0.075" stop-color="#eb6140"/><stop offset="0.094" stop-color="#e6553a"/><stop offset="0.127" stop-color="#dd4231"/><stop offset="0.159" stop-color="#d32f29"/><stop offset="0.193" stop-color="#c8272b"/><stop offset="0.228" stop-color="#bc1f2e"/><stop offset="0.347" stop-color="#b41a2f"/><stop offset="0.467" stop-color="#ad1431"/><stop offset="0.734" stop-color="#ad1431"/><stop offset="1.000" stop-color="#ad1431"/></linearGradient><linearGradient id="h91" x1="0.5" x2="1" spreadMethod="reflect"><stop offset="0.000" stop-color="#f06c45"/><stop offset="0.024" stop-color="#ef6b44"/><stop offset="0.049" stop-color="#ef6944"/><stop offset="0.066" stop-color="#ea5f3f"/><stop offset="0.083" stop-color="#e6553a"/><stop offset="0.112" stop-color="#dd4231"/><stop offset="0.141" stop-color="#d32f29"/><stop offset="0.172" stop-color="#c8272b"/><stop offset="0.202" stop-color="#bc1f2e"/><stop offset="0.322" stop-color="#b41a2f"/><stop offset="0.442" stop-color="#ad1431"/><stop offset="0.721" stop-color="#ad1431"/><stop offset="1.000" stop-color="#ad1431"/></linearGradient><linearGradient id="h92" x1="0.5" x2="1" spreadMethod="reflect"><stop offset="0.000" stop-color="#f16f46"/><stop offset="0.024" stop-color="#f06d45"/><stop offset="0.049" stop-color="#f06b45"/><stop offset="0.065" stop-color="#eb6040"/><stop offset="0.082" stop-color="#e6553a"/><stop offset="0.111" stop-color="#dd4231"/><stop offset="0.140" stop-color="#d32f29"/><stop offset="0.171" stop-color="#c8272b"/><stop offset="0.202" stop-color="#bc1f2e"/><stop offset="0.322" stop-color="#b41a2f"/><stop offset="0.442" stop-color="#ad1431"/><stop offset="0.721" stop-color="#ad1431"/><stop offset="1.000" stop-color="#ad1431"/></linearGradient><linearGradient id="h93" x1="0.5" x2="1" spreadMethod="reflect"><stop offset="0.000" stop-color="#f06e46"/><stop offset="0.024" stop-color="#f06c45"/><stop offset="0.049" stop-color="#ef6a44"/><stop offset="0.066" stop-color="#ea603f"/><stop offset="0.082" stop-color="#e6553a"/><stop offset="0.112" stop-color="#dd4231"/><stop offset="0.141" stop-color="#d32f29"/><stop offset="0.172" stop-color="#c8272b"/><stop offset="0.204" stop-color="#bc1f2e"/><stop offset="0.324" stop-color="#b41a2f"/><stop offset="0.443" stop-color="#ad1431"/><stop offset="0.722" stop-color="#ad1431"/><stop offset="1.000" stop-color="#ad1431"/></linearGradient><linearGradient id="h94" x1="0.5" x2="1" spreadMethod="reflect"><stop offset="0.000" stop-color="#f06d46"/><stop offset="0.024" stop-color="#f06b45"/><stop offset="0.049" stop-color="#ef6944"/><stop offset="0.065" stop-color="#ea5f3f"/><stop offset="0.082" stop-color="#e6553a"/><stop offset="0.111" stop-color="#dd4231"/><stop offset="0.141" stop-color="#d32f29"/><stop offset="0.173" stop-color="#c8272b"/><stop offset="0.204" stop-color="#bc1f2e"/><stop offset="0.324" stop-color="#b41a2f"/><stop offset="0.444" stop-color="#ad1431"/><stop offset="0.722" stop-color="#ad1431"/><stop offset="1.000" stop-color="#ad1431"/></linearGradient><linearGradient id="h95" x1="0.5" x2="1" spreadMethod="reflect"><stop offset="0.000" stop-color="#ed6642"/><stop offset="0.024" stop-color="#ed6542"/><stop offset="0.049" stop-color="#ec6341"/><stop offset="0.065" stop-color="#e95c3e"/><stop offset="0.081" stop-color="#e6553a"/><stop offset="0.110" stop-color="#dd4231"/><stop offset="0.140" stop-color="#d32f29"/><stop offset="0.172" stop-color="#c8272b"/><stop offset="0.204" stop-color="#bc1f2e"/><stop offset="0.324" stop-color="#b41a2f"/><stop offset="0.444" stop-color="#ad1431"/><stop offset="0.722" stop-color="#ad1431"/><stop offset="1.000" stop-color="#ad1431"/></linearGradient><linearGradient id="h96" x1="0.5" x2="1" spreadMethod="reflect"><stop offset="0.000" stop-color="#ee6843"/><stop offset="0.024" stop-color="#ee6742"/><stop offset="0.049" stop-color="#ed6542"/><stop offset="0.064" stop-color="#e95d3e"/><stop offset="0.080" stop-color="#e6553a"/><stop offset="0.110" stop-color="#dd4231"/><stop offset="0.140" stop-color="#d32f29"/><stop offset="0.172" stop-color="#c8272b"/><stop offset="0.205" stop-color="#bc1f2e"/><stop offset="0.324" stop-color="#b41a2f"/><stop offset="0.444" stop-color="#ad1431"/><stop offset="0.722" stop-color="#ad1431"/><stop offset="1.000" stop-color="#ad1431"/></linearGradient><linearGradient id="h97" x1="0.5" x2="1" spreadMethod="reflect"><stop offset="0.000" stop-color="#ee6843"/><stop offset="0.026" stop-color="#ed6642"/><stop offset="0.051" stop-color="#ed6441"/><stop offset="0.068" stop-color="#e95d3e"/><stop offset="0.084" stop-color="#e6553a"/><stop offset="0.116" stop-color="#dd4231"/><stop offset="0.148" stop-color="#d32f29"/><stop offset="0.183" stop-color="#c8272b"/><stop offset="0.218" stop-color="#bc1f2e"/><stop offset="0.337" stop-color="#b41a2f"/><stop offset="0.457" stop-color="#ad1431"/><stop offset="0.729" stop-color="#ad1431"/><stop offset="1.000" stop-color="#ad1431"/></linearGradient><linearGradient id="h98" x1="0.5" x2="1" spreadMethod="reflect"><stop offset="0.000" stop-color="#ef6a44"/><stop offset="0.024" stop-color="#ee6843"/><stop offset="0.048" stop-color="#ed6642"/><stop offset="0.063" stop-color="#ea5e3e"/><stop offset="0.078" stop-color="#e6553a"/><stop offset="0.108" stop-color="#dd4231"/><stop offset="0.138" stop-color="#d32f29"/><stop offset="0.171" stop-color="#c8272b"/><stop offset="0.204" stop-color="#bc1f2e"/><stop offset="0.324" stop-color="#b41a2f"/><stop offset="0.444" stop-color="#ad1431"/><stop offset="0.722" stop-color="#ad1431"/><stop offset="1.000" stop-color="#ad1431"/></linearGradient><linearGradient id="h99" x1="0.5" x2="1" spreadMethod="reflect"><stop offset="0.000" stop-color="#ed6542"/><stop offset="0.025" stop-color="#ec6341"/><stop offset="0.051" stop-color="#eb6140"/><stop offset="0.066" stop-color="#e85b3d"/><stop offset="0.081" stop-color="#e6553a"/><stop offset="0.113" stop-color="#dd4231"/><stop offset="0.145" stop-color="#d32f29"/><stop offset="0.181" stop-color="#c8272b"/><stop offset="0.216" stop-color="#bc1f2e"/><stop offset="0.336" stop-color="#b41a2f"/><stop offset="0.455" stop-color="#ad1431"/><stop offset="0.728" stop-color="#ad1431"/><stop offset="1.000" stop-color="#ad1431"/></linearGradient><linearGradient id="h100" x1="0.5" x2="1" spreadMethod="reflect"><stop offset="0.000" stop-color="#ee6843"/><stop offset="0.024" stop-color="#ed6642"/><stop offset="0.048" stop-color="#ec6441"/><stop offset="0.075" stop-color="#e6553a"/><stop offset="0.106" stop-color="#dd4231"/><stop offset="0.138" stop-color="#d32f29"/><stop offset="0.171" stop-color="#c8272b"/><stop offset="0.205" stop-color="#bc1f2e"/><stop offset="0.325" stop-color="#b41a2f"/><stop offset="0.445" stop-color="#ad1431"/><stop offset="0.722" stop-color="#ad1431"/><stop offset="1.000" stop-color="#ad1431"/></linearGradient><linearGradient id="h101" x1="0.5" x2="1" spreadMethod="reflect"><stop offset="0.000" stop-color="#ef6b44"/><stop offset="0.025" stop-color="#ef6944"/><stop offset="0.049" stop-color="#ee6743"/><stop offset="0.074" stop-color="#e6553a"/><stop offset="0.106" stop-color="#dd4231"/><stop offset="0.139" stop-color="#d32f29"/><stop offset="0.174" stop-color="#c8272b"/><stop offset="0.208" stop-color="#bc1f2e"/><stop offset="0.328" stop-color="#b41a2f"/><stop offset="0.448" stop-color="#ad1431"/><stop offset="0.724" stop-color="#ad1431"/><stop offset="1.000" stop-color="#ad1431"/></linearGradient><linearGradient id="h102" x1="0.5" x2="1" spreadMethod="reflect"><stop offset="0.000" stop-color="#ee6743"/><stop offset="0.023" stop-color="#ed6642"/><stop offset="0.046" stop-color="#ec6441"/><stop offset="0.067" stop-color="#e6553a"/><stop offset="0.098" stop-color="#dd4231"/><stop offset="0.130" stop-color="#d32f29"/><stop offset="0.163" stop-color="#c8272b"/><stop offset="0.196" stop-color="#bc1f2e"/><stop offset="0.316" stop-color="#b41a2f"/><stop offset="0.435" stop-color="#ad1431"/><stop offset="0.718" stop-color="#ad1431"/><stop offset="1.000" stop-color="#ad1431"/></linearGradient><linearGradient id="h103" x1="0.5" x2="1" spreadMethod="reflect"><stop offset="0.000" stop-color="#ed6542"/><stop offset="0.024" stop-color="#ec6441"/><stop offset="0.048" stop-color="#eb6240"/><stop offset="0.067" stop-color="#e6553a"/><stop offset="0.100" stop-color="#dd4231"/><stop offset="0.132" stop-color="#d32f29"/><stop offset="0.167" stop-color="#c8272b"/><stop offset="0.201" stop-color="#bc1f2e"/><stop offset="0.321" stop-color="#b41a2f"/><stop offset="0.441" stop-color="#ad1431"/><stop offset="0.720" stop-color="#ad1431"/><stop offset="1.000" stop-color="#ad1431"/></linearGradient><linearGradient id="h104" x1="0.5" x2="1" spreadMethod="reflect"><stop offset="0.000" stop-color="#ee6743"/><stop offset="0.022" stop-color="#ed6542"/><stop offset="0.044" stop-color="#ec6341"/><stop offset="0.061" stop-color="#e6553a"/><stop offset="0.092" stop-color="#dd4231"/><stop offset="0.123" stop-color="#d32f29"/><stop offset="0.155" stop-color="#c8272b"/><stop offset="0.188" stop-color="#bc1f2e"/><stop offset="0.307" stop-color="#b41a2f"/><stop offset="0.427" stop-color="#ad1431"/><stop offset="0.714" stop-color="#ad1431"/><stop offset="1.000" stop-color="#ad1431"/></linearGradient><linearGradient id="h105" x1="0.5" x2="1" spreadMethod="reflect"><stop offset="0.000" stop-color="#eb6240"/><stop offset="0.025" stop-color="#eb603f"/><stop offset="0.050" stop-color="#ea5e3f"/><stop offset="0.066" stop-color="#e6553a"/><stop offset="0.102" stop-color="#dd4231"/><stop offset="0.138" stop-color="#d32f29"/><stop offset="0.175" stop-color="#c8272b"/><stop offset="0.212" stop-color="#bc1f2e"/><stop offset="0.332" stop-color="#b41a2f"/><stop offset="0.452" stop-color="#ad1431"/><stop offset="0.726" stop-color="#ad1431"/><stop offset="1.000" stop-color="#ad1431"/></linearGradient><linearGradient id="h106" x1="0.5" x2="1" spreadMethod="reflect"><stop offset="0.000" stop-color="#ed6642"/><stop offset="0.023" stop-color="#ed6542"/><stop offset="0.046" stop-color="#ec6341"/><stop offset="0.058" stop-color="#e6553a"/><stop offset="0.092" stop-color="#dd4231"/><stop offset="0.125" stop-color="#d32f29"/><stop offset="0.159" stop-color="#c8272b"/><stop offset="0.193" stop-color="#bc1f2e"/><stop offset="0.313" stop-color="#b41a2f"/><stop offset="0.433" stop-color="#ad1431"/><stop offset="0.716" stop-color="#ad1431"/><stop offset="1.000" stop-color="#ad1431"/></linearGradient><linearGradient id="h107" x1="0.5" x2="1" spreadMethod="reflect"><stop offset="0.000" stop-color="#e95d3e"/><stop offset="0.022" stop-color="#e95c3d"/><stop offset="0.044" stop-color="#e85a3d"/><stop offset="0.054" stop-color="#e6553a"/><stop offset="0.087" stop-color="#dd4231"/><stop offset="0.120" stop-color="#d32f29"/><stop offset="0.153" stop-color="#c8272b"/><stop offset="0.187" stop-color="#bc1f2e"/><stop offset="0.307" stop-color="#b41a2f"/><stop offset="0.426" stop-color="#ad1431"/><stop offset="0.713" stop-color="#ad1431"/><stop offset="1.000" stop-color="#ad1431"/></linearGradient><linearGradient id="h108" x1="0.5" x2="1" spreadMethod="reflect"><stop offset="0.000" stop-color="#ec6341"/><stop offset="0.022" stop-color="#eb6140"/><stop offset="0.044" stop-color="#ea603f"/><stop offset="0.052" stop-color="#e6553a"/><stop offset="0.085" stop-color="#dd4231"/><stop offset="0.118" stop-color="#d32f29"/><stop offset="0.152" stop-color="#c8272b"/><stop offset="0.185" stop-color="#bc1f2e"/><stop offset="0.305" stop-color="#b41a2f"/><stop offset="0.425" stop-color="#ad1431"/><stop offset="0.712" stop-color="#ad1431"/><stop offset="1.000" stop-color="#ad1431"/></linearGradient><linearGradient id="h109" x1="0.5" x2="1" spreadMethod="reflect"><stop offset="0.000" stop-color="#ea5f3f"/><stop offset="0.024" stop-color="#e95d3e"/><stop offset="0.048" stop-color="#e95c3d"/><stop offset="0.055" stop-color="#e6553a"/><stop offset="0.092" stop-color="#dd4231"/><stop offset="0.129" stop-color="#d32f29"/><stop offset="0.166" stop-color="#c8272b"/><stop offset="0.204" stop-color="#bc1f2e"/><stop offset="0.323" stop-color="#b41a2f"/><stop offset="0.443" stop-color="#ad1431"/><stop offset="0.722" stop-color="#ad1431"/><stop offset="1.000" stop-color="#ad1431"/></linearGradient><linearGradient id="h110" x1="0.5" x2="1" spreadMethod="reflect"><stop offset="0.000" stop-color="#e85a3d"/><stop offset="0.024" stop-color="#e7593c"/><stop offset="0.047" stop-color="#e7573b"/><stop offset="0.086" stop-color="#dd4332"/><stop offset="0.125" stop-color="#d32f29"/><stop offset="0.162" stop-color="#c8272b"/><stop offset="0.199" stop-color="#bc1f2e"/><stop offset="0.319" stop-color="#b41a2f"/><stop offset="0.439" stop-color="#ad1431"/><stop offset="0.719" stop-color="#ad1431"/><stop offset="1.000" stop-color="#ad1431"/></linearGradient><linearGradient id="h111" x1="0.5" x2="1" spreadMethod="reflect"><stop offset="0.000" stop-color="#e95d3e"/><stop offset="0.024" stop-color="#e95b3d"/><stop offset="0.047" stop-color="#e85a3c"/><stop offset="0.086" stop-color="#de4432"/><stop offset="0.125" stop-color="#d32f29"/><stop offset="0.162" stop-color="#c8272b"/><stop offset="0.199" stop-color="#bc1f2e"/><stop offset="0.319" stop-color="#b41a2f"/><stop offset="0.439" stop-color="#ad1431"/><stop offset="0.719" stop-color="#ad1431"/><stop offset="1.000" stop-color="#ad1431"/></linearGradient><linearGradient id="h112" x1="0.5" x2="1" spreadMethod="reflect"><stop offset="0.000" stop-color="#e95c3d"/><stop offset="0.023" stop-color="#e85a3d"/><stop offset="0.046" stop-color="#e7583c"/><stop offset="0.084" stop-color="#de4332"/><stop offset="0.121" stop-color="#d32f29"/><stop offset="0.158" stop-color="#c8272b"/><stop offset="0.195" stop-color="#bc1f2e"/><stop offset="0.315" stop-color="#b41a2f"/><stop offset="0.434" stop-color="#ad1431"/><stop offset="0.717" stop-color="#ad1431"/><stop offset="1.000" stop-color="#ad1431"/></linearGradient><linearGradient id="h113" x1="0.5" x2="1" spreadMethod="reflect"><stop offset="0.000" stop-color="#e8593c"/><stop offset="0.023" stop-color="#e7583c"/><stop offset="0.046" stop-color="#e6563b"/><stop offset="0.082" stop-color="#dd4231"/><stop offset="0.118" stop-color="#d32f29"/><stop offset="0.155" stop-color="#c8272b"/><stop offset="0.191" stop-color="#bc1f2e"/><stop offset="0.311" stop-color="#b41a2f"/><stop offset="0.431" stop-color="#ad1431"/><stop offset="0.715" stop-color="#ad1431"/><stop offset="1.000" stop-color="#ad1431"/></linearGradient><linearGradient id="h114" x1="0.5" x2="1" spreadMethod="reflect"><stop offset="0.000" stop-color="#e85a3d"/><stop offset="0.022" stop-color="#e7593c"/><stop offset="0.043" stop-color="#e7573b"/><stop offset="0.077" stop-color="#dd4332"/><stop offset="0.111" stop-color="#d32f29"/><stop offset="0.146" stop-color="#c8272b"/><stop offset="0.181" stop-color="#bc1f2e"/><stop offset="0.301" stop-color="#b41a2f"/><stop offset="0.420" stop-color="#ad1431"/><stop offset="0.710" stop-color="#ad1431"/><stop offset="1.000" stop-color="#ad1431"/></linearGradient><linearGradient id="h115" x1="0.5" x2="1" spreadMethod="reflect"><stop offset="0.000" stop-color="#e95b3d"/><stop offset="0.022" stop-color="#e85a3d"/><stop offset="0.044" stop-color="#e7583c"/><stop offset="0.079" stop-color="#de4332"/><stop offset="0.113" stop-color="#d32f29"/><stop offset="0.149" stop-color="#c8272b"/><stop offset="0.186" stop-color="#bc1f2e"/><stop offset="0.305" stop-color="#b41a2f"/><stop offset="0.425" stop-color="#ad1431"/><stop offset="0.713" stop-color="#ad1431"/><stop offset="1.000" stop-color="#ad1431"/></linearGradient><linearGradient id="h116" x1="0.5" x2="1" spreadMethod="reflect"><stop offset="0.000" stop-color="#e85b3d"/><stop offset="0.024" stop-color="#e8593c"/><stop offset="0.048" stop-color="#e7583b"/><stop offset="0.085" stop-color="#dd4332"/><stop offset="0.121" stop-color="#d32f29"/><stop offset="0.161" stop-color="#c8272b"/><stop offset="0.200" stop-color="#bc1f2e"/><stop offset="0.320" stop-color="#b41a2f"/><stop offset="0.440" stop-color="#ad1431"/><stop offset="0.720" stop-color="#ad1431"/><stop offset="1.000" stop-color="#ad1431"/></linearGradient><linearGradient id="h117" x1="0.5" x2="1" spreadMethod="reflect"><stop offset="0.000" stop-color="#e6563b"/><stop offset="0.023" stop-color="#e5543a"/><stop offset="0.046" stop-color="#e55339"/><stop offset="0.080" stop-color="#dc4031"/><stop offset="0.114" stop-color="#d32f29"/><stop offset="0.152" stop-color="#c8272b"/><stop offset="0.190" stop-color="#bc1f2e"/><stop offset="0.310" stop-color="#b41a2f"/><stop offset="0.429" stop-color="#ad1431"/><stop offset="0.715" stop-color="#ad1431"/><stop offset="1.000" stop-color="#ad1431"/></linearGradient><linearGradient id="h118" x1="0.5" x2="1" spreadMethod="reflect"><stop offset="0.000" stop-color="#e7573b"/><stop offset="0.022" stop-color="#e6553a"/><stop offset="0.045" stop-color="#e5543a"/><stop offset="0.078" stop-color="#dd4131"/><stop offset="0.112" stop-color="#d32f29"/><stop offset="0.150" stop-color="#c8272b"/><stop offset="0.187" stop-color="#bc1f2e"/><stop offset="0.307" stop-color="#b41a2f"/><stop offset="0.427" stop-color="#ad1431"/><stop offset="0.713" stop-color="#ad1431"/><stop offset="1.000" stop-color="#ad1431"/></linearGradient><linearGradient id="h119" x1="0.5" x2="1" spreadMethod="reflect"><stop offset="0.000" stop-color="#e85a3d"/><stop offset="0.023" stop-color="#e7583c"/><stop offset="0.046" stop-color="#e6573b"/><stop offset="0.080" stop-color="#dd4232"/><stop offset="0.114" stop-color="#d32f29"/><stop offset="0.154" stop-color="#c8272b"/><stop offset="0.193" stop-color="#bc1f2e"/><stop offset="0.313" stop-color="#b41a2f"/><stop offset="0.433" stop-color="#ad1431"/><stop offset="0.716" stop-color="#ad1431"/><stop offset="1.000" stop-color="#ad1431"/></linearGradient><linearGradient id="h120" x1="0.5" x2="1" spreadMethod="reflect"><stop offset="0.000" stop-color="#e6553a"/><stop offset="0.021" stop-color="#e5543a"/><stop offset="0.043" stop-color="#e45239"/><stop offset="0.074" stop-color="#dc4031"/><stop offset="0.105" stop-color="#d32f29"/><stop offset="0.141" stop-color="#c8272b"/><stop offset="0.178" stop-color="#bc1f2e"/><stop offset="0.298" stop-color="#b41a2f"/><stop offset="0.418" stop-color="#ad1431"/><stop offset="0.709" stop-color="#ad1431"/><stop offset="1.000" stop-color="#ad1431"/></linearGradient><linearGradient id="h121" x1="0.5" x2="1" spreadMethod="reflect"><stop offset="0.000" stop-color="#e6563b"/><stop offset="0.023" stop-color="#e5553a"/><stop offset="0.045" stop-color="#e55339"/><stop offset="0.078" stop-color="#dc4131"/><stop offset="0.110" stop-color="#d32f29"/><stop offset="0.149" stop-color="#c8272b"/><stop offset="0.188" stop-color="#bc1f2e"/><stop offset="0.308" stop-color="#b41a2f"/><stop offset="0.428" stop-color="#ad1431"/><stop offset="0.714" stop-color="#ad1431"/><stop offset="1.000" stop-color="#ad1431"/></linearGradient><linearGradient id="h122" x1="0.5" x2="1" spreadMethod="reflect"><stop offset="0.000" stop-color="#e6563b"/><stop offset="0.024" stop-color="#e5543a"/><stop offset="0.048" stop-color="#e55339"/><stop offset="0.081" stop-color="#dc4031"/><stop offset="0.115" stop-color="#d32f29"/><stop offset="0.156" stop-color="#c8272b"/><stop offset="0.198" stop-color="#bc1f2e"/><stop offset="0.318" stop-color="#b41a2f"/><stop offset="0.438" stop-color="#ad1431"/><stop offset="0.719" stop-color="#ad1431"/><stop offset="1.000" stop-color="#ad1431"/></linearGradient><linearGradient id="h123" x1="0.5" x2="1" spreadMethod="reflect"><stop offset="0.000" stop-color="#e5543a"/><stop offset="0.023" stop-color="#e55339"/><stop offset="0.046" stop-color="#e45239"/><stop offset="0.078" stop-color="#dc4030"/><stop offset="0.109" stop-color="#d32f29"/><stop offset="0.150" stop-color="#c8272b"/><stop offset="0.190" stop-color="#bc1f2e"/><stop offset="0.310" stop-color="#b41a2f"/><stop offset="0.430" stop-color="#ad1431"/><stop offset="0.715" stop-color="#ad1431"/><stop offset="1.000" stop-color="#ad1431"/></linearGradient><linearGradient id="h124" x1="0.5" x2="1" spreadMethod="reflect"><stop offset="0.000" stop-color="#e5543a"/><stop offset="0.023" stop-color="#e55339"/><stop offset="0.046" stop-color="#e45139"/><stop offset="0.077" stop-color="#dc4030"/><stop offset="0.109" stop-color="#d32f29"/><stop offset="0.150" stop-color="#c8272b"/><stop offset="0.191" stop-color="#bc1f2e"/><stop offset="0.311" stop-color="#b41a2f"/><stop offset="0.430" stop-color="#ad1431"/><stop offset="0.715" stop-color="#ad1431"/><stop offset="1.000" stop-color="#ad1431"/></linearGradient><linearGradient id="h125" x1="0.5" x2="1" spreadMethod="reflect"><stop offset="0.000" stop-color="#e45239"/><stop offset="0.023" stop-color="#e45138"/><stop offset="0.046" stop-color="#e34f38"/><stop offset="0.077" stop-color="#dc3f30"/><stop offset="0.108" stop-color="#d32f29"/><stop offset="0.149" stop-color="#c8272b"/><stop offset="0.191" stop-color="#bc1f2e"/><stop offset="0.311" stop-color="#b41a2f"/><stop offset="0.430" stop-color="#ad1431"/><stop offset="0.715" stop-color="#ad1431"/><stop offset="1.000" stop-color="#ad1431"/></linearGradient><linearGradient id="h126" x1="0.5" x2="1" spreadMethod="reflect"><stop offset="0.000" stop-color="#e5543a"/><stop offset="0.022" stop-color="#e45239"/><stop offset="0.043" stop-color="#e45138"/><stop offset="0.072" stop-color="#dc3f30"/><stop offset="0.101" stop-color="#d32f29"/><stop offset="0.139" stop-color="#c8272b"/><stop offset="0.178" stop-color="#bc1f2e"/><stop offset="0.298" stop-color="#b41a2f"/><stop offset="0.417" stop-color="#ad1431"/><stop offset="0.709" stop-color="#ad1431"/><stop offset="1.000" stop-color="#ad1431"/></linearGradient><linearGradient id="h127" x1="0.5" x2="1" spreadMethod="reflect"><stop offset="0.000" stop-color="#e45139"/><stop offset="0.022" stop-color="#e35038"/><stop offset="0.044" stop-color="#e34e37"/><stop offset="0.073" stop-color="#db3e30"/><stop offset="0.102" stop-color="#d32f29"/><stop offset="0.141" stop-color="#c8272b"/><stop offset="0.180" stop-color="#bc1f2e"/><stop offset="0.300" stop-color="#b41a2f"/><stop offset="0.420" stop-color="#ad1431"/><stop offset="0.710" stop-color="#ad1431"/><stop offset="1.000" stop-color="#ad1431"/></linearGradient><linearGradient id="h128" x1="0.5" x2="1" spreadMethod="reflect"><stop offset="0.000" stop-color="#e5543a"/><stop offset="0.023" stop-color="#e55239"/><stop offset="0.047" stop-color="#e45138"/><stop offset="0.077" stop-color="#dc4030"/><stop offset="0.108" stop-color="#d32f29"/><stop offset="0.149" stop-color="#c8272b"/><stop offset="0.190" stop-color="#bc1f2e"/><stop offset="0.310" stop-color="#b41a2f"/><stop offset="0.429" stop-color="#ad1431"/><stop offset="0.715" stop-color="#ad1431"/><stop offset="1.000" stop-color="#ad1431"/></linearGradient><linearGradient id="h129" x1="0.5" x2="1" spreadMethod="reflect"><stop offset="0.000" stop-color="#e24d36"/><stop offset="0.024" stop-color="#e14b36"/><stop offset="0.048" stop-color="#e14a35"/><stop offset="0.079" stop-color="#da3c2f"/><stop offset="0.109" stop-color="#d32f29"/><stop offset="0.151" stop-color="#c8272b"/><stop offset="0.193" stop-color="#bc1f2e"/><stop offset="0.312" stop-color="#b41a2f"/><stop offset="0.432" stop-color="#ad1431"/><stop offset="0.716" stop-color="#ad1431"/><stop offset="1.000" stop-color="#ad1431"/></linearGradient><linearGradient id="h130" x1="0.5" x2="1" spreadMethod="reflect"><stop offset="0.000" stop-color="#e34f37"/><stop offset="0.022" stop-color="#e24e37"/><stop offset="0.044" stop-color="#e24c36"/><stop offset="0.071" stop-color="#db3d2f"/><stop offset="0.099" stop-color="#d32f29"/><stop offset="0.136" stop-color="#c8272b"/><stop offset="0.174" stop-color="#bc1f2e"/><stop offset="0.294" stop-color="#b41a2f"/><stop offset="0.414" stop-color="#ad1431"/><stop offset="0.707" stop-color="#ad1431"/><stop offset="1.000" stop-color="#ad1431"/></linearGradient><linearGradient id="h131" x1="0.5" x2="1" spreadMethod="reflect"><stop offset="0.000" stop-color="#e24e37"/><stop offset="0.022" stop-color="#e24c36"/><stop offset="0.044" stop-color="#e14b36"/><stop offset="0.072" stop-color="#db3d2f"/><stop offset="0.099" stop-color="#d32f29"/><stop offset="0.137" stop-color="#c8272b"/><stop offset="0.175" stop-color="#bc1f2e"/><stop offset="0.295" stop-color="#b41a2f"/><stop offset="0.414" stop-color="#ad1431"/><stop offset="0.707" stop-color="#ad1431"/><stop offset="1.000" stop-color="#ad1431"/></linearGradient><linearGradient id="h132" x1="0.5" x2="1" spreadMethod="reflect"><stop offset="0.000" stop-color="#e24d37"/><stop offset="0.023" stop-color="#e24c36"/><stop offset="0.045" stop-color="#e14b35"/><stop offset="0.073" stop-color="#db3c2f"/><stop offset="0.101" stop-color="#d32f29"/><stop offset="0.139" stop-color="#c8272b"/><stop offset="0.177" stop-color="#bc1f2e"/><stop offset="0.297" stop-color="#b41a2f"/><stop offset="0.417" stop-color="#ad1431"/><stop offset="0.708" stop-color="#ad1431"/><stop offset="1.000" stop-color="#ad1431"/></linearGradient><linearGradient id="h133" x1="0.5" x2="1" spreadMethod="reflect"><stop offset="0.000" stop-color="#e5543a"/><stop offset="0.022" stop-color="#e45239"/><stop offset="0.044" stop-color="#e45138"/><stop offset="0.070" stop-color="#dc3f30"/><stop offset="0.097" stop-color="#d32f29"/><stop offset="0.133" stop-color="#c8272b"/><stop offset="0.170" stop-color="#bc1f2e"/><stop offset="0.290" stop-color="#b41a2f"/><stop offset="0.409" stop-color="#ad1431"/><stop offset="0.705" stop-color="#ad1431"/><stop offset="1.000" stop-color="#ad1431"/></linearGradient><linearGradient id="h134" x1="0.5" x2="1" spreadMethod="reflect"><stop offset="0.000" stop-color="#e35038"/><stop offset="0.023" stop-color="#e34f37"/><stop offset="0.046" stop-color="#e24d37"/><stop offset="0.074" stop-color="#db3e2f"/><stop offset="0.102" stop-color="#d32f29"/><stop offset="0.141" stop-color="#c8272b"/><stop offset="0.179" stop-color="#bc1f2e"/><stop offset="0.299" stop-color="#b41a2f"/><stop offset="0.419" stop-color="#ad1431"/><stop offset="0.709" stop-color="#ad1431"/><stop offset="1.000" stop-color="#ad1431"/></linearGradient><linearGradient id="h135" x1="0.5" x2="1" spreadMethod="reflect"><stop offset="0.000" stop-color="#e5543a"/><stop offset="0.021" stop-color="#e45239"/><stop offset="0.042" stop-color="#e45138"/><stop offset="0.067" stop-color="#dc3f30"/><stop offset="0.093" stop-color="#d32f29"/><stop offset="0.127" stop-color="#c8272b"/><stop offset="0.162" stop-color="#bc1f2e"/><stop offset="0.282" stop-color="#b41a2f"/><stop offset="0.402" stop-color="#ad1431"/><stop offset="0.701" stop-color="#ad1431"/><stop offset="1.000" stop-color="#ad1431"/></linearGradient><linearGradient id="h136" x1="0.5" x2="1" spreadMethod="reflect"><stop offset="0.000" stop-color="#e34e37"/><stop offset="0.023" stop-color="#e24d36"/><stop offset="0.046" stop-color="#e14c36"/><stop offset="0.073" stop-color="#db3d2f"/><stop offset="0.100" stop-color="#d32f29"/><stop offset="0.138" stop-color="#c8272b"/><stop offset="0.175" stop-color="#bc1f2e"/><stop offset="0.295" stop-color="#b41a2f"/><stop offset="0.415" stop-color="#ad1431"/><stop offset="0.707" stop-color="#ad1431"/><stop offset="1.000" stop-color="#ad1431"/></linearGradient><linearGradient id="h137" x1="0.5" x2="1" spreadMethod="reflect"><stop offset="0.000" stop-color="#e45239"/><stop offset="0.022" stop-color="#e35038"/><stop offset="0.044" stop-color="#e34f37"/><stop offset="0.069" stop-color="#db3e30"/><stop offset="0.094" stop-color="#d32f29"/><stop offset="0.130" stop-color="#c8272b"/><stop offset="0.165" stop-color="#bc1f2e"/><stop offset="0.285" stop-color="#b41a2f"/><stop offset="0.405" stop-color="#ad1431"/><stop offset="0.702" stop-color="#ad1431"/><stop offset="1.000" stop-color="#ad1431"/></linearGradient><linearGradient id="h138" x1="0.5" x2="1" spreadMethod="reflect"><stop offset="0.000" stop-color="#e34f37"/><stop offset="0.023" stop-color="#e24d37"/><stop offset="0.046" stop-color="#e24c36"/><stop offset="0.072" stop-color="#db3d2f"/><stop offset="0.098" stop-color="#d32f29"/><stop offset="0.135" stop-color="#c8272b"/><stop offset="0.172" stop-color="#bc1f2e"/><stop offset="0.292" stop-color="#b41a2f"/><stop offset="0.412" stop-color="#ad1431"/><stop offset="0.706" stop-color="#ad1431"/><stop offset="1.000" stop-color="#ad1431"/></linearGradient></defs>
<rect x="505.4" y="546.5" width="66.8" height="2.6" fill="url(#h1)" shape-rendering="crispEdges"/>
<rect x="505.4" y="548.5" width="66.8" height="2.6" fill="url(#h2)" shape-rendering="crispEdges"/>
<rect x="505.4" y="550.5" width="66.8" height="2.6" fill="url(#h3)" shape-rendering="crispEdges"/>
<rect x="505.4" y="552.5" width="66.8" height="2.6" fill="url(#h4)" shape-rendering="crispEdges"/>
<rect x="505.4" y="554.5" width="66.8" height="2.6" fill="url(#h5)" shape-rendering="crispEdges"/>
<rect x="505.4" y="556.5" width="66.8" height="2.6" fill="url(#h6)" shape-rendering="crispEdges"/>
<rect x="505.4" y="558.5" width="66.8" height="2.6" fill="url(#h7)" shape-rendering="crispEdges"/>
<rect x="505.4" y="560.5" width="66.8" height="2.6" fill="url(#h8)" shape-rendering="crispEdges"/>
<rect x="505.4" y="562.5" width="66.8" height="2.6" fill="url(#h9)" shape-rendering="crispEdges"/>
<rect x="505.4" y="564.5" width="66.8" height="2.6" fill="url(#h10)" shape-rendering="crispEdges"/>
<rect x="505.4" y="566.5" width="66.8" height="2.6" fill="url(#h11)" shape-rendering="crispEdges"/>
<rect x="505.4" y="568.5" width="66.8" height="2.6" fill="url(#h12)" shape-rendering="crispEdges"/>
<rect x="505.4" y="570.5" width="66.8" height="2.6" fill="url(#h13)" shape-rendering="crispEdges"/>
<rect x="505.4" y="572.5" width="66.8" height="2.6" fill="url(#h14)" shape-rendering="crispEdges"/>
<rect x="505.4" y="574.5" width="66.8" height="2.6" fill="url(#h15)" shape-rendering="crispEdges"/>
<rect x="505.4" y="576.5" width="66.8" height="1.3" fill="url(#h16)" shape-rendering="crispEdges"/>
<rect x="505.4" y="578.9" width="66.8" height="2.8" fill="url(#h17)" shape-rendering="crispEdges"/>
<rect x="505.4" y="581.1" width="66.8" height="3.1" fill="url(#h18)" shape-rendering="crispEdges"/>
<rect x="505.4" y="583.6" width="66.8" height="3.1" fill="url(#h19)" shape-rendering="crispEdges"/>
<rect x="505.4" y="586.1" width="66.8" height="3.1" fill="url(#h20)" shape-rendering="crispEdges"/>
<rect x="505.4" y="588.6" width="66.8" height="3.1" fill="url(#h21)" shape-rendering="crispEdges"/>
<rect x="505.4" y="591.1" width="66.8" height="3.1" fill="url(#h22)" shape-rendering="crispEdges"/>
<rect x="505.4" y="593.6" width="66.8" height="3.1" fill="url(#h23)" shape-rendering="crispEdges"/>
<rect x="505.4" y="596.1" width="66.8" height="3.1" fill="url(#h24)" shape-rendering="crispEdges"/>
<rect x="505.4" y="598.6" width="66.8" height="3.1" fill="url(#h25)" shape-rendering="crispEdges"/>
<rect x="505.4" y="601.1" width="66.8" height="3.1" fill="url(#h26)" shape-rendering="crispEdges"/>
<rect x="505.4" y="603.6" width="66.8" height="3.1" fill="url(#h27)" shape-rendering="crispEdges"/>
<rect x="505.4" y="606.1" width="66.8" height="3.1" fill="url(#h28)" shape-rendering="crispEdges"/>
<rect x="505.4" y="608.6" width="66.8" height="3.1" fill="url(#h29)" shape-rendering="crispEdges"/>
<rect x="505.4" y="611.1" width="66.8" height="3.1" fill="url(#h30)" shape-rendering="crispEdges"/>
<rect x="505.4" y="613.6" width="66.8" height="3.1" fill="url(#h31)" shape-rendering="crispEdges"/>
<rect x="505.4" y="616.1" width="66.8" height="3.1" fill="url(#h32)" shape-rendering="crispEdges"/>
<rect x="505.4" y="618.6" width="66.8" height="3.1" fill="url(#h33)" shape-rendering="crispEdges"/>
<rect x="505.4" y="621.1" width="66.8" height="3.1" fill="url(#h34)" shape-rendering="crispEdges"/>
<rect x="505.4" y="623.6" width="66.8" height="3.1" fill="url(#h35)" shape-rendering="crispEdges"/>
<rect x="505.4" y="626.1" width="66.8" height="3.1" fill="url(#h36)" shape-rendering="crispEdges"/>
<rect x="505.4" y="628.6" width="66.8" height="3.1" fill="url(#h37)" shape-rendering="crispEdges"/>
<rect x="505.4" y="631.1" width="66.8" height="3.1" fill="url(#h38)" shape-rendering="crispEdges"/>
<rect x="505.4" y="633.6" width="66.8" height="3.1" fill="url(#h39)" shape-rendering="crispEdges"/>
<rect x="505.4" y="636.1" width="66.8" height="3.1" fill="url(#h40)" shape-rendering="crispEdges"/>
<rect x="505.4" y="638.6" width="66.8" height="3.1" fill="url(#h41)" shape-rendering="crispEdges"/>
<rect x="505.4" y="641.1" width="66.8" height="3.1" fill="url(#h42)" shape-rendering="crispEdges"/>
<rect x="505.4" y="643.6" width="66.8" height="3.1" fill="url(#h43)" shape-rendering="crispEdges"/>
<rect x="505.4" y="646.1" width="66.8" height="3.1" fill="url(#h44)" shape-rendering="crispEdges"/>
<rect x="505.4" y="648.6" width="66.8" height="3.1" fill="url(#h45)" shape-rendering="crispEdges"/>
<rect x="505.4" y="651.1" width="66.8" height="3.1" fill="url(#h46)" shape-rendering="crispEdges"/>
<rect x="505.4" y="653.6" width="66.8" height="3.1" fill="url(#h47)" shape-rendering="crispEdges"/>
<rect x="505.4" y="656.1" width="66.8" height="3.1" fill="url(#h48)" shape-rendering="crispEdges"/>
<rect x="505.4" y="658.6" width="66.8" height="3.1" fill="url(#h49)" shape-rendering="crispEdges"/>
<rect x="505.4" y="661.1" width="66.8" height="3.1" fill="url(#h50)" shape-rendering="crispEdges"/>
<rect x="505.4" y="663.6" width="66.8" height="3.1" fill="url(#h51)" shape-rendering="crispEdges"/>
<rect x="505.4" y="666.1" width="66.8" height="3.1" fill="url(#h52)" shape-rendering="crispEdges"/>
<rect x="505.4" y="668.6" width="66.8" height="3.1" fill="url(#h53)" shape-rendering="crispEdges"/>
<rect x="505.4" y="671.1" width="66.8" height="3.1" fill="url(#h54)" shape-rendering="crispEdges"/>
<rect x="505.4" y="673.6" width="66.8" height="3.1" fill="url(#h55)" shape-rendering="crispEdges"/>
<rect x="505.4" y="676.1" width="66.8" height="3.1" fill="url(#h56)" shape-rendering="crispEdges"/>
<rect x="505.4" y="678.6" width="66.8" height="3.1" fill="url(#h57)" shape-rendering="crispEdges"/>
<rect x="505.4" y="681.1" width="66.8" height="1.7" fill="url(#h58)" shape-rendering="crispEdges"/>
<rect x="505.4" y="684.2" width="66.8" height="2.8" fill="url(#h59)" shape-rendering="crispEdges"/>
<rect x="505.4" y="686.4" width="66.8" height="3.6" fill="url(#h60)" shape-rendering="crispEdges"/>
<rect x="505.4" y="689.4" width="66.8" height="4.1" fill="url(#h61)" shape-rendering="crispEdges"/>
<rect x="505.4" y="692.9" width="66.8" height="4.6" fill="url(#h62)" shape-rendering="crispEdges"/>
<rect x="505.4" y="696.9" width="66.8" height="4.6" fill="url(#h63)" shape-rendering="crispEdges"/>
<rect x="505.4" y="700.9" width="66.8" height="4.6" fill="url(#h64)" shape-rendering="crispEdges"/>
<rect x="505.4" y="704.9" width="66.8" height="4.1" fill="url(#h65)" shape-rendering="crispEdges"/>
<rect x="505.4" y="708.4" width="66.8" height="4.1" fill="url(#h66)" shape-rendering="crispEdges"/>
<rect x="505.4" y="711.9" width="66.8" height="4.1" fill="url(#h67)" shape-rendering="crispEdges"/>
<rect x="505.4" y="715.4" width="66.8" height="4.1" fill="url(#h68)" shape-rendering="crispEdges"/>
<rect x="505.4" y="718.9" width="66.8" height="4.1" fill="url(#h69)" shape-rendering="crispEdges"/>
<rect x="505.4" y="722.4" width="66.8" height="4.1" fill="url(#h70)" shape-rendering="crispEdges"/>
<rect x="505.4" y="725.9" width="66.8" height="4.1" fill="url(#h71)" shape-rendering="crispEdges"/>
<rect x="505.4" y="729.4" width="66.8" height="4.1" fill="url(#h72)" shape-rendering="crispEdges"/>
<rect x="505.4" y="732.9" width="66.8" height="4.1" fill="url(#h73)" shape-rendering="crispEdges"/>
<rect x="505.4" y="736.4" width="66.8" height="4.1" fill="url(#h74)" shape-rendering="crispEdges"/>
<rect x="505.4" y="739.9" width="66.8" height="4.1" fill="url(#h75)" shape-rendering="crispEdges"/>
<rect x="505.4" y="743.4" width="66.8" height="4.1" fill="url(#h76)" shape-rendering="crispEdges"/>
<rect x="505.4" y="746.9" width="66.8" height="4.1" fill="url(#h77)" shape-rendering="crispEdges"/>
<rect x="505.4" y="750.4" width="66.8" height="4.1" fill="url(#h78)" shape-rendering="crispEdges"/>
<rect x="505.4" y="753.9" width="66.8" height="4.1" fill="url(#h79)" shape-rendering="crispEdges"/>
<rect x="505.4" y="757.4" width="66.8" height="4.1" fill="url(#h80)" shape-rendering="crispEdges"/>
<rect x="505.4" y="760.9" width="66.8" height="4.1" fill="url(#h81)" shape-rendering="crispEdges"/>
<rect x="505.4" y="764.4" width="66.8" height="4.1" fill="url(#h82)" shape-rendering="crispEdges"/>
<rect x="505.4" y="767.9" width="66.8" height="4.1" fill="url(#h83)" shape-rendering="crispEdges"/>
<rect x="505.4" y="771.4" width="66.8" height="4.1" fill="url(#h84)" shape-rendering="crispEdges"/>
<rect x="505.4" y="774.9" width="66.8" height="4.1" fill="url(#h85)" shape-rendering="crispEdges"/>
<rect x="505.4" y="778.4" width="66.8" height="4.1" fill="url(#h86)" shape-rendering="crispEdges"/>
<rect x="505.4" y="781.9" width="66.8" height="4.1" fill="url(#h87)" shape-rendering="crispEdges"/>
<rect x="505.4" y="785.4" width="66.8" height="4.1" fill="url(#h88)" shape-rendering="crispEdges"/>
<rect x="505.4" y="788.9" width="66.8" height="4.1" fill="url(#h89)" shape-rendering="crispEdges"/>
<rect x="505.4" y="792.4" width="66.8" height="4.1" fill="url(#h90)" shape-rendering="crispEdges"/>
<rect x="505.4" y="795.9" width="66.8" height="4.1" fill="url(#h91)" shape-rendering="crispEdges"/>
<rect x="505.4" y="799.4" width="66.8" height="4.1" fill="url(#h92)" shape-rendering="crispEdges"/>
<rect x="505.4" y="802.9" width="66.8" height="4.1" fill="url(#h93)" shape-rendering="crispEdges"/>
<rect x="505.4" y="806.4" width="66.8" height="4.1" fill="url(#h94)" shape-rendering="crispEdges"/>
<rect x="505.4" y="809.9" width="66.8" height="4.1" fill="url(#h95)" shape-rendering="crispEdges"/>
<rect x="505.4" y="813.4" width="66.8" height="4.1" fill="url(#h96)" shape-rendering="crispEdges"/>
<rect x="505.4" y="816.9" width="66.8" height="4.1" fill="url(#h97)" shape-rendering="crispEdges"/>
<rect x="505.4" y="820.4" width="66.8" height="4.1" fill="url(#h98)" shape-rendering="crispEdges"/>
<rect x="505.4" y="823.9" width="66.8" height="4.1" fill="url(#h99)" shape-rendering="crispEdges"/>
<rect x="505.4" y="827.4" width="66.8" height="4.1" fill="url(#h100)" shape-rendering="crispEdges"/>
<rect x="505.4" y="830.9" width="66.8" height="4.1" fill="url(#h101)" shape-rendering="crispEdges"/>
<rect x="505.4" y="834.4" width="66.8" height="4.1" fill="url(#h102)" shape-rendering="crispEdges"/>
<rect x="505.4" y="837.9" width="66.8" height="4.1" fill="url(#h103)" shape-rendering="crispEdges"/>
<rect x="505.4" y="841.4" width="66.8" height="4.1" fill="url(#h104)" shape-rendering="crispEdges"/>
<rect x="505.4" y="844.9" width="66.8" height="4.1" fill="url(#h105)" shape-rendering="crispEdges"/>
<rect x="505.4" y="848.4" width="66.8" height="4.1" fill="url(#h106)" shape-rendering="crispEdges"/>
<rect x="505.4" y="851.9" width="66.8" height="4.1" fill="url(#h107)" shape-rendering="crispEdges"/>
<rect x="505.4" y="855.4" width="66.8" height="4.1" fill="url(#h108)" shape-rendering="crispEdges"/>
<rect x="505.4" y="858.9" width="66.8" height="4.1" fill="url(#h109)" shape-rendering="crispEdges"/>
<rect x="505.4" y="862.4" width="66.8" height="4.1" fill="url(#h110)" shape-rendering="crispEdges"/>
<rect x="505.4" y="865.9" width="66.8" height="4.1" fill="url(#h111)" shape-rendering="crispEdges"/>
<rect x="505.4" y="869.4" width="66.8" height="4.1" fill="url(#h112)" shape-rendering="crispEdges"/>
<rect x="505.4" y="872.9" width="66.8" height="4.1" fill="url(#h113)" shape-rendering="crispEdges"/>
<rect x="505.4" y="876.4" width="66.8" height="4.1" fill="url(#h114)" shape-rendering="crispEdges"/>
<rect x="505.4" y="879.9" width="66.8" height="4.1" fill="url(#h115)" shape-rendering="crispEdges"/>
<rect x="505.4" y="883.4" width="66.8" height="4.1" fill="url(#h116)" shape-rendering="crispEdges"/>
<rect x="505.4" y="886.9" width="66.8" height="4.1" fill="url(#h117)" shape-rendering="crispEdges"/>
<rect x="505.4" y="890.4" width="66.8" height="4.1" fill="url(#h118)" shape-rendering="crispEdges"/>
<rect x="505.4" y="893.9" width="66.8" height="4.1" fill="url(#h119)" shape-rendering="crispEdges"/>
<rect x="505.4" y="897.4" width="66.8" height="4.1" fill="url(#h120)" shape-rendering="crispEdges"/>
<rect x="505.4" y="900.9" width="66.8" height="4.1" fill="url(#h121)" shape-rendering="crispEdges"/>
<rect x="505.4" y="904.4" width="66.8" height="4.1" fill="url(#h122)" shape-rendering="crispEdges"/>
<rect x="505.4" y="907.9" width="66.8" height="4.1" fill="url(#h123)" shape-rendering="crispEdges"/>
<rect x="505.4" y="911.4" width="66.8" height="4.1" fill="url(#h124)" shape-rendering="crispEdges"/>
<rect x="505.4" y="914.9" width="66.8" height="4.1" fill="url(#h125)" shape-rendering="crispEdges"/>
<rect x="505.4" y="918.4" width="66.8" height="4.1" fill="url(#h126)" shape-rendering="crispEdges"/>
<rect x="505.4" y="921.9" width="66.8" height="4.1" fill="url(#h127)" shape-rendering="crispEdges"/>
<rect x="505.4" y="925.4" width="66.8" height="4.1" fill="url(#h128)" shape-rendering="crispEdges"/>
<rect x="505.4" y="928.9" width="66.8" height="4.1" fill="url(#h129)" shape-rendering="crispEdges"/>
<rect x="505.4" y="932.4" width="66.8" height="4.1" fill="url(#h130)" shape-rendering="crispEdges"/>
<rect x="505.4" y="935.9" width="66.8" height="4.1" fill="url(#h131)" shape-rendering="crispEdges"/>
<rect x="505.4" y="939.4" width="66.8" height="4.1" fill="url(#h132)" shape-rendering="crispEdges"/>
<rect x="505.4" y="942.9" width="66.8" height="4.1" fill="url(#h133)" shape-rendering="crispEdges"/>
<rect x="505.4" y="946.4" width="66.8" height="4.1" fill="url(#h134)" shape-rendering="crispEdges"/>
<rect x="505.4" y="949.9" width="66.8" height="4.1" fill="url(#h135)" shape-rendering="crispEdges"/>
<rect x="505.4" y="953.4" width="66.8" height="4.1" fill="url(#h136)" shape-rendering="crispEdges"/>
<rect x="505.4" y="956.9" width="66.8" height="4.1" fill="url(#h137)" shape-rendering="crispEdges"/>
<rect x="505.4" y="960.4" width="66.8" height="2.1" fill="url(#h138)" shape-rendering="crispEdges"/>
<rect x="505.4" y="546.5" width="66.8" height="30.7" fill="none" stroke="#777" stroke-width="0.6"/>
<rect x="505.4" y="578.9" width="66.8" height="103.3" fill="none" stroke="#777" stroke-width="0.6"/>
<rect x="505.4" y="684.2" width="66.8" height="277.7" fill="none" stroke="#777" stroke-width="0.6"/>
<line x1="505.4" y1="961.9" x2="505.4" y2="964.5" stroke="#666" stroke-width="0.7" />
<line x1="538.8" y1="961.9" x2="538.8" y2="964.5" stroke="#666" stroke-width="0.7" />
<line x1="572.2" y1="961.9" x2="572.2" y2="964.5" stroke="#666" stroke-width="0.7" />
<text x="538.8" y="539.82" font-size="8.4" text-anchor="middle" fill="#333">Center</text>
<text x="506" y="972.12" font-size="7" text-anchor="start" fill="#333" textLength="11.3" lengthAdjust="spacingAndGlyphs">−1.0</text>
<text x="528.8" y="972.12" font-size="7" text-anchor="start" fill="#333" textLength="20.3" lengthAdjust="spacingAndGlyphs">Center</text>
<text x="553.6" y="972.12" font-size="7" text-anchor="start" fill="#333" textLength="18.1" lengthAdjust="spacingAndGlyphs">1.0 Kb</text>
<text x="538.8" y="983.2" font-size="8.6" text-anchor="middle" fill="#333" textLength="52.6" lengthAdjust="spacingAndGlyphs">Gene distance</text>
<text x="538.8" y="992.4" font-size="8.6" text-anchor="middle" fill="#333">(bp)</text>
<rect x="575.8" y="546.5" width="66.8" height="2.6" fill="url(#h1)" shape-rendering="crispEdges"/>
<rect x="575.8" y="548.5" width="66.8" height="2.6" fill="url(#h2)" shape-rendering="crispEdges"/>
<rect x="575.8" y="550.5" width="66.8" height="2.6" fill="url(#h3)" shape-rendering="crispEdges"/>
<rect x="575.8" y="552.5" width="66.8" height="2.6" fill="url(#h4)" shape-rendering="crispEdges"/>
<rect x="575.8" y="554.5" width="66.8" height="2.6" fill="url(#h5)" shape-rendering="crispEdges"/>
<rect x="575.8" y="556.5" width="66.8" height="2.6" fill="url(#h6)" shape-rendering="crispEdges"/>
<rect x="575.8" y="558.5" width="66.8" height="2.6" fill="url(#h7)" shape-rendering="crispEdges"/>
<rect x="575.8" y="560.5" width="66.8" height="2.6" fill="url(#h8)" shape-rendering="crispEdges"/>
<rect x="575.8" y="562.5" width="66.8" height="2.6" fill="url(#h9)" shape-rendering="crispEdges"/>
<rect x="575.8" y="564.5" width="66.8" height="2.6" fill="url(#h10)" shape-rendering="crispEdges"/>
<rect x="575.8" y="566.5" width="66.8" height="2.6" fill="url(#h11)" shape-rendering="crispEdges"/>
<rect x="575.8" y="568.5" width="66.8" height="2.6" fill="url(#h12)" shape-rendering="crispEdges"/>
<rect x="575.8" y="570.5" width="66.8" height="2.6" fill="url(#h13)" shape-rendering="crispEdges"/>
<rect x="575.8" y="572.5" width="66.8" height="2.6" fill="url(#h14)" shape-rendering="crispEdges"/>
<rect x="575.8" y="574.5" width="66.8" height="2.6" fill="url(#h15)" shape-rendering="crispEdges"/>
<rect x="575.8" y="576.5" width="66.8" height="1.3" fill="url(#h16)" shape-rendering="crispEdges"/>
<rect x="575.8" y="578.9" width="66.8" height="2.8" fill="url(#h17)" shape-rendering="crispEdges"/>
<rect x="575.8" y="581.1" width="66.8" height="3.1" fill="url(#h18)" shape-rendering="crispEdges"/>
<rect x="575.8" y="583.6" width="66.8" height="3.1" fill="url(#h19)" shape-rendering="crispEdges"/>
<rect x="575.8" y="586.1" width="66.8" height="3.1" fill="url(#h20)" shape-rendering="crispEdges"/>
<rect x="575.8" y="588.6" width="66.8" height="3.1" fill="url(#h21)" shape-rendering="crispEdges"/>
<rect x="575.8" y="591.1" width="66.8" height="3.1" fill="url(#h22)" shape-rendering="crispEdges"/>
<rect x="575.8" y="593.6" width="66.8" height="3.1" fill="url(#h23)" shape-rendering="crispEdges"/>
<rect x="575.8" y="596.1" width="66.8" height="3.1" fill="url(#h24)" shape-rendering="crispEdges"/>
<rect x="575.8" y="598.6" width="66.8" height="3.1" fill="url(#h25)" shape-rendering="crispEdges"/>
<rect x="575.8" y="601.1" width="66.8" height="3.1" fill="url(#h26)" shape-rendering="crispEdges"/>
<rect x="575.8" y="603.6" width="66.8" height="3.1" fill="url(#h27)" shape-rendering="crispEdges"/>
<rect x="575.8" y="606.1" width="66.8" height="3.1" fill="url(#h28)" shape-rendering="crispEdges"/>
<rect x="575.8" y="608.6" width="66.8" height="3.1" fill="url(#h29)" shape-rendering="crispEdges"/>
<rect x="575.8" y="611.1" width="66.8" height="3.1" fill="url(#h30)" shape-rendering="crispEdges"/>
<rect x="575.8" y="613.6" width="66.8" height="3.1" fill="url(#h31)" shape-rendering="crispEdges"/>
<rect x="575.8" y="616.1" width="66.8" height="3.1" fill="url(#h32)" shape-rendering="crispEdges"/>
<rect x="575.8" y="618.6" width="66.8" height="3.1" fill="url(#h33)" shape-rendering="crispEdges"/>
<rect x="575.8" y="621.1" width="66.8" height="3.1" fill="url(#h34)" shape-rendering="crispEdges"/>
<rect x="575.8" y="623.6" width="66.8" height="3.1" fill="url(#h35)" shape-rendering="crispEdges"/>
<rect x="575.8" y="626.1" width="66.8" height="3.1" fill="url(#h36)" shape-rendering="crispEdges"/>
<rect x="575.8" y="628.6" width="66.8" height="3.1" fill="url(#h37)" shape-rendering="crispEdges"/>
<rect x="575.8" y="631.1" width="66.8" height="3.1" fill="url(#h38)" shape-rendering="crispEdges"/>
<rect x="575.8" y="633.6" width="66.8" height="3.1" fill="url(#h39)" shape-rendering="crispEdges"/>
<rect x="575.8" y="636.1" width="66.8" height="3.1" fill="url(#h40)" shape-rendering="crispEdges"/>
<rect x="575.8" y="638.6" width="66.8" height="3.1" fill="url(#h41)" shape-rendering="crispEdges"/>
<rect x="575.8" y="641.1" width="66.8" height="3.1" fill="url(#h42)" shape-rendering="crispEdges"/>
<rect x="575.8" y="643.6" width="66.8" height="3.1" fill="url(#h43)" shape-rendering="crispEdges"/>
<rect x="575.8" y="646.1" width="66.8" height="3.1" fill="url(#h44)" shape-rendering="crispEdges"/>
<rect x="575.8" y="648.6" width="66.8" height="3.1" fill="url(#h45)" shape-rendering="crispEdges"/>
<rect x="575.8" y="651.1" width="66.8" height="3.1" fill="url(#h46)" shape-rendering="crispEdges"/>
<rect x="575.8" y="653.6" width="66.8" height="3.1" fill="url(#h47)" shape-rendering="crispEdges"/>
<rect x="575.8" y="656.1" width="66.8" height="3.1" fill="url(#h48)" shape-rendering="crispEdges"/>
<rect x="575.8" y="658.6" width="66.8" height="3.1" fill="url(#h49)" shape-rendering="crispEdges"/>
<rect x="575.8" y="661.1" width="66.8" height="3.1" fill="url(#h50)" shape-rendering="crispEdges"/>
<rect x="575.8" y="663.6" width="66.8" height="3.1" fill="url(#h51)" shape-rendering="crispEdges"/>
<rect x="575.8" y="666.1" width="66.8" height="3.1" fill="url(#h52)" shape-rendering="crispEdges"/>
<rect x="575.8" y="668.6" width="66.8" height="3.1" fill="url(#h53)" shape-rendering="crispEdges"/>
<rect x="575.8" y="671.1" width="66.8" height="3.1" fill="url(#h54)" shape-rendering="crispEdges"/>
<rect x="575.8" y="673.6" width="66.8" height="3.1" fill="url(#h55)" shape-rendering="crispEdges"/>
<rect x="575.8" y="676.1" width="66.8" height="3.1" fill="url(#h56)" shape-rendering="crispEdges"/>
<rect x="575.8" y="678.6" width="66.8" height="3.1" fill="url(#h57)" shape-rendering="crispEdges"/>
<rect x="575.8" y="681.1" width="66.8" height="1.7" fill="url(#h58)" shape-rendering="crispEdges"/>
<rect x="575.8" y="684.2" width="66.8" height="2.8" fill="url(#h59)" shape-rendering="crispEdges"/>
<rect x="575.8" y="686.4" width="66.8" height="3.6" fill="url(#h60)" shape-rendering="crispEdges"/>
<rect x="575.8" y="689.4" width="66.8" height="4.1" fill="url(#h61)" shape-rendering="crispEdges"/>
<rect x="575.8" y="692.9" width="66.8" height="4.6" fill="url(#h62)" shape-rendering="crispEdges"/>
<rect x="575.8" y="696.9" width="66.8" height="4.6" fill="url(#h63)" shape-rendering="crispEdges"/>
<rect x="575.8" y="700.9" width="66.8" height="4.6" fill="url(#h64)" shape-rendering="crispEdges"/>
<rect x="575.8" y="704.9" width="66.8" height="4.1" fill="url(#h65)" shape-rendering="crispEdges"/>
<rect x="575.8" y="708.4" width="66.8" height="4.1" fill="url(#h66)" shape-rendering="crispEdges"/>
<rect x="575.8" y="711.9" width="66.8" height="4.1" fill="url(#h67)" shape-rendering="crispEdges"/>
<rect x="575.8" y="715.4" width="66.8" height="4.1" fill="url(#h68)" shape-rendering="crispEdges"/>
<rect x="575.8" y="718.9" width="66.8" height="4.1" fill="url(#h69)" shape-rendering="crispEdges"/>
<rect x="575.8" y="722.4" width="66.8" height="4.1" fill="url(#h70)" shape-rendering="crispEdges"/>
<rect x="575.8" y="725.9" width="66.8" height="4.1" fill="url(#h71)" shape-rendering="crispEdges"/>
<rect x="575.8" y="729.4" width="66.8" height="4.1" fill="url(#h72)" shape-rendering="crispEdges"/>
<rect x="575.8" y="732.9" width="66.8" height="4.1" fill="url(#h73)" shape-rendering="crispEdges"/>
<rect x="575.8" y="736.4" width="66.8" height="4.1" fill="url(#h74)" shape-rendering="crispEdges"/>
<rect x="575.8" y="739.9" width="66.8" height="4.1" fill="url(#h75)" shape-rendering="crispEdges"/>
<rect x="575.8" y="743.4" width="66.8" height="4.1" fill="url(#h76)" shape-rendering="crispEdges"/>
<rect x="575.8" y="746.9" width="66.8" height="4.1" fill="url(#h77)" shape-rendering="crispEdges"/>
<rect x="575.8" y="750.4" width="66.8" height="4.1" fill="url(#h78)" shape-rendering="crispEdges"/>
<rect x="575.8" y="753.9" width="66.8" height="4.1" fill="url(#h79)" shape-rendering="crispEdges"/>
<rect x="575.8" y="757.4" width="66.8" height="4.1" fill="url(#h80)" shape-rendering="crispEdges"/>
<rect x="575.8" y="760.9" width="66.8" height="4.1" fill="url(#h81)" shape-rendering="crispEdges"/>
<rect x="575.8" y="764.4" width="66.8" height="4.1" fill="url(#h82)" shape-rendering="crispEdges"/>
<rect x="575.8" y="767.9" width="66.8" height="4.1" fill="url(#h83)" shape-rendering="crispEdges"/>
<rect x="575.8" y="771.4" width="66.8" height="4.1" fill="url(#h84)" shape-rendering="crispEdges"/>
<rect x="575.8" y="774.9" width="66.8" height="4.1" fill="url(#h85)" shape-rendering="crispEdges"/>
<rect x="575.8" y="778.4" width="66.8" height="4.1" fill="url(#h86)" shape-rendering="crispEdges"/>
<rect x="575.8" y="781.9" width="66.8" height="4.1" fill="url(#h87)" shape-rendering="crispEdges"/>
<rect x="575.8" y="785.4" width="66.8" height="4.1" fill="url(#h88)" shape-rendering="crispEdges"/>
<rect x="575.8" y="788.9" width="66.8" height="4.1" fill="url(#h89)" shape-rendering="crispEdges"/>
<rect x="575.8" y="792.4" width="66.8" height="4.1" fill="url(#h90)" shape-rendering="crispEdges"/>
<rect x="575.8" y="795.9" width="66.8" height="4.1" fill="url(#h91)" shape-rendering="crispEdges"/>
<rect x="575.8" y="799.4" width="66.8" height="4.1" fill="url(#h92)" shape-rendering="crispEdges"/>
<rect x="575.8" y="802.9" width="66.8" height="4.1" fill="url(#h93)" shape-rendering="crispEdges"/>
<rect x="575.8" y="806.4" width="66.8" height="4.1" fill="url(#h94)" shape-rendering="crispEdges"/>
<rect x="575.8" y="809.9" width="66.8" height="4.1" fill="url(#h95)" shape-rendering="crispEdges"/>
<rect x="575.8" y="813.4" width="66.8" height="4.1" fill="url(#h96)" shape-rendering="crispEdges"/>
<rect x="575.8" y="816.9" width="66.8" height="4.1" fill="url(#h97)" shape-rendering="crispEdges"/>
<rect x="575.8" y="820.4" width="66.8" height="4.1" fill="url(#h98)" shape-rendering="crispEdges"/>
<rect x="575.8" y="823.9" width="66.8" height="4.1" fill="url(#h99)" shape-rendering="crispEdges"/>
<rect x="575.8" y="827.4" width="66.8" height="4.1" fill="url(#h100)" shape-rendering="crispEdges"/>
<rect x="575.8" y="830.9" width="66.8" height="4.1" fill="url(#h101)" shape-rendering="crispEdges"/>
<rect x="575.8" y="834.4" width="66.8" height="4.1" fill="url(#h102)" shape-rendering="crispEdges"/>
<rect x="575.8" y="837.9" width="66.8" height="4.1" fill="url(#h103)" shape-rendering="crispEdges"/>
<rect x="575.8" y="841.4" width="66.8" height="4.1" fill="url(#h104)" shape-rendering="crispEdges"/>
<rect x="575.8" y="844.9" width="66.8" height="4.1" fill="url(#h105)" shape-rendering="crispEdges"/>
<rect x="575.8" y="848.4" width="66.8" height="4.1" fill="url(#h106)" shape-rendering="crispEdges"/>
<rect x="575.8" y="851.9" width="66.8" height="4.1" fill="url(#h107)" shape-rendering="crispEdges"/>
<rect x="575.8" y="855.4" width="66.8" height="4.1" fill="url(#h108)" shape-rendering="crispEdges"/>
<rect x="575.8" y="858.9" width="66.8" height="4.1" fill="url(#h109)" shape-rendering="crispEdges"/>
<rect x="575.8" y="862.4" width="66.8" height="4.1" fill="url(#h110)" shape-rendering="crispEdges"/>
<rect x="575.8" y="865.9" width="66.8" height="4.1" fill="url(#h111)" shape-rendering="crispEdges"/>
<rect x="575.8" y="869.4" width="66.8" height="4.1" fill="url(#h112)" shape-rendering="crispEdges"/>
<rect x="575.8" y="872.9" width="66.8" height="4.1" fill="url(#h113)" shape-rendering="crispEdges"/>
<rect x="575.8" y="876.4" width="66.8" height="4.1" fill="url(#h114)" shape-rendering="crispEdges"/>
<rect x="575.8" y="879.9" width="66.8" height="4.1" fill="url(#h115)" shape-rendering="crispEdges"/>
<rect x="575.8" y="883.4" width="66.8" height="4.1" fill="url(#h116)" shape-rendering="crispEdges"/>
<rect x="575.8" y="886.9" width="66.8" height="4.1" fill="url(#h117)" shape-rendering="crispEdges"/>
<rect x="575.8" y="890.4" width="66.8" height="4.1" fill="url(#h118)" shape-rendering="crispEdges"/>
<rect x="575.8" y="893.9" width="66.8" height="4.1" fill="url(#h119)" shape-rendering="crispEdges"/>
<rect x="575.8" y="897.4" width="66.8" height="4.1" fill="url(#h120)" shape-rendering="crispEdges"/>
<rect x="575.8" y="900.9" width="66.8" height="4.1" fill="url(#h121)" shape-rendering="crispEdges"/>
<rect x="575.8" y="904.4" width="66.8" height="4.1" fill="url(#h122)" shape-rendering="crispEdges"/>
<rect x="575.8" y="907.9" width="66.8" height="4.1" fill="url(#h123)" shape-rendering="crispEdges"/>
<rect x="575.8" y="911.4" width="66.8" height="4.1" fill="url(#h124)" shape-rendering="crispEdges"/>
<rect x="575.8" y="914.9" width="66.8" height="4.1" fill="url(#h125)" shape-rendering="crispEdges"/>
<rect x="575.8" y="918.4" width="66.8" height="4.1" fill="url(#h126)" shape-rendering="crispEdges"/>
<rect x="575.8" y="921.9" width="66.8" height="4.1" fill="url(#h127)" shape-rendering="crispEdges"/>
<rect x="575.8" y="925.4" width="66.8" height="4.1" fill="url(#h128)" shape-rendering="crispEdges"/>
<rect x="575.8" y="928.9" width="66.8" height="4.1" fill="url(#h129)" shape-rendering="crispEdges"/>
<rect x="575.8" y="932.4" width="66.8" height="4.1" fill="url(#h130)" shape-rendering="crispEdges"/>
<rect x="575.8" y="935.9" width="66.8" height="4.1" fill="url(#h131)" shape-rendering="crispEdges"/>
<rect x="575.8" y="939.4" width="66.8" height="4.1" fill="url(#h132)" shape-rendering="crispEdges"/>
<rect x="575.8" y="942.9" width="66.8" height="4.1" fill="url(#h133)" shape-rendering="crispEdges"/>
<rect x="575.8" y="946.4" width="66.8" height="4.1" fill="url(#h134)" shape-rendering="crispEdges"/>
<rect x="575.8" y="949.9" width="66.8" height="4.1" fill="url(#h135)" shape-rendering="crispEdges"/>
<rect x="575.8" y="953.4" width="66.8" height="4.1" fill="url(#h136)" shape-rendering="crispEdges"/>
<rect x="575.8" y="956.9" width="66.8" height="4.1" fill="url(#h137)" shape-rendering="crispEdges"/>
<rect x="575.8" y="960.4" width="66.8" height="2.1" fill="url(#h138)" shape-rendering="crispEdges"/>
<rect x="575.8" y="546.5" width="66.8" height="30.7" fill="none" stroke="#777" stroke-width="0.6"/>
<rect x="575.8" y="578.9" width="66.8" height="103.3" fill="none" stroke="#777" stroke-width="0.6"/>
<rect x="575.8" y="684.2" width="66.8" height="277.7" fill="none" stroke="#777" stroke-width="0.6"/>
<line x1="575.8" y1="961.9" x2="575.8" y2="964.5" stroke="#666" stroke-width="0.7" />
<line x1="609.2" y1="961.9" x2="609.2" y2="964.5" stroke="#666" stroke-width="0.7" />
<line x1="642.6" y1="961.9" x2="642.6" y2="964.5" stroke="#666" stroke-width="0.7" />
<text x="609.2" y="539.82" font-size="8.4" text-anchor="middle" fill="#333">Center</text>
<text x="576.4" y="972.12" font-size="7" text-anchor="start" fill="#333" textLength="11.3" lengthAdjust="spacingAndGlyphs">−1.0</text>
<text x="599.2" y="972.12" font-size="7" text-anchor="start" fill="#333" textLength="20.3" lengthAdjust="spacingAndGlyphs">Center</text>
<text x="624" y="972.12" font-size="7" text-anchor="start" fill="#333" textLength="18.1" lengthAdjust="spacingAndGlyphs">1.0 Kb</text>
<text x="609.2" y="983.2" font-size="8.6" text-anchor="middle" fill="#333" textLength="52.6" lengthAdjust="spacingAndGlyphs">Gene distance</text>
<text x="609.2" y="992.4" font-size="8.6" text-anchor="middle" fill="#333">(bp)</text>
<text transform="translate(500.3,561.8) rotate(-90)" font-size="7.8" text-anchor="middle" fill="#333">cluster_1</text>
<text transform="translate(500.3,630.5) rotate(-90)" font-size="7.8" text-anchor="middle" fill="#333">cluster_2</text>
<text transform="translate(500.3,823) rotate(-90)" font-size="7.8" text-anchor="middle" fill="#333">cluster_3</text>
<defs><linearGradient id="hcb" x1="0" x2="0" y1="0" y2="1"><stop offset="0" stop-color="#2f3f96"/><stop offset="0.1" stop-color="#4777b6"/><stop offset="0.2" stop-color="#76aed2"/><stop offset="0.3" stop-color="#acd8e8"/><stop offset="0.4" stop-color="#dff1f5"/><stop offset="0.5" stop-color="#fcfcc2"/><stop offset="0.6" stop-color="#fddf92"/><stop offset="0.7" stop-color="#fbac63"/><stop offset="0.8" stop-color="#f06c45"/><stop offset="0.9" stop-color="#d53029"/><stop offset="1" stop-color="#a50f32"/></linearGradient></defs>
<rect x="647.2" y="546.5" width="6.5" height="415.4" fill="url(#hcb)" />
<line x1="653.7" y1="961.9" x2="655.7" y2="961.9" stroke="#555" stroke-width="0.6" />
<text x="657.5" y="964.35" font-size="6.8" text-anchor="start" fill="#333">0</text>
<line x1="653.7" y1="894.5" x2="655.7" y2="894.5" stroke="#555" stroke-width="0.6" />
<text x="657.5" y="896.95" font-size="6.8" text-anchor="start" fill="#333">10</text>
<line x1="653.7" y1="827.1" x2="655.7" y2="827.1" stroke="#555" stroke-width="0.6" />
<text x="657.5" y="829.55" font-size="6.8" text-anchor="start" fill="#333">20</text>
<line x1="653.7" y1="759.7" x2="655.7" y2="759.7" stroke="#555" stroke-width="0.6" />
<text x="657.5" y="762.15" font-size="6.8" text-anchor="start" fill="#333">30</text>
<line x1="653.7" y1="692.3" x2="655.7" y2="692.3" stroke="#555" stroke-width="0.6" />
<text x="657.5" y="694.75" font-size="6.8" text-anchor="start" fill="#333">40</text>
<line x1="653.7" y1="624.9" x2="655.7" y2="624.9" stroke="#555" stroke-width="0.6" />
<text x="657.5" y="627.35" font-size="6.8" text-anchor="start" fill="#333">50</text>
<line x1="653.7" y1="557.5" x2="655.7" y2="557.5" stroke="#555" stroke-width="0.6" />
<text x="657.5" y="559.95" font-size="6.8" text-anchor="start" fill="#333">60</text>
<text x="141.2" y="927.8" font-size="15.5" text-anchor="start" fill="#111" font-weight="bold">i</text>
<text transform="translate(186.3,943.7) scale(1.5946,1.0610)" font-size="10" font-weight="bold" fill="#2ba24c">A</text>
<text transform="translate(186.5,947.9) scale(1.8166,0.6105)" font-size="10" font-weight="bold" fill="#de2230">T</text>
<text transform="translate(186.03,952.74) scale(1.6361,0.6497)" font-size="10" font-weight="bold" fill="#1c55b5">C</text>
<text transform="translate(186.05,958.22) scale(1.5852,0.7768)" font-size="10" font-weight="bold" fill="#f3a523">G</text>
<text transform="translate(197.6,943.7) scale(1.5946,1.0320)" font-size="10" font-weight="bold" fill="#2ba24c">A</text>
<text transform="translate(197.35,950.31) scale(1.5852,0.8757)" font-size="10" font-weight="bold" fill="#f3a523">G</text>
<text transform="translate(197.33,954.55) scale(1.6361,0.5085)" font-size="10" font-weight="bold" fill="#1c55b5">C</text>
<text transform="translate(197.33,958.25) scale(1.6361,0.4661)" font-size="10" font-weight="bold" fill="#1c55b5">C</text>
<text transform="translate(209.1,958.3) scale(1.8166,3.1831)" font-size="10" font-weight="bold" fill="#de2230">T</text>
<text transform="translate(219.95,950.79) scale(1.5852,2.0621)" font-size="10" font-weight="bold" fill="#f3a523">G</text>
<text transform="translate(220.4,958.3) scale(1.8166,0.9884)" font-size="10" font-weight="bold" fill="#de2230">T</text>
<text transform="translate(231.5,958.3) scale(1.5946,3.1831)" font-size="10" font-weight="bold" fill="#2ba24c">A</text>
<text transform="translate(242.55,943.6) scale(1.5852,1.0311)" font-size="10" font-weight="bold" fill="#f3a523">G</text>
<text transform="translate(242.53,950.9) scale(1.6361,0.9605)" font-size="10" font-weight="bold" fill="#1c55b5">C</text>
<text transform="translate(243,955.5) scale(1.8166,0.5814)" font-size="10" font-weight="bold" fill="#de2230">T</text>
<text transform="translate(242.8,958.3) scale(1.5946,0.4070)" font-size="10" font-weight="bold" fill="#2ba24c">A</text>
<text transform="translate(254.3,958.3) scale(1.8166,3.1831)" font-size="10" font-weight="bold" fill="#de2230">T</text>
<text transform="translate(265.13,952.57) scale(1.6361,2.3164)" font-size="10" font-weight="bold" fill="#1c55b5">C</text>
<text transform="translate(265.4,958.3) scale(1.5946,0.7994)" font-size="10" font-weight="bold" fill="#2ba24c">A</text>
<text transform="translate(276.7,958.3) scale(1.5946,3.1831)" font-size="10" font-weight="bold" fill="#2ba24c">A</text>
<text transform="translate(288.2,944.6) scale(1.8166,1.1919)" font-size="10" font-weight="bold" fill="#de2230">T</text>
<text transform="translate(287.73,950.91) scale(1.6361,0.9040)" font-size="10" font-weight="bold" fill="#1c55b5">C</text>
<text transform="translate(287.75,955.45) scale(1.5852,0.5085)" font-size="10" font-weight="bold" fill="#f3a523">G</text>
<text transform="translate(287.73,958.26) scale(1.6361,0.3955)" font-size="10" font-weight="bold" fill="#1c55b5">C</text>
<text transform="translate(186.3,971) scale(1.5946,1.4535)" font-size="10" font-weight="bold" fill="#2ba24c">A</text>
<text transform="translate(186.05,977.32) scale(1.5852,0.8192)" font-size="10" font-weight="bold" fill="#f3a523">G</text>
<text transform="translate(186.03,980.17) scale(1.6361,0.3390)" font-size="10" font-weight="bold" fill="#1c55b5">C</text>
<text transform="translate(186.5,982.9) scale(1.8166,0.3924)" font-size="10" font-weight="bold" fill="#de2230">T</text>
<text transform="translate(197.33,976.28) scale(1.6361,2.1893)" font-size="10" font-weight="bold" fill="#1c55b5">C</text>
<text transform="translate(197.35,980.15) scale(1.5852,0.5226)" font-size="10" font-weight="bold" fill="#f3a523">G</text>
<text transform="translate(197.6,982.9) scale(1.5946,0.3924)" font-size="10" font-weight="bold" fill="#2ba24c">A</text>
<text transform="translate(208.9,982.9) scale(1.5946,2.9215)" font-size="10" font-weight="bold" fill="#2ba24c">A</text>
<text transform="translate(219.95,982.63) scale(1.5852,2.6977)" font-size="10" font-weight="bold" fill="#f3a523">G</text>
<text transform="translate(231.25,982.6) scale(1.5852,3.0367)" font-size="10" font-weight="bold" fill="#f3a523">G</text>
<text transform="translate(242.8,982.9) scale(1.5946,2.7762)" font-size="10" font-weight="bold" fill="#2ba24c">A</text>
<text transform="translate(254.1,978.9) scale(1.5946,1.9331)" font-size="10" font-weight="bold" fill="#2ba24c">A</text>
<text transform="translate(254.3,982.9) scale(1.8166,0.5814)" font-size="10" font-weight="bold" fill="#de2230">T</text>
<text transform="translate(265.15,972.74) scale(1.5852,1.6243)" font-size="10" font-weight="bold" fill="#f3a523">G</text>
<text transform="translate(265.6,977.1) scale(1.8166,0.6105)" font-size="10" font-weight="bold" fill="#de2230">T</text>
<text transform="translate(265.4,982.9) scale(1.5946,0.8430)" font-size="10" font-weight="bold" fill="#2ba24c">A</text>
<text transform="translate(276.9,972) scale(1.8166,1.5988)" font-size="10" font-weight="bold" fill="#de2230">T</text>
<text transform="translate(276.43,976.44) scale(1.6361,0.6356)" font-size="10" font-weight="bold" fill="#1c55b5">C</text>
<text transform="translate(276.7,980.2) scale(1.5946,0.5378)" font-size="10" font-weight="bold" fill="#2ba24c">A</text>
<text transform="translate(276.45,982.86) scale(1.5852,0.3814)" font-size="10" font-weight="bold" fill="#f3a523">G</text>
<text transform="translate(287.75,969.09) scale(1.5852,1.1017)" font-size="10" font-weight="bold" fill="#f3a523">G</text>
<text transform="translate(288,974.2) scale(1.5946,0.7267)" font-size="10" font-weight="bold" fill="#2ba24c">A</text>
<text transform="translate(287.73,978.84) scale(1.6361,0.5932)" font-size="10" font-weight="bold" fill="#1c55b5">C</text>
<text transform="translate(288.2,982.9) scale(1.8166,0.5814)" font-size="10" font-weight="bold" fill="#de2230">T</text>
<text transform="translate(158.88,1004.8) scale(1.6677,2.6163)" font-size="10" font-weight="bold" fill="#2ba24c">A</text>
<text transform="translate(158.6,1006.18) scale(1.7110,0.1554)" font-size="10" font-weight="bold" fill="#1c55b5">C</text>
<text transform="translate(158.62,1007.33) scale(1.6578,0.1554)" font-size="10" font-weight="bold" fill="#f3a523">G</text>
<text transform="translate(159.09,1008.5) scale(1.8998,0.1599)" font-size="10" font-weight="bold" fill="#de2230">T</text>
<text transform="translate(170.67,1004.8) scale(1.6677,2.6163)" font-size="10" font-weight="bold" fill="#2ba24c">A</text>
<text transform="translate(170.39,1006.18) scale(1.7110,0.1554)" font-size="10" font-weight="bold" fill="#1c55b5">C</text>
<text transform="translate(170.88,1007.35) scale(1.8998,0.1599)" font-size="10" font-weight="bold" fill="#de2230">T</text>
<text transform="translate(170.41,1008.48) scale(1.6578,0.1554)" font-size="10" font-weight="bold" fill="#f3a523">G</text>
<text transform="translate(182.46,1004.8) scale(1.6677,2.5581)" font-size="10" font-weight="bold" fill="#2ba24c">A</text>
<text transform="translate(182.2,1006.18) scale(1.6578,0.1554)" font-size="10" font-weight="bold" fill="#f3a523">G</text>
<text transform="translate(182.18,1007.33) scale(1.7110,0.1554)" font-size="10" font-weight="bold" fill="#1c55b5">C</text>
<text transform="translate(182.67,1008.5) scale(1.8998,0.1599)" font-size="10" font-weight="bold" fill="#de2230">T</text>
<text transform="translate(193.99,1004.57) scale(1.6578,2.3446)" font-size="10" font-weight="bold" fill="#f3a523">G</text>
<text transform="translate(193.97,1006.18) scale(1.7110,0.1554)" font-size="10" font-weight="bold" fill="#1c55b5">C</text>
<text transform="translate(194.25,1007.35) scale(1.6677,0.1599)" font-size="10" font-weight="bold" fill="#2ba24c">A</text>
<text transform="translate(194.46,1008.5) scale(1.8998,0.1599)" font-size="10" font-weight="bold" fill="#de2230">T</text>
<text transform="translate(206.25,1004.8) scale(1.8998,2.5872)" font-size="10" font-weight="bold" fill="#de2230">T</text>
<text transform="translate(206.04,1006.2) scale(1.6677,0.1599)" font-size="10" font-weight="bold" fill="#2ba24c">A</text>
<text transform="translate(205.78,1007.33) scale(1.6578,0.1554)" font-size="10" font-weight="bold" fill="#f3a523">G</text>
<text transform="translate(205.76,1008.48) scale(1.7110,0.1554)" font-size="10" font-weight="bold" fill="#1c55b5">C</text>
<text transform="translate(217.57,1004.56) scale(1.6578,2.4435)" font-size="10" font-weight="bold" fill="#f3a523">G</text>
<text transform="translate(217.83,1006.2) scale(1.6677,0.1599)" font-size="10" font-weight="bold" fill="#2ba24c">A</text>
<text transform="translate(217.55,1007.33) scale(1.7110,0.1554)" font-size="10" font-weight="bold" fill="#1c55b5">C</text>
<text transform="translate(218.04,1008.5) scale(1.8998,0.1599)" font-size="10" font-weight="bold" fill="#de2230">T</text>
<text transform="translate(229.62,1004.8) scale(1.6677,2.5872)" font-size="10" font-weight="bold" fill="#2ba24c">A</text>
<text transform="translate(229.36,1006.18) scale(1.6578,0.1554)" font-size="10" font-weight="bold" fill="#f3a523">G</text>
<text transform="translate(229.34,1007.33) scale(1.7110,0.1554)" font-size="10" font-weight="bold" fill="#1c55b5">C</text>
<text transform="translate(229.83,1008.5) scale(1.8998,0.1599)" font-size="10" font-weight="bold" fill="#de2230">T</text>
<text transform="translate(241.41,1004.8) scale(1.6677,2.5872)" font-size="10" font-weight="bold" fill="#2ba24c">A</text>
<text transform="translate(241.13,1006.18) scale(1.7110,0.1554)" font-size="10" font-weight="bold" fill="#1c55b5">C</text>
<text transform="translate(241.62,1007.35) scale(1.8998,0.1599)" font-size="10" font-weight="bold" fill="#de2230">T</text>
<text transform="translate(241.15,1008.48) scale(1.6578,0.1554)" font-size="10" font-weight="bold" fill="#f3a523">G</text>
<text transform="translate(253.2,1004.8) scale(1.6677,2.5581)" font-size="10" font-weight="bold" fill="#2ba24c">A</text>
<text transform="translate(253.41,1006.2) scale(1.8998,0.1599)" font-size="10" font-weight="bold" fill="#de2230">T</text>
<text transform="translate(252.92,1007.33) scale(1.7110,0.1554)" font-size="10" font-weight="bold" fill="#1c55b5">C</text>
<text transform="translate(252.94,1008.48) scale(1.6578,0.1554)" font-size="10" font-weight="bold" fill="#f3a523">G</text>
<text transform="translate(264.73,1004.56) scale(1.6578,2.3729)" font-size="10" font-weight="bold" fill="#f3a523">G</text>
<text transform="translate(264.71,1006.18) scale(1.7110,0.1554)" font-size="10" font-weight="bold" fill="#1c55b5">C</text>
<text transform="translate(264.99,1007.35) scale(1.6677,0.1599)" font-size="10" font-weight="bold" fill="#2ba24c">A</text>
<text transform="translate(265.2,1008.5) scale(1.8998,0.1599)" font-size="10" font-weight="bold" fill="#de2230">T</text>
<text transform="translate(276.99,1004.8) scale(1.8998,2.5872)" font-size="10" font-weight="bold" fill="#de2230">T</text>
<text transform="translate(276.52,1006.18) scale(1.6578,0.1554)" font-size="10" font-weight="bold" fill="#f3a523">G</text>
<text transform="translate(276.5,1007.33) scale(1.7110,0.1554)" font-size="10" font-weight="bold" fill="#1c55b5">C</text>
<text transform="translate(276.78,1008.5) scale(1.6677,0.1599)" font-size="10" font-weight="bold" fill="#2ba24c">A</text>
<text transform="translate(288.31,1004.56) scale(1.6578,2.4435)" font-size="10" font-weight="bold" fill="#f3a523">G</text>
<text transform="translate(288.57,1006.2) scale(1.6677,0.1599)" font-size="10" font-weight="bold" fill="#2ba24c">A</text>
<text transform="translate(288.29,1007.33) scale(1.7110,0.1554)" font-size="10" font-weight="bold" fill="#1c55b5">C</text>
<text transform="translate(288.78,1008.5) scale(1.8998,0.1599)" font-size="10" font-weight="bold" fill="#de2230">T</text>
<text x="319.4" y="931.12" font-size="8.4" text-anchor="middle" fill="#333" textLength="23" lengthAdjust="spacingAndGlyphs">Name</text>
<text x="358" y="931.12" font-size="8.4" text-anchor="middle" fill="#333" font-style="italic">P</text>
<text x="320.3" y="944.92" font-size="8.4" text-anchor="middle" fill="#333" textLength="15.4" lengthAdjust="spacingAndGlyphs">Fra1</text>
<text x="320.3" y="955.12" font-size="8.4" text-anchor="middle" fill="#333" textLength="23" lengthAdjust="spacingAndGlyphs">(bZIP)</text>
<text x="320" y="970.62" font-size="8.4" text-anchor="middle" fill="#333" textLength="16.7" lengthAdjust="spacingAndGlyphs">ERG</text>
<text x="320.5" y="980.82" font-size="8.4" text-anchor="middle" fill="#333" textLength="21.3" lengthAdjust="spacingAndGlyphs">(ETS)</text>
<text x="320.2" y="993.92" font-size="8.4" text-anchor="middle" fill="#333" textLength="26.1" lengthAdjust="spacingAndGlyphs">PRDM1</text>
<text x="320.3" y="1003.82" font-size="8.4" text-anchor="middle" fill="#333" textLength="14" lengthAdjust="spacingAndGlyphs">(Zf)</text>
<text x="341.5" y="951.41" font-size="9.2" text-anchor="start" fill="#333" textLength="20.6" lengthAdjust="spacingAndGlyphs">1 × 10</text>
<text x="362.4" y="946.5" font-size="5" text-anchor="start" fill="#444">−196</text>
<text x="341.5" y="976.31" font-size="9.2" text-anchor="start" fill="#333" textLength="20.6" lengthAdjust="spacingAndGlyphs">1 × 10</text>
<text x="362.4" y="971.4" font-size="5" text-anchor="start" fill="#444">−53</text>
<text x="341.5" y="1000.11" font-size="9.2" text-anchor="start" fill="#333" textLength="20.6" lengthAdjust="spacingAndGlyphs">1 × 10</text>
<text x="362.4" y="995.2" font-size="5" text-anchor="start" fill="#444">−22</text>
</svg></body></html>
